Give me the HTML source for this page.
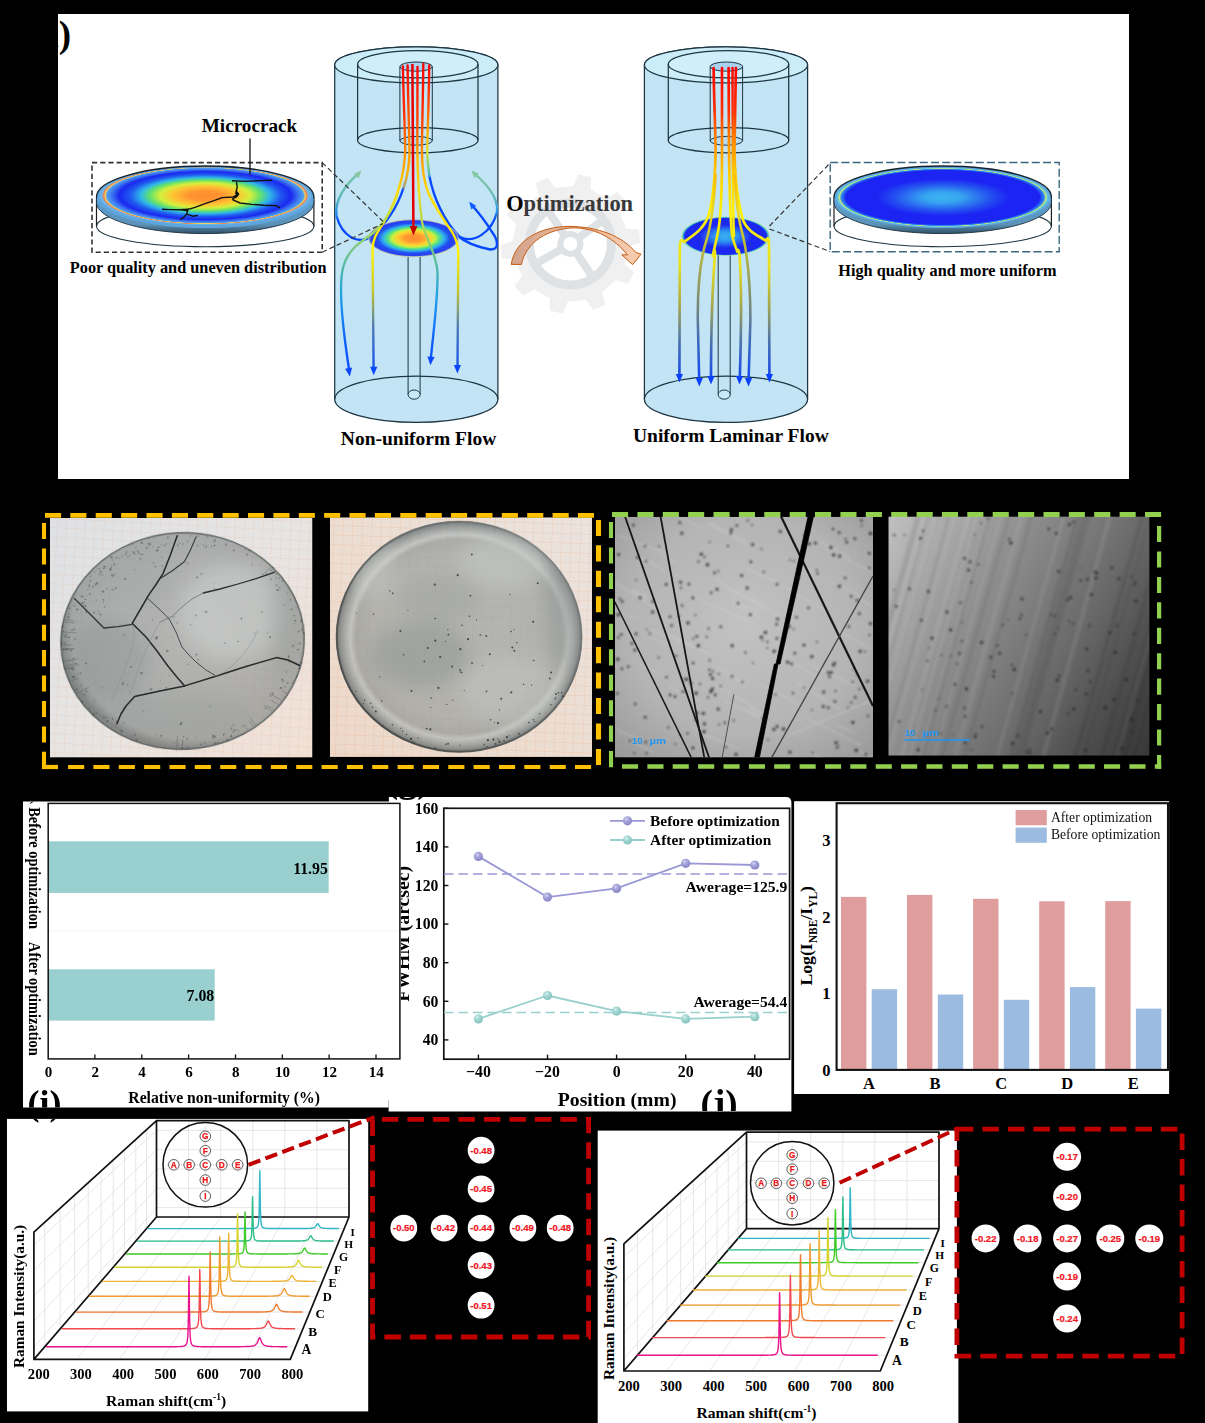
<!DOCTYPE html>
<html><head><meta charset="utf-8"><title>figure</title>
<style>html,body{margin:0;padding:0;background:#000;}svg{display:block;}</style></head>
<body><svg width="1205" height="1423" viewBox="0 0 1205 1423">
<defs>
<clipPath id="cpTop"><rect x="58" y="14" width="1071" height="465"/></clipPath>
<linearGradient id="gL" gradientUnits="userSpaceOnUse" x1="0" y1="66" x2="0" y2="378">
<stop offset="0" stop-color="#ff0000"/><stop offset="0.16" stop-color="#ff3000"/><stop offset="0.28" stop-color="#ff9000"/>
<stop offset="0.40" stop-color="#ffd800"/><stop offset="0.60" stop-color="#fff000"/><stop offset="0.72" stop-color="#c8c828"/>
<stop offset="0.84" stop-color="#4a78b8"/><stop offset="1" stop-color="#0a48ff"/></linearGradient>
<linearGradient id="gL2" gradientUnits="userSpaceOnUse" x1="0" y1="66" x2="0" y2="378">
<stop offset="0" stop-color="#ff0000"/><stop offset="0.20" stop-color="#ff5000"/><stop offset="0.30" stop-color="#ffc000"/>
<stop offset="0.40" stop-color="#f0e020"/><stop offset="0.52" stop-color="#a8d858"/><stop offset="0.62" stop-color="#60c098"/>
<stop offset="0.74" stop-color="#20a0e8"/><stop offset="0.88" stop-color="#1060ff"/><stop offset="1" stop-color="#0a48ff"/></linearGradient>
<linearGradient id="gBlue" gradientUnits="userSpaceOnUse" x1="0" y1="170" x2="0" y2="245">
<stop offset="0" stop-color="#86c8a0"/><stop offset="0.22" stop-color="#48a8d0"/><stop offset="0.5" stop-color="#1878f8"/>
<stop offset="0.75" stop-color="#0848ff"/><stop offset="1" stop-color="#0838ff"/></linearGradient>
<linearGradient id="gR" gradientUnits="userSpaceOnUse" x1="0" y1="66" x2="0" y2="388">
<stop offset="0" stop-color="#ff0000"/><stop offset="0.14" stop-color="#ff3000"/><stop offset="0.24" stop-color="#ff9000"/>
<stop offset="0.34" stop-color="#ffd000"/><stop offset="0.45" stop-color="#fff000"/><stop offset="0.62" stop-color="#e8e020"/>
<stop offset="0.74" stop-color="#a8a848"/><stop offset="0.86" stop-color="#4a70b0"/><stop offset="1" stop-color="#0a40ff"/></linearGradient>
<linearGradient id="gR2" gradientUnits="userSpaceOnUse" x1="0" y1="66" x2="0" y2="388">
<stop offset="0" stop-color="#ff0000"/><stop offset="0.3" stop-color="#ffb000"/><stop offset="0.45" stop-color="#e8d820"/>
<stop offset="0.6" stop-color="#b0b040"/><stop offset="0.74" stop-color="#788878"/><stop offset="0.86" stop-color="#3c68c0"/><stop offset="1" stop-color="#0a40ff"/></linearGradient>
<linearGradient id="gL6" gradientUnits="userSpaceOnUse" x1="0" y1="66" x2="0" y2="200">
<stop offset="0" stop-color="#ff0000"/><stop offset="0.3" stop-color="#ff5000"/><stop offset="0.5" stop-color="#ffb000"/>
<stop offset="0.64" stop-color="#e0e030"/><stop offset="0.74" stop-color="#80d080"/><stop offset="0.86" stop-color="#30a0e8"/><stop offset="1" stop-color="#1060ff"/></linearGradient>
<linearGradient id="gL2b" gradientUnits="userSpaceOnUse" x1="0" y1="66" x2="0" y2="200">
<stop offset="0" stop-color="#ff0000"/><stop offset="0.35" stop-color="#ff5000"/><stop offset="0.62" stop-color="#ff9800"/>
<stop offset="0.8" stop-color="#ffb000"/><stop offset="0.9" stop-color="#a0a080"/><stop offset="1" stop-color="#2070f0"/></linearGradient>
<linearGradient id="gBlueL" gradientUnits="userSpaceOnUse" x1="352" y1="176" x2="368" y2="192"><stop offset="0" stop-color="#86c8a0"/><stop offset="0.35" stop-color="#50b0c8"/><stop offset="0.7" stop-color="#2088f0"/><stop offset="1" stop-color="#0848ff"/></linearGradient>
<linearGradient id="gBlueR" gradientUnits="userSpaceOnUse" x1="481" y1="177" x2="466" y2="192"><stop offset="0" stop-color="#86c8a0"/><stop offset="0.35" stop-color="#50b0c8"/><stop offset="0.7" stop-color="#2088f0"/><stop offset="1" stop-color="#0848ff"/></linearGradient>
<radialGradient id="gDiskL" cx="0.5" cy="0.5" r="0.5">
<stop offset="0" stop-color="#ff8a30"/><stop offset="0.2" stop-color="#ff9a30"/><stop offset="0.36" stop-color="#ffd030"/>
<stop offset="0.48" stop-color="#c8f040"/><stop offset="0.58" stop-color="#50e088"/><stop offset="0.68" stop-color="#30b0f0"/>
<stop offset="0.8" stop-color="#2050f0"/><stop offset="0.93" stop-color="#2a3cf0"/><stop offset="1" stop-color="#7090e8"/></radialGradient>
<radialGradient id="gDiskR" cx="0.5" cy="0.5" r="0.5">
<stop offset="0" stop-color="#38b0f0"/><stop offset="0.25" stop-color="#3098f0"/><stop offset="0.6" stop-color="#1c28f0"/>
<stop offset="0.93" stop-color="#1c28f0"/><stop offset="0.97" stop-color="#40c0e0"/><stop offset="1" stop-color="#c0e060"/></radialGradient>
<linearGradient id="gRim" x1="0" y1="0" x2="0" y2="1"><stop offset="0" stop-color="#5d9fd2"/><stop offset="0.75" stop-color="#5b92b8"/><stop offset="1" stop-color="#2f5066"/></linearGradient>
<radialGradient id="gInL" cx="0.5" cy="0.47" r="0.5">
<stop offset="0" stop-color="#ff8c30"/><stop offset="0.16" stop-color="#ff9632"/><stop offset="0.30" stop-color="#ffc232"/>
<stop offset="0.42" stop-color="#d4f03c"/><stop offset="0.52" stop-color="#60e070"/><stop offset="0.60" stop-color="#30b8e8"/>
<stop offset="0.70" stop-color="#2058f0"/><stop offset="0.80" stop-color="#1a28f0"/><stop offset="0.87" stop-color="#3c78f0"/>
<stop offset="0.915" stop-color="#50a0f0"/><stop offset="0.93" stop-color="#f0d060"/><stop offset="0.945" stop-color="#f08050"/>
<stop offset="0.96" stop-color="#70b8e8"/><stop offset="1" stop-color="#5ca4e0"/></radialGradient>
<radialGradient id="gInR" cx="0.5" cy="0.5" r="0.5">
<stop offset="0" stop-color="#3ab4f0"/><stop offset="0.18" stop-color="#36a4f0"/><stop offset="0.45" stop-color="#2450f0"/>
<stop offset="0.62" stop-color="#1c24f4"/><stop offset="0.90" stop-color="#1c24f4"/><stop offset="0.945" stop-color="#3090f0"/>
<stop offset="0.96" stop-color="#d0e870"/><stop offset="0.975" stop-color="#60c8e0"/><stop offset="1" stop-color="#5ca4e0"/></radialGradient>
<linearGradient id="gArr" x1="0" y1="0" x2="1" y2="0"><stop offset="0" stop-color="#d2a48c"/><stop offset="0.45" stop-color="#e8b89c"/><stop offset="1" stop-color="#f9cdb0"/></linearGradient>
<clipPath id="cp1"><rect x="49.9" y="518" width="262.6" height="239.6"/></clipPath>
<clipPath id="cp2"><rect x="329.9" y="517.3" width="262.1" height="239.6"/></clipPath>
<clipPath id="cp3"><rect x="614.9" y="516.8" width="258.1" height="240.8"/></clipPath>
<clipPath id="cp4"><rect x="888.3" y="516.4" width="261.3" height="239.3"/></clipPath>
<pattern id="grid1" width="1.87" height="1.87" patternUnits="userSpaceOnUse" patternTransform="rotate(3)"><path d="M0,0 H1.87 M0,0 V1.87" stroke="#f0a070" stroke-width="0.5" opacity="0.18" fill="none"/></pattern>
<pattern id="grid1b" width="9.35" height="9.35" patternUnits="userSpaceOnUse" patternTransform="rotate(3)"><path d="M0,0 H9.35 M0,0 V9.35" stroke="#ee9458" stroke-width="0.6" opacity="0.36" fill="none"/></pattern>
<linearGradient id="bg1" x1="0" y1="0" x2="1" y2="1"><stop offset="0" stop-color="#dce3e9"/><stop offset="0.5" stop-color="#e6e7e8"/><stop offset="1" stop-color="#f1e3d9"/></linearGradient>
<radialGradient id="disc1" cx="0.55" cy="0.45" r="0.55"><stop offset="0" stop-color="#959997"/><stop offset="0.6" stop-color="#888d8b"/><stop offset="0.92" stop-color="#797f7e"/><stop offset="1" stop-color="#3e4444"/></radialGradient>
<filter id="blurB" x="-30%" y="-30%" width="160%" height="160%"><feGaussianBlur stdDeviation="9"/></filter>
<filter id="blurS" x="-30%" y="-30%" width="160%" height="160%"><feGaussianBlur stdDeviation="0.5"/></filter>
<clipPath id="cpD1"><ellipse cx="182.6" cy="641" rx="122" ry="108.6" transform="rotate(-3 182.6 641)"/></clipPath>
<pattern id="grid2" width="1.9" height="1.9" patternUnits="userSpaceOnUse" patternTransform="rotate(2)"><path d="M0,0 H1.9 M0,0 V1.9" stroke="#f09860" stroke-width="0.5" opacity="0.22" fill="none"/></pattern>
<pattern id="grid2b" width="9.5" height="9.5" patternUnits="userSpaceOnUse" patternTransform="rotate(2)"><path d="M0,0 H9.5 M0,0 V9.5" stroke="#ee8848" stroke-width="0.6" opacity="0.4" fill="none"/></pattern>
<linearGradient id="bg2" x1="1" y1="0" x2="0" y2="1"><stop offset="0" stop-color="#eae8e6"/><stop offset="0.5" stop-color="#ece2d9"/><stop offset="1" stop-color="#eddccf"/></linearGradient>
<radialGradient id="disc2" cx="0.5" cy="0.5" r="0.5"><stop offset="0" stop-color="#909a9b"/><stop offset="0.7" stop-color="#8c9697"/><stop offset="0.84" stop-color="#808a8b"/><stop offset="0.885" stop-color="#a6b2b3"/><stop offset="0.93" stop-color="#7b888b"/><stop offset="0.975" stop-color="#49595e"/><stop offset="1" stop-color="#0a1216"/></radialGradient>
<clipPath id="cpD2"><ellipse cx="459.1" cy="636.7" rx="123" ry="115.6"/></clipPath>
<linearGradient id="edge2" x1="1" y1="0" x2="0" y2="1"><stop offset="0" stop-color="#8a9090" stop-opacity="0.5"/><stop offset="0.5" stop-color="#5a6060" stop-opacity="0.8"/><stop offset="1" stop-color="#3c4242" stop-opacity="0.95"/></linearGradient>
<radialGradient id="bg3" cx="0.5" cy="0.45" r="0.75"><stop offset="0" stop-color="#c2c2c2"/><stop offset="0.6" stop-color="#b4b4b4"/><stop offset="1" stop-color="#989898"/></radialGradient>
<filter id="blur1" x="-10%" y="-10%" width="120%" height="120%"><feGaussianBlur stdDeviation="0.85"/></filter>
<linearGradient id="bg4" x1="0" y1="0" x2="1.2" y2="0.66"><stop offset="0" stop-color="#c0c0c0"/><stop offset="0.2" stop-color="#a4a4a4"/><stop offset="0.35" stop-color="#8e8e8e"/><stop offset="0.5" stop-color="#7b7b7b"/><stop offset="0.64" stop-color="#696969"/><stop offset="0.8" stop-color="#505050"/><stop offset="1" stop-color="#363636"/></linearGradient>
<filter id="blur2" x="-10%" y="-10%" width="120%" height="120%"><feGaussianBlur stdDeviation="1.6"/></filter>
<clipPath id="cpC2b"><rect x="388.9" y="796.9" width="402" height="314"/></clipPath>
<clipPath id="cpC2"><rect x="400.6" y="797" width="391" height="314"/></clipPath>
<radialGradient id="mP" cx="0.38" cy="0.32" r="0.7"><stop offset="0" stop-color="#d8d6f4"/><stop offset="0.35" stop-color="#a9a6dc"/><stop offset="1" stop-color="#8783c6"/></radialGradient>
<radialGradient id="mT" cx="0.38" cy="0.32" r="0.7"><stop offset="0" stop-color="#dcf2f0"/><stop offset="0.35" stop-color="#a6d8d4"/><stop offset="1" stop-color="#84c2be"/></radialGradient>
<clipPath id="cpC1"><path d="M23,801.6 H400.6 V1100 H388.6 V1107.6 H23Z"/></clipPath>
<clipPath id="cpRL"><rect x="7" y="1118.9" width="361.2" height="292.5"/></clipPath>
</defs>
<rect x="0" y="0" width="1205" height="1423" fill="#000"/>
<g id="top">
<rect x="58" y="14" width="1071" height="465" fill="#fff"/>
<text x="71" y="47" font-size="37" text-anchor="end" font-family="Liberation Serif" font-weight="bold" clip-path="url(#cpTop)">(a)</text>
<path d="M624.7,264.3 L634.2,272.6 L627.7,284.1 L615.7,280.1 L602.3,292.3 L605.2,304.7 L593.2,310.1 L585.8,299.8 L567.7,301.8 L562.8,313.5 L549.9,310.8 L550,298.2 L534.2,289.2 L523.4,295.7 L514.5,286 L522,275.8 L514.5,259.3 L501.9,258.2 L500.4,245.1 L512.5,241.2 L516.1,223.5 L506.6,215.2 L513.1,203.7 L525.1,207.7 L538.5,195.5 L535.6,183.1 L547.6,177.7 L555,188 L573.1,186 L578,174.3 L590.9,177 L590.8,189.6 L606.6,198.6 L617.4,192.1 L626.3,201.8 L618.8,212 L626.3,228.5 L638.9,229.6 L640.4,242.7 L628.3,246.6Z" fill="#f0f0f1"/>
<circle cx="570.4" cy="243.9" r="41" fill="#fff" stroke="#dfe2e5" stroke-width="9"/>
<line x1="577.7" y1="238.6" x2="601.1" y2="221.6" stroke="#dfe2e5" stroke-width="8"/>
<line x1="575.4" y1="251.4" x2="591.6" y2="275.4" stroke="#dfe2e5" stroke-width="8"/>
<line x1="562.6" y1="248.4" x2="537.5" y2="262.9" stroke="#dfe2e5" stroke-width="8"/>
<line x1="565.4" y1="236.4" x2="549.2" y2="212.4" stroke="#dfe2e5" stroke-width="8"/>
<circle cx="570.4" cy="243.9" r="10" fill="#fff" stroke="#dfe2e5" stroke-width="6"/>
<path d="M334.7,64.9 L334.7,399.3 A81.6,23.2 0 0 0 497.9,399.3 L497.9,64.9 A81.6,18 0 0 0 334.7,64.9Z" fill="#c2e4f4" stroke="#1d3642" stroke-width="1.25"/>
<path d="M334.7,399.3 A81.6,23.2 0 0 1 497.9,399.3" fill="none" stroke="#1d3642" stroke-width="1.25"/>
<ellipse cx="416.3" cy="64.9" rx="81.6" ry="18" fill="#cbecf9" stroke="#1d3642" stroke-width="1.25"/>
<ellipse cx="417.8" cy="64.3" rx="60.2" ry="13.6" fill="#cdeefa" stroke="#1d3642" stroke-width="1.25"/>
<line x1="357.6" y1="64.3" x2="357.6" y2="140.2" stroke="#1d3642" stroke-width="1.25"/>
<line x1="478" y1="64.3" x2="478" y2="140.2" stroke="#1d3642" stroke-width="1.25"/>
<ellipse cx="417.8" cy="140.2" rx="60.2" ry="12.7" fill="none" stroke="#1d3642" stroke-width="1.25"/>
<ellipse cx="416.1" cy="66.6" rx="16.2" ry="4.6" fill="#a9d2f0" stroke="#1d3642" stroke-width="1"/>
<ellipse cx="416.1" cy="140.8" rx="16.2" ry="4.4" fill="#b5dcf3" stroke="#1d3642" stroke-width="1"/>
<line x1="399.9" y1="66.6" x2="399.9" y2="140.8" stroke="#1d3642" stroke-width="1"/>
<line x1="432.3" y1="66.6" x2="432.3" y2="140.8" stroke="#1d3642" stroke-width="1"/>
<line x1="408.1" y1="257" x2="408.1" y2="394.6" stroke="#1d3642" stroke-width="1"/>
<line x1="420.1" y1="257" x2="420.1" y2="394.6" stroke="#1d3642" stroke-width="1"/>
<ellipse cx="414.1" cy="394.6" rx="6" ry="4.6" fill="#c9eaf8" stroke="#1d3642" stroke-width="1"/>
<path d="M403.5,188 C398,205 388,222 372,236 C358,246 342,236 336.5,216 C334,200 346,184 359,173" fill="none" stroke="url(#gBlueL)" stroke-width="2.35" stroke-linecap="round" stroke-linejoin="round" />
<path d="M361.5,170.6 L358.7,178.2 L354.1,173.9Z" fill="#86c8a0"/>
<path d="M429.4,176 C433,196 444,222 460,237 C474,244 492,232 497,212 C499,196 484,182 473.5,172.5" fill="none" stroke="url(#gBlueR)" stroke-width="2.35" stroke-linecap="round" stroke-linejoin="round" />
<path d="M471.3,170.4 L478.8,173.5 L474.4,177.9Z" fill="#86c8a0"/>
<path d="M458,236 C466,243 478,247 490,249.5 C500,250 498,240 492,232 C486,222 478,212 471,204" fill="none" stroke="#0848ff" stroke-width="2.35" stroke-linecap="round" stroke-linejoin="round" />
<path d="M469.2,201.8 L476.3,205.8 L471.3,209.6Z" fill="#1060ff"/>
<ellipse cx="413.5" cy="238.2" rx="45" ry="18.6" fill="url(#gDiskL)" stroke="#e8d870" stroke-width="0.5"/>
<path d="M402.9,66.5 C403.5,100 405,130 405.2,150 C404.6,172 398,198 384,222 C376,234 372,240 372.6,252 L373.6,368" fill="none" stroke="url(#gL)" stroke-width="2.35" stroke-linecap="round" stroke-linejoin="round" />
<path d="M407.6,65.5 C408,100 409.2,130 409.5,152 C409.4,166 407,178 403.5,188" fill="none" stroke="url(#gL2b)" stroke-width="2.35" stroke-linecap="round" stroke-linejoin="round" />
<path d="M417.5,67 C417.5,100 417.2,130 417.3,150 C417.6,176 419,200 422,222 C426,240 436,252 437.5,272 C438,300 433,335 431,357" fill="none" stroke="url(#gL2)" stroke-width="2.35" stroke-linecap="round" stroke-linejoin="round" />
<path d="M423.3,64 C423,100 422,130 421.9,150 C422,170 424,182 428,192 C434,206 444,220 452,232 C457,240 458.4,246 458.3,254 L457.5,366" fill="none" stroke="url(#gL)" stroke-width="2.35" stroke-linecap="round" stroke-linejoin="round" />
<path d="M429.2,65.5 C429,100 427.5,130 427.2,150 C427.4,160 428.2,168 429.4,176" fill="none" stroke="url(#gL6)" stroke-width="2.35" stroke-linecap="round" stroke-linejoin="round" />
<path d="M397,196 C392,210 384,224 372,234 C360,242 348,250 343.5,266 C338,284 343,330 349,369" fill="none" stroke="url(#gL2)" stroke-width="2.35" stroke-linecap="round" stroke-linejoin="round" />
<path d="M349.9,376.6 L345,368.8 L352.1,367.6Z" fill="#0a48ff"/>
<path d="M373.7,375.2 L370.1,366.7 L377.3,366.7Z" fill="#0a48ff"/>
<path d="M430.4,365.2 L427.4,356.5 L434.6,357Z" fill="#0a48ff"/>
<path d="M457.4,373.6 L453.8,365.1 L461,365.1Z" fill="#0a48ff"/>
<line x1="412.4" y1="64" x2="413.4" y2="228" stroke="#e80000" stroke-width="2.5"/>
<path d="M413.5,235.6 L409.6,226 L417.4,226Z" fill="#c00000"/>
<text x="340.8" y="445" font-size="19.5" text-anchor="start" font-family="Liberation Serif" font-weight="bold" fill="#000" >Non-uniform Flow</text>
<path d="M644.4,64.9 L644.4,399.3 A81.6,23.2 0 0 0 807.6,399.3 L807.6,64.9 A81.6,18 0 0 0 644.4,64.9Z" fill="#c2e4f4" stroke="#1d3642" stroke-width="1.25"/>
<path d="M644.4,399.3 A81.6,23.2 0 0 1 807.6,399.3" fill="none" stroke="#1d3642" stroke-width="1.25"/>
<ellipse cx="726" cy="64.9" rx="81.6" ry="18" fill="#cbecf9" stroke="#1d3642" stroke-width="1.25"/>
<ellipse cx="728.5" cy="64.3" rx="60.2" ry="13.6" fill="#cdeefa" stroke="#1d3642" stroke-width="1.25"/>
<line x1="668.3" y1="64.3" x2="668.3" y2="140.2" stroke="#1d3642" stroke-width="1.25"/>
<line x1="788.7" y1="64.3" x2="788.7" y2="140.2" stroke="#1d3642" stroke-width="1.25"/>
<ellipse cx="728.5" cy="140.2" rx="60.2" ry="12.7" fill="none" stroke="#1d3642" stroke-width="1.25"/>
<ellipse cx="726.4" cy="66.6" rx="16.2" ry="4.6" fill="#a9d2f0" stroke="#1d3642" stroke-width="1"/>
<ellipse cx="726.4" cy="140.8" rx="16.2" ry="4.4" fill="#b5dcf3" stroke="#1d3642" stroke-width="1"/>
<line x1="710.2" y1="66.6" x2="710.2" y2="140.8" stroke="#1d3642" stroke-width="1"/>
<line x1="742.6" y1="66.6" x2="742.6" y2="140.8" stroke="#1d3642" stroke-width="1"/>
<line x1="718.2" y1="255" x2="718.2" y2="394.6" stroke="#1d3642" stroke-width="1"/>
<line x1="730.2" y1="255" x2="730.2" y2="394.6" stroke="#1d3642" stroke-width="1"/>
<ellipse cx="724.2" cy="394.6" rx="6" ry="4.6" fill="#c9eaf8" stroke="#1d3642" stroke-width="1"/>
<ellipse cx="725.6" cy="236.3" rx="44" ry="19.5" fill="url(#gDiskR)"/>
<path d="M713.6,68 C714,100 715.4,130 715.6,150 C715.2,175 714,195 709,214 C704,230 692,236 684,242 C681,238 680,240 679.8,250 L679.4,376" fill="none" stroke="url(#gR)" stroke-width="2.65" stroke-linecap="round" stroke-linejoin="round" />
<path d="M722,68 L722,150 C722,180 722,205 719,226 C717,240 714,248 712.8,256 C714,250 715,248 715,254 C713,280 711,330 711,378" fill="none" stroke="url(#gR)" stroke-width="2.65" stroke-linecap="round" stroke-linejoin="round" />
<path d="M728.6,68 L729,150 C729.4,185 730,215 732,235 C734,244 736,248 737.5,252 C738,248 739,250 739.6,256 C742,290 741,340 739.8,378" fill="none" stroke="url(#gR)" stroke-width="2.65" stroke-linecap="round" stroke-linejoin="round" />
<path d="M732.5,68 L732.8,150 C733,190 733,215 734,236" fill="none" stroke="url(#gR)" stroke-width="2.45" stroke-linecap="round" stroke-linejoin="round" />
<path d="M735.9,68 C735.4,100 734.6,130 734.5,150 C734.8,175 736.5,198 743,220 C748,233 760,236 766,241 C768,236 769,238 769,248 L769.4,376" fill="none" stroke="url(#gR)" stroke-width="2.65" stroke-linecap="round" stroke-linejoin="round" />
<path d="M715.6,175 C714,205 711,225 706.5,240 C700,260 697.5,290 697.8,320 L699.2,380" fill="none" stroke="url(#gR2)" stroke-width="2.55" stroke-linecap="round" stroke-linejoin="round" />
<path d="M734.8,175 C736,205 739,222 743,236 C748,258 750.4,290 750.4,320 L748.6,380" fill="none" stroke="url(#gR2)" stroke-width="2.55" stroke-linecap="round" stroke-linejoin="round" />
<path d="M679.4,382.6 L675.8,374.1 L683,374.1Z" fill="#0a40ff"/>
<path d="M699.3,386.4 L695.7,377.9 L702.9,377.9Z" fill="#0a40ff"/>
<path d="M711,384.4 L707.4,375.9 L714.6,375.9Z" fill="#0a40ff"/>
<path d="M739.5,384.4 L735.9,375.9 L743.1,375.9Z" fill="#0a40ff"/>
<path d="M748.5,386.4 L744.9,377.9 L752.1,377.9Z" fill="#0a40ff"/>
<path d="M769.4,382.6 L765.8,374.1 L773,374.1Z" fill="#0a40ff"/>
<text x="633" y="442.3" font-size="19.5" text-anchor="start" font-family="Liberation Serif" font-weight="bold" fill="#000" >Uniform Laminar Flow</text>
<rect x="92" y="162.6" width="230.2" height="89.6" fill="none" stroke="#333" stroke-width="1.6" stroke-dasharray="5.2 3"/>
<path d="M322.2,162.6 L383,221.4 M322.2,252.2 L383,223.6" fill="none" stroke="#333" stroke-width="1.2" stroke-dasharray="5 3"/>
<ellipse cx="205.2" cy="226.3" rx="108.7" ry="20.4" fill="#fff" stroke="#1d3642" stroke-width="1.1"/>
<line x1="96.5" y1="199" x2="96.5" y2="226.3" stroke="#1d1d1d" stroke-width="1.2"/>
<line x1="313.9" y1="199" x2="313.9" y2="226.3" stroke="#1d1d1d" stroke-width="1.2"/>
<path d="M96.5,197 L96.5,202.6 A108.7,31 0 0 0 313.9,202.6 L313.9,197Z" fill="url(#gRim)" stroke="#1c3040" stroke-width="0.9"/>
<ellipse cx="205.2" cy="197" rx="108.7" ry="31" fill="#62a8de"/>
<path d="M96.5,198.5 L96.5,197 A108.7,31 0 0 1 313.9,197 L313.9,198.5" fill="none" stroke="#16222c" stroke-width="1.3"/>
<ellipse cx="205.2" cy="197.4" rx="107.5" ry="30" fill="url(#gInL)"/>
<path d="M232,180.8 L246,181.4 L260,180.6 L272,180.2 M236.5,182 L237.2,187 L236.2,191.5 L238.6,194 L236.4,197 L232,199.4 M238.6,194.5 L233,197 L222,197.6 L214,200.6 L205,203.6 L195,207.4 L188,209.4 L180,209.8 L170,209.6 L162,209.2 M188,209.6 L186.6,214 L184,217 L180.4,219.8 M186.6,214.2 L193,216.2 L198,215.4 M232.4,199.6 L240,203 L252,204.4 L264,205.2 L276,205.6 L280,208" fill="none" stroke="#111" stroke-width="1.4" stroke-linejoin="round"/>
<path d="M236.2,190 L238.8,193.6 L237,196.4 L235,193.4Z M180,209 L188.6,208.4 L187.6,211.6 L182,210.6Z" fill="#111"/>
<text x="201.7" y="131.8" font-size="19.2" text-anchor="start" font-family="Liberation Serif" font-weight="bold" fill="#000" >Microcrack</text>
<line x1="250" y1="138.5" x2="250" y2="174.6" stroke="#111" stroke-width="1.3"/>
<text x="69.8" y="273.2" font-size="16.3" text-anchor="start" font-family="Liberation Serif" font-weight="bold" fill="#000" >Poor quality and uneven distribution</text>
<rect x="830.2" y="162.5" width="229" height="89.2" fill="none" stroke="#3a6680" stroke-width="1.4" stroke-dasharray="8 3.2"/>
<path d="M769.5,226 L830.2,163 M769.5,229 L830.2,251.6" fill="none" stroke="#333" stroke-width="1.2" stroke-dasharray="5 3"/>
<ellipse cx="942.7" cy="226.3" rx="108.7" ry="20.4" fill="#fff" stroke="#1d3642" stroke-width="1.1"/>
<line x1="834" y1="199" x2="834" y2="226.3" stroke="#1d1d1d" stroke-width="1.2"/>
<line x1="1051.4" y1="199" x2="1051.4" y2="226.3" stroke="#1d1d1d" stroke-width="1.2"/>
<path d="M834,197 L834,202.6 A108.7,31 0 0 0 1051.4,202.6 L1051.4,197Z" fill="url(#gRim)" stroke="#1c3040" stroke-width="0.9"/>
<ellipse cx="942.7" cy="197" rx="108.7" ry="31" fill="#62a8de"/>
<path d="M834,198.5 L834,197 A108.7,31 0 0 1 1051.4,197 L1051.4,198.5" fill="none" stroke="#16222c" stroke-width="1.3"/>
<ellipse cx="942.7" cy="197.4" rx="107.5" ry="30" fill="url(#gInR)"/>
<text x="838.3" y="275.6" font-size="16.25" text-anchor="start" font-family="Liberation Serif" font-weight="bold" fill="#000" >High quality and more uniform</text>
<text x="506.2" y="210.8" font-size="22.4" font-family="Liberation Serif" font-weight="bold"><tspan fill="#000">O</tspan><tspan fill="#38383b">ptimization</tspan></text>
<path d="M511.2,264.4 C515,240 540,226.6 569,226.4 C598,226.6 622,236 636,252.6 L641,254.2 L632.6,264.6 L621.8,254.8 L627.6,255 C614,238 596,228.4 574,227.8 C548,228.6 526,242 521.4,264.4Z" fill="url(#gArr)" stroke="#c55a11" stroke-width="1" stroke-linejoin="miter"/>
</g>
<g id="photos">
<g clip-path="url(#cp1)">
<rect x="49.9" y="518" width="262.6" height="239.6" fill="url(#bg1)" />
<rect x="49.9" y="518" width="262.6" height="239.6" fill="url(#grid1)" />
<rect x="49.9" y="518" width="262.6" height="239.6" fill="url(#grid1b)" />
<ellipse cx="182.6" cy="641" rx="122" ry="108.6" fill="url(#disc1)" opacity="0.6" transform="rotate(-3 182.6 641)"/>
<g clip-path="url(#cpD1)">
<g filter="url(#blurB)">
<ellipse cx="232" cy="612" rx="52" ry="48" fill="#cdd1cf" opacity="0.55"/>
<ellipse cx="110" cy="660" rx="40" ry="40" fill="#8f9594" opacity="0.45"/>
<ellipse cx="180" cy="715" rx="70" ry="25" fill="#9a9f9e" opacity="0.4"/>
<ellipse cx="130" cy="575" rx="45" ry="30" fill="#a2a7a6" opacity="0.4"/>
<ellipse cx="285" cy="620" rx="14" ry="60" fill="#9a9f9e" opacity="0.5"/>
</g>
</g>
<ellipse cx="182.6" cy="641" rx="121.6" ry="108.2" fill="none" stroke="#5c6262" stroke-width="1.5" opacity="0.9" transform="rotate(-3 182.6 641)" filter="url(#blurS)"/>
<g fill="none" stroke-linejoin="round" stroke-linecap="round" filter="url(#blurS)">
<path d="M177.2,535.7 L170,556 L163,573.6 L155,586 L148.8,594.9 L140,610 L132.2,623.3 L146.4,637.5 L157,651 L167.7,665.8 L176,676 L184.7,685.9" stroke="#262a2a" stroke-width="1.5"/>
<path d="M196.1,536.9 L190,551 L184.3,561.8 L172,571 L160.6,578.3" stroke="#363a3a" stroke-width="1.1"/>
<path d="M74.3,598.4 L90,614 L103.9,628 L118,626.6 L132.2,624.4" stroke="#303434" stroke-width="1.3"/>
<path d="M274.2,572.4 L256,578.6 L238,584 L220,589 L203.2,593" stroke="#2c3030" stroke-width="1.3"/>
<path d="M203.2,593 L192,599 L182,607 L172.4,616.2 L160,622" stroke="#6c7272" stroke-width="0.8"/>
<path d="M146.4,597.2 L158,608 L168.9,618.5 L176,632 L181.9,646.9 L188,654 L196,662 L206,670 L215,675.3" stroke="#444a4a" stroke-width="1"/>
<path d="M116.9,723.8 L121,714 L126,706 L134.6,696.6 L160,691 L184.7,685.9 L215,676.5 L246,666.5 L276.5,657.6 L288,660 L300.2,665.8" stroke="#262a2a" stroke-width="1.5"/>
<path d="M132,624 C140,640 120,680 112,700 M160,622 C150,640 140,660 132,690 M215,676 C230,672 250,650 258,630" stroke="#8a9090" stroke-width="0.7" opacity="0.7"/>
</g>
<g transform="rotate(-3 182.6 641)"><g fill="#3a4040" opacity="0.72" filter="url(#blurS)"><circle cx="72.5" cy="671.2" r="0.9"/><circle cx="70.8" cy="662.8" r="0.7"/><circle cx="228.3" cy="734.5" r="0.7"/><circle cx="211.6" cy="547.8" r="0.6"/><circle cx="282.6" cy="698" r="0.7"/><circle cx="299.6" cy="669" r="0.9"/><circle cx="116.8" cy="556" r="0.5"/><circle cx="296.9" cy="650.6" r="0.4"/><circle cx="223.2" cy="732.7" r="0.4"/><circle cx="72" cy="663.7" r="0.8"/><circle cx="67.1" cy="628.6" r="0.6"/><circle cx="123.1" cy="554.7" r="0.5"/><circle cx="303.9" cy="639.4" r="0.8"/><circle cx="153.3" cy="545" r="0.5"/><circle cx="156.3" cy="734.6" r="0.8"/><circle cx="86" cy="703.2" r="0.6"/><circle cx="297.7" cy="613.3" r="0.4"/><circle cx="212.7" cy="744.5" r="0.6"/><circle cx="294.7" cy="628.6" r="0.4"/><circle cx="101.3" cy="564.5" r="0.5"/><circle cx="278.2" cy="692.9" r="0.9"/><circle cx="188.1" cy="544.1" r="0.5"/><circle cx="269.7" cy="698.1" r="0.8"/><circle cx="233.2" cy="733.1" r="0.6"/><circle cx="225.4" cy="738.5" r="0.5"/><circle cx="115.1" cy="564.8" r="0.6"/><circle cx="208.3" cy="737.3" r="0.9"/><circle cx="219.4" cy="547.2" r="0.8"/><circle cx="210.2" cy="738.4" r="0.8"/><circle cx="114.2" cy="565.7" r="0.9"/><circle cx="208" cy="737.2" r="0.8"/><circle cx="129.5" cy="728.3" r="0.4"/><circle cx="280.1" cy="696.2" r="0.5"/><circle cx="92.1" cy="581.4" r="0.6"/><circle cx="293" cy="615.2" r="0.7"/><circle cx="256.1" cy="568.2" r="0.5"/><circle cx="282.3" cy="583.4" r="0.5"/><circle cx="226.1" cy="738.4" r="0.9"/><circle cx="222.3" cy="742.4" r="0.8"/><circle cx="92.5" cy="579.9" r="0.5"/><circle cx="299.9" cy="666.9" r="0.5"/><circle cx="151.4" cy="546.2" r="0.8"/><circle cx="91" cy="584.5" r="0.5"/><circle cx="162.5" cy="546.2" r="0.5"/><circle cx="71.5" cy="602.3" r="0.7"/><circle cx="159.9" cy="746.1" r="0.5"/><circle cx="293.1" cy="651.3" r="0.6"/><circle cx="284.6" cy="677.3" r="0.6"/><circle cx="84.4" cy="598.4" r="0.6"/><circle cx="276.4" cy="572.8" r="0.7"/><circle cx="140.9" cy="545.1" r="0.5"/><circle cx="287.6" cy="661.9" r="0.9"/><circle cx="146" cy="538.5" r="0.4"/><circle cx="107.8" cy="564.3" r="0.8"/><circle cx="131.7" cy="739.1" r="0.4"/><circle cx="69.8" cy="611.1" r="0.9"/><circle cx="173.1" cy="537" r="0.8"/><circle cx="279.3" cy="590.1" r="0.7"/><circle cx="279.7" cy="578.9" r="0.6"/><circle cx="212.7" cy="538.1" r="0.7"/><circle cx="102.9" cy="570.1" r="0.7"/><circle cx="98.5" cy="580" r="0.7"/><circle cx="302.2" cy="636.5" r="0.8"/><circle cx="92.7" cy="708.6" r="0.7"/><circle cx="71.7" cy="679.7" r="0.4"/><circle cx="182.7" cy="545.1" r="0.7"/><circle cx="72.8" cy="652.8" r="0.7"/><circle cx="66.6" cy="642.8" r="0.9"/><circle cx="178.7" cy="736.6" r="0.6"/><circle cx="134.5" cy="552.7" r="0.5"/><circle cx="279.4" cy="583" r="0.6"/><circle cx="269.6" cy="578.3" r="0.7"/><circle cx="218.7" cy="736.7" r="0.8"/><circle cx="285.3" cy="586.3" r="0.6"/><circle cx="85.7" cy="591.4" r="0.5"/><circle cx="63.5" cy="643.4" r="0.8"/><circle cx="153.5" cy="536.7" r="0.5"/><circle cx="237.9" cy="729.4" r="0.5"/><circle cx="207.9" cy="739.2" r="0.7"/><circle cx="70.9" cy="644.8" r="0.8"/><circle cx="295.6" cy="629.6" r="0.4"/><circle cx="299.9" cy="661.9" r="0.4"/><circle cx="152.9" cy="541.8" r="0.6"/><circle cx="210.4" cy="548.4" r="0.5"/><circle cx="79.2" cy="667.8" r="0.8"/><circle cx="191.2" cy="738" r="0.4"/><circle cx="104.4" cy="567.6" r="0.7"/><circle cx="115.9" cy="553.6" r="0.9"/><circle cx="138.5" cy="551.1" r="0.6"/><circle cx="229.2" cy="727.3" r="0.6"/><circle cx="158.1" cy="545.7" r="0.5"/><circle cx="116.3" cy="727" r="0.7"/><circle cx="93.8" cy="571.8" r="0.6"/><circle cx="213.9" cy="537.8" r="0.4"/><circle cx="289.7" cy="598" r="0.5"/><circle cx="71.4" cy="670.8" r="0.9"/><circle cx="100.1" cy="712.8" r="0.8"/><circle cx="217.5" cy="538.2" r="0.6"/><circle cx="118.5" cy="561.1" r="0.8"/><circle cx="231" cy="546.8" r="0.8"/><circle cx="210" cy="745" r="0.9"/><circle cx="296.3" cy="626.5" r="0.8"/><circle cx="131.2" cy="737.6" r="0.8"/><circle cx="119.6" cy="719.7" r="0.6"/><circle cx="70.3" cy="608.3" r="0.6"/><circle cx="299.4" cy="659.8" r="0.4"/><circle cx="216.4" cy="548" r="0.6"/><circle cx="208.4" cy="546.4" r="0.5"/><circle cx="65.7" cy="630.2" r="0.8"/><circle cx="137.8" cy="541.3" r="0.6"/><circle cx="285.7" cy="610.6" r="0.5"/><circle cx="72.7" cy="624.5" r="0.8"/><circle cx="108.9" cy="562.8" r="0.8"/><circle cx="78.7" cy="604.4" r="0.6"/><circle cx="250.2" cy="552.8" r="0.5"/><circle cx="254.2" cy="554.2" r="0.7"/><circle cx="83.8" cy="597.6" r="0.7"/><circle cx="66.8" cy="638.9" r="0.4"/><circle cx="295.1" cy="621.5" r="0.6"/><circle cx="219" cy="543.6" r="0.6"/><circle cx="143.4" cy="551.2" r="0.7"/><circle cx="79.1" cy="696.4" r="0.9"/><circle cx="168.9" cy="741.7" r="0.5"/><circle cx="74" cy="683.8" r="0.9"/><circle cx="72" cy="655.6" r="0.5"/><circle cx="93.8" cy="568.7" r="0.5"/><circle cx="202.3" cy="546.8" r="0.5"/><circle cx="199.3" cy="744.1" r="0.6"/><circle cx="111.3" cy="722.5" r="0.5"/><circle cx="169.5" cy="544.6" r="0.7"/><circle cx="182.2" cy="739" r="0.7"/><circle cx="78.7" cy="679.8" r="0.6"/><circle cx="74.9" cy="623.1" r="0.5"/><circle cx="103.7" cy="564.9" r="0.7"/><circle cx="251.5" cy="558" r="0.8"/><circle cx="195.4" cy="745.2" r="0.8"/><circle cx="274.1" cy="583.9" r="0.6"/><circle cx="280.3" cy="595.2" r="0.9"/><circle cx="265.7" cy="577.9" r="0.5"/><circle cx="166.3" cy="543.3" r="0.4"/><circle cx="238.5" cy="553.3" r="0.8"/><circle cx="262" cy="712.6" r="0.7"/><circle cx="292.1" cy="651.9" r="0.7"/><circle cx="285.3" cy="584.1" r="0.5"/><circle cx="64.7" cy="637.3" r="0.7"/><circle cx="139.3" cy="551" r="0.4"/><circle cx="267.4" cy="700.4" r="0.7"/><circle cx="67.8" cy="631.5" r="0.5"/><circle cx="226.7" cy="730.9" r="0.8"/><circle cx="302.7" cy="634.5" r="0.4"/><circle cx="294.3" cy="681.8" r="0.6"/><circle cx="192.9" cy="541.8" r="0.6"/><circle cx="69.7" cy="631.3" r="0.7"/><circle cx="299.4" cy="649.7" r="0.8"/><circle cx="230.2" cy="732.9" r="0.8"/><circle cx="91.4" cy="695.9" r="0.5"/><circle cx="75.4" cy="633.5" r="0.8"/><circle cx="220" cy="542.1" r="0.8"/><circle cx="104.9" cy="567.9" r="0.7"/><circle cx="61.5" cy="638.1" r="0.8"/><circle cx="176.4" cy="747.8" r="0.8"/><circle cx="203.4" cy="536.9" r="0.6"/><circle cx="277.9" cy="576.5" r="0.7"/><circle cx="195.4" cy="536.5" r="0.6"/><circle cx="164.1" cy="546" r="0.6"/><circle cx="77.1" cy="659.6" r="0.6"/><circle cx="107.9" cy="561.9" r="0.5"/><circle cx="292.3" cy="605.6" r="0.6"/><circle cx="120.6" cy="554.4" r="0.7"/><circle cx="89.3" cy="710.1" r="0.7"/><circle cx="147" cy="540.8" r="0.9"/><circle cx="297.4" cy="655.8" r="0.8"/><circle cx="177.9" cy="741.5" r="0.4"/><circle cx="220.5" cy="735.4" r="0.4"/><circle cx="181.9" cy="747.9" r="0.7"/><circle cx="61.8" cy="635.7" r="0.7"/><circle cx="298.9" cy="637.8" r="0.8"/><circle cx="285.3" cy="688.5" r="0.8"/><circle cx="298.2" cy="671" r="0.5"/><circle cx="74.6" cy="658.2" r="0.6"/><circle cx="99.8" cy="579.1" r="0.9"/><circle cx="81.8" cy="689.8" r="0.7"/><circle cx="108.6" cy="715.1" r="0.7"/><circle cx="79.2" cy="604.1" r="0.8"/><circle cx="151.9" cy="732.8" r="0.5"/><circle cx="288.2" cy="666.9" r="0.8"/><circle cx="90.2" cy="709.1" r="0.8"/><circle cx="297.9" cy="674.5" r="0.9"/><circle cx="290.1" cy="688.6" r="0.6"/><circle cx="62.8" cy="656.1" r="0.5"/><circle cx="63.4" cy="625.3" r="0.8"/><circle cx="63.9" cy="662.3" r="0.8"/><circle cx="95.9" cy="582.2" r="0.7"/><circle cx="76.6" cy="668" r="0.4"/><circle cx="75.2" cy="623.9" r="0.6"/><circle cx="126.5" cy="552.9" r="0.5"/><circle cx="84.1" cy="591.2" r="0.8"/><circle cx="63.5" cy="620.2" r="0.9"/><circle cx="171.7" cy="542.9" r="0.5"/><circle cx="275.1" cy="575.2" r="0.7"/><circle cx="112.2" cy="717.6" r="0.7"/><circle cx="76.4" cy="600.2" r="0.7"/><circle cx="184.9" cy="543.1" r="0.5"/><circle cx="301.8" cy="627.4" r="0.8"/><circle cx="287.5" cy="664.7" r="0.5"/><circle cx="79.1" cy="687.8" r="0.5"/><circle cx="77.9" cy="616" r="0.4"/><circle cx="131.2" cy="549.3" r="0.7"/><circle cx="102.9" cy="713.6" r="0.5"/><circle cx="117.2" cy="728.2" r="0.8"/><circle cx="280" cy="684.7" r="0.8"/><circle cx="98.4" cy="567.2" r="0.5"/><circle cx="83.9" cy="686.2" r="0.8"/><circle cx="103.4" cy="717.1" r="0.9"/><circle cx="130.1" cy="732.1" r="0.8"/><circle cx="282.2" cy="592.8" r="0.6"/><circle cx="280.7" cy="702" r="0.4"/><circle cx="282.5" cy="692.1" r="0.6"/><circle cx="138.5" cy="549.8" r="0.8"/><circle cx="280.6" cy="686.2" r="0.7"/><circle cx="95.6" cy="607.9" r="0.8"/><circle cx="138.1" cy="567.3" r="0.5"/><circle cx="100.9" cy="578.8" r="0.6"/><circle cx="85.9" cy="600.1" r="0.7"/><circle cx="154.8" cy="542.5" r="0.9"/><circle cx="105.7" cy="571.1" r="0.6"/><circle cx="105.7" cy="587.5" r="0.9"/><circle cx="157.5" cy="561.3" r="0.6"/><circle cx="109.8" cy="584.6" r="0.6"/><circle cx="115.2" cy="586.2" r="0.7"/><circle cx="144.8" cy="556.8" r="0.8"/><circle cx="128.5" cy="576.1" r="0.8"/><circle cx="155.9" cy="560.8" r="0.4"/><circle cx="117.7" cy="571" r="0.7"/><circle cx="162.3" cy="549.1" r="0.8"/><circle cx="88" cy="606.9" r="0.8"/><circle cx="101.9" cy="610.1" r="0.8"/><circle cx="159.3" cy="565.5" r="0.7"/><circle cx="86.3" cy="597.2" r="0.7"/><circle cx="105.7" cy="595.8" r="0.8"/><circle cx="114" cy="565.9" r="0.6"/><circle cx="93.6" cy="576.2" r="0.7"/><circle cx="116" cy="572.5" r="0.8"/><circle cx="130.5" cy="551.4" r="0.6"/><circle cx="146.5" cy="552.5" r="0.8"/><circle cx="142.5" cy="549" r="0.8"/><circle cx="161.4" cy="549.5" r="0.7"/><circle cx="132.3" cy="554.1" r="0.6"/><circle cx="118.5" cy="584.9" r="0.8"/><circle cx="166.5" cy="556" r="0.5"/><circle cx="98.2" cy="596.1" r="0.5"/><circle cx="166.1" cy="564.8" r="0.6"/><circle cx="87.5" cy="601.1" r="0.8"/><circle cx="106.5" cy="603" r="0.6"/><circle cx="117.4" cy="558.7" r="0.4"/><circle cx="100" cy="607" r="0.5"/><circle cx="92.5" cy="589.2" r="0.7"/><circle cx="105.5" cy="597.9" r="0.5"/><circle cx="87.6" cy="594.4" r="0.6"/><circle cx="115.5" cy="563" r="0.6"/><circle cx="176.5" cy="724" r="0.9"/><circle cx="148.5" cy="687.4" r="1"/><circle cx="150.4" cy="644.1" r="0.4"/><circle cx="263.5" cy="616.3" r="0.6"/><circle cx="124.1" cy="631.9" r="0.6"/><circle cx="254.8" cy="637.1" r="0.5"/><circle cx="237.9" cy="644.4" r="0.6"/><circle cx="205" cy="575" r="0.8"/><circle cx="197.2" cy="660.7" r="0.6"/><circle cx="177.2" cy="722.5" r="0.7"/><circle cx="115.4" cy="571.4" r="0.6"/><circle cx="157.2" cy="636" r="0.9"/><circle cx="270" cy="641.7" r="0.9"/><circle cx="191.2" cy="625.2" r="0.6"/><circle cx="178.2" cy="622.6" r="0.7"/><circle cx="84.9" cy="658.3" r="0.8"/><circle cx="207.6" cy="613.2" r="0.9"/><circle cx="99.3" cy="683.6" r="0.5"/><circle cx="197" cy="616.3" r="0.7"/><circle cx="156.3" cy="637.2" r="0.9"/><circle cx="167.3" cy="674.5" r="0.4"/><circle cx="163.8" cy="687" r="0.8"/><circle cx="134.9" cy="692.6" r="0.5"/><circle cx="139.7" cy="670.9" r="1"/><circle cx="217.2" cy="584.8" r="0.4"/><circle cx="127.3" cy="688.9" r="0.5"/><circle cx="132.8" cy="622.1" r="0.4"/><circle cx="267.8" cy="637" r="0.5"/><circle cx="153.7" cy="618" r="0.6"/><circle cx="144.3" cy="632.3" r="0.6"/><circle cx="125.6" cy="681.8" r="0.6"/><circle cx="207.1" cy="708" r="0.6"/><circle cx="242.5" cy="621.8" r="0.8"/><circle cx="139.5" cy="709.1" r="0.5"/><circle cx="195.8" cy="655.4" r="0.8"/><circle cx="175.2" cy="616.4" r="0.6"/><circle cx="217.1" cy="590.5" r="0.5"/><circle cx="186.5" cy="664.4" r="0.5"/><circle cx="166.9" cy="650.3" r="1"/><circle cx="129.7" cy="664.3" r="0.8"/><circle cx="191.8" cy="563.7" r="0.6"/><circle cx="158.2" cy="679.7" r="0.4"/><circle cx="120.7" cy="680.6" r="1"/><circle cx="200.5" cy="578.4" r="0.8"/><circle cx="224.8" cy="645.4" r="0.6"/></g>
<path d="M76.5,657.7 L64.3,659.6 M263.6,709.2 L269.9,714.5 M75.4,659.8 L64.7,661.7 M75.4,615.4 L66.5,613.3 M86.6,682.3 L74.4,687.6 M74.8,642.8 L62.5,643 M265.9,578.7 L274.6,572.2 M72.9,643.4 L62.5,643.6 M245.7,721.3 L251.5,728.7 M172.6,735.8 L171.3,747.5 M76.6,672.8 L68.7,675.2 M77.6,627.5 L63.7,625.7 M75.8,617.7 L65.9,615.5 M266.4,697.6 L278.3,705.6 M260.6,709.3 L268.3,716 M73.4,661.8 L65.1,663.3 M177.4,738.8 L176.9,747.9 M72.9,639.2 L62.5,639 M244.8,724 L249.3,730 M77.6,653.3 L63.5,654.9 M239.3,727.6 L243.1,733.4 M267.8,704.5 L274.7,709.7" stroke="#4a5050" stroke-width="0.7" opacity="0.5" fill="none"/></g>
</g>
<g clip-path="url(#cp2)">
<rect x="329.9" y="517.3" width="262.1" height="239.6" fill="url(#bg2)" />
<rect x="329.9" y="517.3" width="262.1" height="239.6" fill="url(#grid2)" />
<rect x="329.9" y="517.3" width="262.1" height="239.6" fill="url(#grid2b)" />
<ellipse cx="459.1" cy="636.7" rx="123" ry="115.6" fill="url(#disc2)" opacity="0.6"/>
<g clip-path="url(#cpD2)"><g filter="url(#blurB)">
<ellipse cx="420" cy="655" rx="50" ry="32" fill="#8e9391" opacity="0.5"/>
<ellipse cx="440" cy="600" rx="40" ry="25" fill="#9a9f9d" opacity="0.4"/>
<ellipse cx="505" cy="560" rx="45" ry="28" fill="#c8cbc8" opacity="0.5"/>
<ellipse cx="510" cy="690" rx="50" ry="35" fill="#c4c7c4" opacity="0.45"/>
<ellipse cx="560" cy="610" rx="16" ry="60" fill="#949997" opacity="0.5"/>
<ellipse cx="370" cy="560" rx="25" ry="40" fill="#cfd2cf" opacity="0.4"/>
</g>
</g>
<ellipse cx="459.1" cy="636.7" rx="122.4" ry="115" fill="none" stroke="url(#edge2)" stroke-width="2" filter="url(#blurS)"/>
<g fill="#2a3030" opacity="0.8" filter="url(#blurS)"><circle cx="389.8" cy="590.9" r="0.7"/><circle cx="447.9" cy="629.7" r="0.6"/><circle cx="403.6" cy="654.7" r="0.8"/><circle cx="533.7" cy="660.5" r="0.8"/><circle cx="461.7" cy="672.5" r="0.8"/><circle cx="460.3" cy="649.2" r="1.1"/><circle cx="533.2" cy="621.8" r="1.1"/><circle cx="379.6" cy="676.9" r="0.6"/><circle cx="457.7" cy="575.2" r="1.1"/><circle cx="531.6" cy="685.2" r="0.6"/><circle cx="356.5" cy="613.5" r="0.5"/><circle cx="460.5" cy="671.9" r="0.7"/><circle cx="551.2" cy="672.6" r="1"/><circle cx="424.4" cy="661.3" r="0.9"/><circle cx="468.1" cy="639.2" r="1.1"/><circle cx="438.4" cy="687.9" r="1.1"/><circle cx="514.1" cy="629.3" r="0.6"/><circle cx="430.3" cy="729.3" r="1.1"/><circle cx="490.6" cy="719.7" r="0.7"/><circle cx="435.3" cy="640.6" r="1.1"/><circle cx="486.4" cy="636" r="0.9"/><circle cx="494.4" cy="722.8" r="0.5"/><circle cx="523.6" cy="684.4" r="0.7"/><circle cx="537.7" cy="583.2" r="1"/><circle cx="511.3" cy="692.3" r="1.1"/><circle cx="445.5" cy="641.3" r="0.6"/><circle cx="430.8" cy="707.5" r="0.6"/><circle cx="472" cy="662.9" r="0.9"/><circle cx="470.4" cy="595.7" r="0.9"/><circle cx="509.8" cy="594.4" r="0.6"/><circle cx="426.7" cy="728.6" r="0.9"/><circle cx="446.8" cy="704.4" r="0.6"/><circle cx="511" cy="631.5" r="0.8"/><circle cx="448.4" cy="634.7" r="0.9"/><circle cx="452.1" cy="666.4" r="1"/><circle cx="489.8" cy="654.3" r="1"/><circle cx="460" cy="669.9" r="0.9"/><circle cx="498" cy="723.2" r="1.1"/><circle cx="512.3" cy="647.4" r="1"/><circle cx="381.7" cy="701" r="0.8"/><circle cx="486.5" cy="691.3" r="0.9"/><circle cx="411.4" cy="691.1" r="1"/><circle cx="400.4" cy="630.9" r="1"/><circle cx="434.8" cy="584.6" r="1.1"/><circle cx="499.4" cy="709.9" r="0.6"/><circle cx="435.2" cy="618.5" r="0.8"/><circle cx="471.8" cy="554.5" r="1"/><circle cx="464.2" cy="690.3" r="0.6"/><circle cx="408" cy="610.3" r="0.5"/><circle cx="392.7" cy="593.3" r="0.9"/><circle cx="476.5" cy="619.9" r="0.6"/><circle cx="516.8" cy="642.8" r="0.8"/><circle cx="427.7" cy="648" r="1"/><circle cx="549.8" cy="678.5" r="0.9"/><circle cx="373.4" cy="614.3" r="0.7"/><circle cx="482.6" cy="665.6" r="0.5"/><circle cx="431.1" cy="698.1" r="0.8"/><circle cx="452.8" cy="700.1" r="0.6"/><circle cx="469.4" cy="616.2" r="0.7"/><circle cx="501.2" cy="698.8" r="1"/><circle cx="462" cy="625.2" r="0.8"/><circle cx="440.2" cy="657" r="1.1"/><circle cx="514.4" cy="650.8" r="1"/><circle cx="480.3" cy="635" r="0.8"/><circle cx="400.9" cy="728.3" r="0.6"/><circle cx="372.6" cy="707" r="0.7"/><circle cx="509.3" cy="735.8" r="0.5"/><circle cx="563.1" cy="696.2" r="1"/><circle cx="402.4" cy="730.9" r="0.7"/><circle cx="446" cy="744.3" r="0.8"/><circle cx="364.4" cy="700.2" r="0.7"/><circle cx="355.9" cy="691.3" r="0.5"/><circle cx="484.2" cy="745.8" r="0.5"/><circle cx="499.4" cy="742.1" r="1"/><circle cx="435.2" cy="748" r="0.8"/><circle cx="487.2" cy="746.8" r="0.7"/><circle cx="392.4" cy="724.8" r="0.7"/><circle cx="534.7" cy="721.7" r="0.6"/><circle cx="528.9" cy="722.6" r="0.8"/><circle cx="506.9" cy="737.1" r="1.1"/><circle cx="412.8" cy="741.3" r="0.6"/><circle cx="488.1" cy="740.1" r="0.9"/><circle cx="493.4" cy="740.4" r="0.5"/><circle cx="533.4" cy="719.7" r="0.7"/><circle cx="363.3" cy="703.6" r="0.7"/><circle cx="493.5" cy="739.3" r="1.1"/><circle cx="495.5" cy="743.9" r="0.9"/><circle cx="370.7" cy="703.3" r="0.7"/><circle cx="487.7" cy="740.3" r="1"/><circle cx="504" cy="741.1" r="0.8"/><circle cx="555.8" cy="697.8" r="0.6"/><circle cx="556" cy="693.9" r="0.9"/><circle cx="558.4" cy="692.8" r="0.8"/><circle cx="448.1" cy="743.7" r="0.9"/><circle cx="519.1" cy="733.7" r="0.9"/><circle cx="539.6" cy="713.8" r="0.7"/><circle cx="406.5" cy="734.5" r="0.7"/><circle cx="376.1" cy="711.7" r="0.7"/><circle cx="497.6" cy="738.6" r="0.5"/><circle cx="561.7" cy="692.6" r="0.8"/><circle cx="382.8" cy="725.6" r="0.7"/><circle cx="414.8" cy="742.6" r="0.6"/><circle cx="411" cy="738.9" r="1.1"/><circle cx="375.7" cy="711.3" r="0.9"/><circle cx="550.8" cy="704.8" r="0.7"/><circle cx="555" cy="698.8" r="0.7"/><circle cx="459.8" cy="745.3" r="0.6"/><circle cx="484.1" cy="744.4" r="0.6"/><circle cx="418.2" cy="737.9" r="0.6"/><circle cx="498.9" cy="739.9" r="0.6"/></g>
</g>
<path d="M45,515.4 h16.1 M70.3,515.4 h16.1 M95.7,515.4 h16.1 M121.1,515.4 h16.1 M146.5,515.4 h16.1 M171.9,515.4 h16.1 M197.2,515.4 h16.1 M222.6,515.4 h16.1 M248,515.4 h16.1 M273.4,515.4 h16.1 M298.8,515.4 h16.1 M324.1,515.4 h16.1 M349.5,515.4 h16.1 M374.9,515.4 h16.1 M400.3,515.4 h16.1 M425.7,515.4 h16.1 M451,515.4 h16.1 M476.4,515.4 h16.1 M501.8,515.4 h16.1 M527.2,515.4 h16.1 M552.6,515.4 h16.1 M577.9,515.4 h16.1" stroke="#ffc000" stroke-width="4.8" fill="none"/>
<path d="M44,523 v16.1 M44,548.4 v16.1 M44,573.8 v16.1 M44,599.3 v16.1 M44,624.7 v16.1 M44,650.1 v16.1 M44,675.5 v16.1 M44,700.9 v16.1 M44,726.4 v16.1 M44,751.8 v16.1" stroke="#ffc000" stroke-width="4.1" fill="none"/>
<path d="M598.5,519.9 v16.1 M598.5,545.3 v16.1 M598.5,570.8 v16.1 M598.5,596.2 v16.1 M598.5,621.7 v16.1 M598.5,647.1 v16.1 M598.5,672.5 v16.1 M598.5,698 v16.1 M598.5,723.4 v16.1 M598.5,748.9 v16.1" stroke="#ffc000" stroke-width="5.1" fill="none"/>
<path d="M68.1,767 h16.1 M93.4,767 h16.1 M118.8,767 h16.1 M144.1,767 h16.1 M169.5,767 h16.1 M194.8,767 h16.1 M220.2,767 h16.1 M245.5,767 h16.1 M270.9,767 h16.1 M296.2,767 h16.1 M321.6,767 h16.1 M346.9,767 h16.1 M372.2,767 h16.1 M397.6,767 h16.1 M422.9,767 h16.1 M448.3,767 h16.1 M473.6,767 h16.1 M499,767 h16.1 M524.3,767 h16.1 M549.7,767 h16.1 M575,767 h16.1" stroke="#ffc000" stroke-width="4.2" fill="none"/>
<path d="M42,767 h16" stroke="#ffc000" stroke-width="4.2"/>
<g clip-path="url(#cp3)">
<rect x="614.9" y="516.8" width="258.1" height="240.8" fill="url(#bg3)"/>
<g stroke="#d8d8d8" stroke-width="1.5" opacity="0.32" filter="url(#blur1)"><line x1="759.1" y1="683.2" x2="799" y2="704.8"/><line x1="606.3" y1="606.7" x2="639.1" y2="619.1"/><line x1="710.4" y1="523.5" x2="748" y2="542.7"/><line x1="728" y1="590.4" x2="755.2" y2="600.4"/><line x1="694.8" y1="730.3" x2="737.2" y2="748.4"/><line x1="782.4" y1="555.9" x2="818.6" y2="574.7"/><line x1="860.6" y1="599.6" x2="900.5" y2="623.8"/><line x1="810.6" y1="665" x2="855.2" y2="685.7"/><line x1="713.5" y1="578.2" x2="765.7" y2="609"/><line x1="704.3" y1="734.7" x2="720.1" y2="741"/><line x1="738.4" y1="586.2" x2="768.1" y2="604.5"/><line x1="640.9" y1="557.5" x2="665.2" y2="570.5"/><line x1="664" y1="510.2" x2="704.8" y2="529"/><line x1="665.3" y1="631.9" x2="710.7" y2="654.6"/><line x1="770.5" y1="648.5" x2="822.2" y2="680.3"/><line x1="691.1" y1="595.6" x2="749.4" y2="621.3"/><line x1="795.5" y1="681.8" x2="840.4" y2="709.4"/><line x1="825.1" y1="549.4" x2="869.3" y2="570.9"/><line x1="753.9" y1="601.3" x2="780.8" y2="616.2"/><line x1="745.8" y1="568.5" x2="772" y2="580.2"/><line x1="648.5" y1="636.9" x2="669" y2="644.7"/><line x1="618.7" y1="535.3" x2="668.8" y2="554.8"/><line x1="723.3" y1="700.7" x2="761.7" y2="716.2"/><line x1="836.5" y1="724.8" x2="853" y2="731.9"/><line x1="738.5" y1="706.7" x2="770.6" y2="724.2"/><line x1="668.7" y1="686.8" x2="698.9" y2="700.2"/><line x1="807.3" y1="718.1" x2="861.3" y2="745.5"/><line x1="714.8" y1="684.6" x2="757.5" y2="709.2"/><line x1="818.7" y1="540.9" x2="850.3" y2="557.7"/><line x1="663.1" y1="555.6" x2="677.1" y2="562.8"/><line x1="856.9" y1="749.7" x2="876.6" y2="760.3"/><line x1="714.5" y1="666" x2="746" y2="685"/><line x1="869.9" y1="522" x2="920.4" y2="541.8"/><line x1="611.6" y1="580.7" x2="658.4" y2="609.9"/><line x1="632.8" y1="591.5" x2="647.5" y2="598.9"/><line x1="731.9" y1="602.2" x2="759.7" y2="618"/><line x1="829" y1="580.1" x2="861.4" y2="596.9"/><line x1="808.9" y1="752.3" x2="841" y2="769.6"/><line x1="749" y1="707.6" x2="770.4" y2="716.3"/><line x1="629.2" y1="740.6" x2="655.2" y2="753.2"/><line x1="632.9" y1="589.9" x2="647.2" y2="597.2"/><line x1="639.2" y1="664.4" x2="666.9" y2="676.1"/><line x1="731.6" y1="600.4" x2="759" y2="610.7"/><line x1="617.6" y1="730.5" x2="647.5" y2="741.9"/><line x1="649.8" y1="629.4" x2="714.4" y2="656.1"/><line x1="836.8" y1="629.6" x2="869.6" y2="648.3"/><line x1="708.1" y1="524.2" x2="748.1" y2="545.4"/><line x1="770.1" y1="578.4" x2="827.6" y2="612.1"/><line x1="790" y1="735" x2="872" y2="700"/></g>
<g stroke="#161616" fill="none" filter="url(#blurS)">
<line x1="625.1" y1="516.8" x2="709.1" y2="757.6" stroke-width="1.8"/>
<line x1="660.6" y1="516.8" x2="704.3" y2="757.6" stroke-width="1.8"/>
<line x1="614.9" y1="602" x2="691.3" y2="757.6" stroke-width="1.5"/>
<line x1="781.2" y1="516.8" x2="873" y2="706" stroke-width="2.2"/>
<line x1="873" y1="576" x2="771.7" y2="757.6" stroke-width="1.4" stroke="#444"/>
<line x1="733.9" y1="694.2" x2="722.1" y2="757.6" stroke-width="0.9" stroke="#444"/>
</g>
<path d="M808,516.8 L813.4,516.8 L780,664 L778,664 L759.4,757.6 L754.6,757.6 L774.4,664 L776,664Z" fill="#050505" stroke="#050505" stroke-width="0.8" filter="url(#blurS)"/>
<g fill="#282828" opacity="0.85" filter="url(#blur1)"><circle cx="870.5" cy="623.5" r="1.6"/><circle cx="801.6" cy="559.9" r="0.8"/><circle cx="659.2" cy="546.3" r="0.9"/><circle cx="707.9" cy="697.3" r="1.1"/><circle cx="747.6" cy="520.5" r="1"/><circle cx="861.6" cy="520.6" r="1.3"/><circle cx="823.4" cy="706.6" r="1.5"/><circle cx="718.2" cy="709.1" r="1.5"/><circle cx="812.5" cy="752.7" r="0.9"/><circle cx="859.3" cy="613.7" r="1.4"/><circle cx="680.1" cy="734.5" r="0.8"/><circle cx="763.7" cy="572.1" r="1.1"/><circle cx="710.5" cy="674.4" r="1.5"/><circle cx="709.4" cy="669.9" r="1.1"/><circle cx="687.5" cy="733.4" r="1.1"/><circle cx="640.1" cy="597.7" r="1.5"/><circle cx="670.1" cy="694.9" r="1.3"/><circle cx="790.1" cy="560.2" r="0.9"/><circle cx="652.6" cy="601.4" r="1.2"/><circle cx="618.4" cy="637.6" r="1.2"/><circle cx="698.3" cy="645.8" r="1.7"/><circle cx="668.4" cy="727.6" r="1.1"/><circle cx="809.1" cy="543.8" r="1.7"/><circle cx="726.1" cy="747.1" r="1"/><circle cx="720.5" cy="686" r="1"/><circle cx="686" cy="679.2" r="1.7"/><circle cx="698.5" cy="561.7" r="1.1"/><circle cx="869.3" cy="553.3" r="1.4"/><circle cx="712.8" cy="671.2" r="1"/><circle cx="773.8" cy="729.3" r="1.6"/><circle cx="776.9" cy="638.2" r="1.3"/><circle cx="645.2" cy="717.3" r="1.4"/><circle cx="732" cy="676.4" r="1.2"/><circle cx="714.5" cy="572.7" r="1.3"/><circle cx="762.6" cy="640.6" r="0.8"/><circle cx="776.6" cy="624.3" r="1.3"/><circle cx="768.2" cy="739.7" r="0.9"/><circle cx="736" cy="754.3" r="1.5"/><circle cx="696.1" cy="693.3" r="1.7"/><circle cx="718.9" cy="724.5" r="0.9"/><circle cx="869.5" cy="634.9" r="1"/><circle cx="831.1" cy="672.5" r="1.6"/><circle cx="828.3" cy="707.8" r="1.3"/><circle cx="870.4" cy="533.4" r="1.6"/><circle cx="798.2" cy="577.7" r="1.5"/><circle cx="732.2" cy="645.6" r="1.6"/><circle cx="666.2" cy="584.5" r="1.4"/><circle cx="634.8" cy="650.1" r="1.5"/><circle cx="741.6" cy="575.5" r="1.5"/><circle cx="834.9" cy="701.5" r="1.3"/><circle cx="847.9" cy="707.6" r="0.9"/><circle cx="709.7" cy="541.9" r="0.8"/><circle cx="704.5" cy="723.8" r="1.6"/><circle cx="646.1" cy="561.2" r="1.1"/><circle cx="833.4" cy="664.9" r="1.6"/><circle cx="634.4" cy="753.1" r="1"/><circle cx="777.1" cy="726.6" r="1.5"/><circle cx="666.4" cy="677.1" r="1.2"/><circle cx="619.9" cy="598.8" r="1.1"/><circle cx="777.2" cy="584.3" r="1.3"/><circle cx="793.9" cy="561" r="0.9"/><circle cx="793.6" cy="629" r="0.9"/><circle cx="645.7" cy="742" r="1.3"/><circle cx="707.5" cy="564.7" r="1.7"/><circle cx="793.1" cy="693.2" r="1.1"/><circle cx="695.4" cy="615.2" r="0.9"/><circle cx="777.6" cy="619.1" r="1.5"/><circle cx="720.7" cy="626.7" r="1.3"/><circle cx="857.1" cy="600.4" r="1.4"/><circle cx="676.2" cy="655.9" r="1.1"/><circle cx="839.4" cy="586.2" r="1.6"/><circle cx="789.2" cy="626.3" r="1.6"/><circle cx="715.2" cy="694.9" r="1.3"/><circle cx="730.8" cy="533.3" r="1.2"/><circle cx="688" cy="622.9" r="1.7"/><circle cx="691" cy="683.4" r="1.4"/><circle cx="678.6" cy="615.9" r="0.9"/><circle cx="845.2" cy="577.9" r="1.2"/><circle cx="703.4" cy="713.3" r="1.6"/><circle cx="767.2" cy="647.9" r="0.9"/><circle cx="845.5" cy="539" r="1.1"/><circle cx="711.9" cy="690.1" r="1.4"/><circle cx="704" cy="731.7" r="1.7"/><circle cx="621.9" cy="668.7" r="1.2"/><circle cx="708.6" cy="628.6" r="1.1"/><circle cx="787.7" cy="662.1" r="1.7"/><circle cx="866" cy="754.2" r="1.2"/><circle cx="828.1" cy="672.7" r="1.4"/><circle cx="871.4" cy="533.8" r="1.2"/><circle cx="718.7" cy="674.1" r="1"/><circle cx="869.4" cy="567.8" r="1.1"/><circle cx="652.6" cy="611.9" r="1.5"/><circle cx="637.4" cy="557.7" r="1.4"/><circle cx="775.5" cy="694.6" r="1"/><circle cx="823.7" cy="691.9" r="1.5"/><circle cx="646.6" cy="629.5" r="0.8"/><circle cx="836.1" cy="742.8" r="1.6"/><circle cx="622.2" cy="601.6" r="1.3"/><circle cx="752.6" cy="544.5" r="1.5"/><circle cx="693.2" cy="638.7" r="0.9"/><circle cx="761.4" cy="548.9" r="0.9"/><circle cx="747.1" cy="588" r="1.5"/><circle cx="679.2" cy="616.5" r="0.8"/><circle cx="671.7" cy="625.5" r="1.3"/><circle cx="733.6" cy="720.5" r="0.9"/><circle cx="833.6" cy="554.9" r="1.7"/><circle cx="750.4" cy="614.7" r="1.4"/><circle cx="837.1" cy="747.4" r="1.2"/><circle cx="618.7" cy="554.6" r="1.5"/><circle cx="804" cy="687.6" r="0.9"/><circle cx="752" cy="524.8" r="0.9"/><circle cx="693" cy="748" r="1.4"/><circle cx="833" cy="529" r="1.2"/><circle cx="636.1" cy="580.1" r="0.9"/><circle cx="851.2" cy="596.3" r="1.2"/><circle cx="783.4" cy="729" r="1.7"/><circle cx="761.4" cy="637.2" r="1.6"/><circle cx="717" cy="589.2" r="1.5"/><circle cx="682.1" cy="605.6" r="1.2"/><circle cx="738.1" cy="603.3" r="1.2"/><circle cx="731.4" cy="529.8" r="1.6"/><circle cx="631.8" cy="643.6" r="1.3"/><circle cx="718.3" cy="571" r="0.9"/><circle cx="711.2" cy="592.8" r="1.2"/><circle cx="675" cy="696.4" r="1.2"/><circle cx="618.3" cy="614.8" r="1.7"/><circle cx="617.8" cy="659.2" r="1.7"/><circle cx="709.6" cy="660.3" r="1.1"/><circle cx="693.1" cy="663" r="1.3"/><circle cx="696.7" cy="636.4" r="1.3"/><circle cx="809" cy="530.6" r="0.9"/><circle cx="680.5" cy="582.3" r="1.5"/><circle cx="724.9" cy="722.7" r="1.2"/><circle cx="689.2" cy="679.8" r="0.9"/><circle cx="867.9" cy="715.9" r="1.1"/><circle cx="697.2" cy="713" r="1.5"/><circle cx="780.4" cy="531.5" r="1.5"/><circle cx="628.3" cy="666.7" r="1.3"/><circle cx="853.4" cy="670" r="0.8"/><circle cx="855.2" cy="697.2" r="1.3"/><circle cx="617.4" cy="693.4" r="1.2"/><circle cx="790" cy="752.1" r="1.6"/><circle cx="635.2" cy="704" r="1.2"/><circle cx="808.4" cy="607.9" r="1.2"/><circle cx="727.8" cy="546.1" r="1.1"/><circle cx="804.1" cy="535" r="0.9"/><circle cx="829.5" cy="676.6" r="1.3"/><circle cx="645" cy="546.2" r="1.1"/><circle cx="860.2" cy="651.3" r="1.6"/><circle cx="670.1" cy="616.7" r="1.3"/><circle cx="830.9" cy="547.4" r="1.6"/><circle cx="736.9" cy="525.5" r="1.2"/><circle cx="712.6" cy="678.5" r="1.6"/><circle cx="742.4" cy="682.1" r="1.1"/><circle cx="815.3" cy="543" r="1.5"/><circle cx="658.6" cy="657.4" r="1"/><circle cx="704.6" cy="557" r="1.1"/><circle cx="767.4" cy="641.8" r="1.1"/><circle cx="763" cy="718.5" r="1.1"/><circle cx="765.5" cy="632.4" r="1.7"/><circle cx="700" cy="684" r="1"/><circle cx="682.9" cy="691.8" r="1.3"/><circle cx="681.8" cy="533.3" r="1.5"/><circle cx="712.7" cy="688.5" r="1.2"/><circle cx="774.1" cy="651.2" r="1.7"/><circle cx="848.9" cy="626.5" r="1.2"/><circle cx="675.2" cy="697.2" r="0.9"/><circle cx="694.5" cy="719.7" r="0.8"/><circle cx="794.8" cy="653.2" r="1.3"/><circle cx="701.3" cy="554.1" r="1.7"/><circle cx="811.8" cy="709.8" r="0.9"/><circle cx="816.7" cy="570" r="1"/><circle cx="753" cy="663.1" r="0.9"/><circle cx="811.8" cy="656.6" r="1.6"/><circle cx="852.5" cy="682" r="1.1"/><circle cx="859.5" cy="689" r="1.1"/><circle cx="835.5" cy="691" r="1"/><circle cx="679.8" cy="522.8" r="1.3"/><circle cx="680.9" cy="587.7" r="1"/><circle cx="649.7" cy="633.4" r="1"/><circle cx="689" cy="584.1" r="1.3"/><circle cx="839.7" cy="556.1" r="1.6"/><circle cx="834.8" cy="663" r="1.3"/><circle cx="803.9" cy="645.2" r="1.4"/><circle cx="851.3" cy="702.5" r="1"/><circle cx="629.9" cy="740.9" r="1.1"/><circle cx="817.5" cy="573.6" r="1.2"/><circle cx="710.8" cy="691.6" r="1.6"/><circle cx="745.4" cy="652.7" r="1.1"/><circle cx="675.4" cy="744.1" r="0.9"/><circle cx="856.8" cy="674.4" r="0.9"/><circle cx="846.8" cy="542.3" r="1.3"/><circle cx="646.6" cy="753.3" r="1.1"/><circle cx="839.3" cy="532.6" r="1.4"/><circle cx="633.4" cy="525.1" r="1.3"/><circle cx="867.6" cy="681.1" r="1.6"/><circle cx="816.9" cy="642" r="0.9"/><circle cx="750.9" cy="561.9" r="1.3"/><circle cx="706.7" cy="636.8" r="1"/><circle cx="796.5" cy="617.3" r="1.2"/><circle cx="636.1" cy="633.9" r="1.3"/><circle cx="865" cy="651.6" r="0.9"/><circle cx="692.9" cy="597.9" r="1.4"/><circle cx="856.4" cy="750.3" r="1.7"/><circle cx="852.9" cy="722.4" r="1.6"/><circle cx="621.2" cy="634.5" r="1.3"/><circle cx="791.5" cy="663.8" r="1.4"/><circle cx="854.9" cy="538.6" r="1.3"/><circle cx="861.6" cy="525.6" r="0.9"/><circle cx="838.5" cy="745.8" r="0.8"/></g>
<text y="744.4" font-size="9.8" font-family="Liberation Sans" font-weight="bold" fill="#2196f0"><tspan x="631.7">10</tspan><tspan x="649.4" textLength="16.6" lengthAdjust="spacingAndGlyphs">µm</tspan></text>
</g>
<g clip-path="url(#cp4)">
<rect x="888.3" y="516.4" width="261.3" height="239.3" fill="url(#bg4)"/>
<g opacity="0.085" filter="url(#blur2)"><line x1="924.3" y1="510" x2="854.3" y2="762" stroke="#fff" stroke-width="4.4"/><line x1="1065.7" y1="510" x2="995.7" y2="762" stroke="#fff" stroke-width="3.5"/><line x1="1149.3" y1="510" x2="1079.3" y2="762" stroke="#000" stroke-width="1.5"/><line x1="1145.3" y1="510" x2="1075.3" y2="762" stroke="#fff" stroke-width="4.9"/><line x1="1033.2" y1="510" x2="963.2" y2="762" stroke="#000" stroke-width="2.7"/><line x1="919.3" y1="510" x2="849.3" y2="762" stroke="#000" stroke-width="4.2"/><line x1="1084.8" y1="510" x2="1014.8" y2="762" stroke="#000" stroke-width="3.3"/><line x1="1110.7" y1="510" x2="1040.7" y2="762" stroke="#000" stroke-width="3.1"/><line x1="1170.7" y1="510" x2="1100.7" y2="762" stroke="#000" stroke-width="2.1"/><line x1="988.5" y1="510" x2="918.5" y2="762" stroke="#fff" stroke-width="3.2"/><line x1="1011.5" y1="510" x2="941.5" y2="762" stroke="#fff" stroke-width="2.3"/><line x1="990.5" y1="510" x2="920.5" y2="762" stroke="#000" stroke-width="3.3"/><line x1="1169.3" y1="510" x2="1099.3" y2="762" stroke="#000" stroke-width="2.1"/><line x1="1002.4" y1="510" x2="932.4" y2="762" stroke="#fff" stroke-width="2.7"/><line x1="1110.5" y1="510" x2="1040.5" y2="762" stroke="#000" stroke-width="4.3"/><line x1="937.8" y1="510" x2="867.8" y2="762" stroke="#000" stroke-width="4.2"/><line x1="978.2" y1="510" x2="908.2" y2="762" stroke="#fff" stroke-width="3"/><line x1="1022.5" y1="510" x2="952.5" y2="762" stroke="#fff" stroke-width="2.7"/><line x1="1202.2" y1="510" x2="1132.2" y2="762" stroke="#000" stroke-width="2.9"/><line x1="1144" y1="510" x2="1074" y2="762" stroke="#000" stroke-width="4.2"/><line x1="1144.2" y1="510" x2="1074.2" y2="762" stroke="#000" stroke-width="2.8"/><line x1="1087.1" y1="510" x2="1017.1" y2="762" stroke="#000" stroke-width="4.1"/><line x1="1152.3" y1="510" x2="1082.3" y2="762" stroke="#000" stroke-width="1.5"/><line x1="1025.3" y1="510" x2="955.3" y2="762" stroke="#fff" stroke-width="1.7"/><line x1="956.6" y1="510" x2="886.6" y2="762" stroke="#fff" stroke-width="2.2"/><line x1="1193.5" y1="510" x2="1123.5" y2="762" stroke="#000" stroke-width="4.8"/><line x1="1184.9" y1="510" x2="1114.9" y2="762" stroke="#fff" stroke-width="2"/><line x1="1189.2" y1="510" x2="1119.2" y2="762" stroke="#000" stroke-width="2.2"/><line x1="1111.7" y1="510" x2="1041.7" y2="762" stroke="#fff" stroke-width="4.6"/><line x1="1190.3" y1="510" x2="1120.3" y2="762" stroke="#000" stroke-width="3.1"/><line x1="949.8" y1="510" x2="879.8" y2="762" stroke="#fff" stroke-width="2.5"/><line x1="935.8" y1="510" x2="865.8" y2="762" stroke="#000" stroke-width="2.1"/><line x1="929.3" y1="510" x2="859.3" y2="762" stroke="#000" stroke-width="2.6"/><line x1="950.6" y1="510" x2="880.6" y2="762" stroke="#000" stroke-width="3.3"/><line x1="1079.6" y1="510" x2="1009.6" y2="762" stroke="#000" stroke-width="4.2"/><line x1="1189.7" y1="510" x2="1119.7" y2="762" stroke="#000" stroke-width="1.8"/><line x1="937.2" y1="510" x2="867.2" y2="762" stroke="#fff" stroke-width="2.6"/><line x1="1183" y1="510" x2="1113" y2="762" stroke="#000" stroke-width="3.3"/><line x1="1010.8" y1="510" x2="940.8" y2="762" stroke="#000" stroke-width="3.5"/><line x1="1144.9" y1="510" x2="1074.9" y2="762" stroke="#000" stroke-width="4.9"/><line x1="1089.9" y1="510" x2="1019.9" y2="762" stroke="#000" stroke-width="4.5"/><line x1="970.3" y1="510" x2="900.3" y2="762" stroke="#fff" stroke-width="4.8"/><line x1="922.1" y1="510" x2="852.1" y2="762" stroke="#000" stroke-width="4.2"/><line x1="930" y1="510" x2="860" y2="762" stroke="#000" stroke-width="2.1"/></g>
<g fill="#1c1c1c" opacity="0.75" filter="url(#blur1)"><circle cx="1080" cy="567.9" r="0.7"/><circle cx="946.7" cy="706.6" r="1.1"/><circle cx="1058.4" cy="627.8" r="0.9"/><circle cx="893.9" cy="589.8" r="0.7"/><circle cx="957.2" cy="664" r="1"/><circle cx="1012" cy="665.2" r="1"/><circle cx="982" cy="726.6" r="1.2"/><circle cx="997.6" cy="645.5" r="1.1"/><circle cx="975.8" cy="733.6" r="0.9"/><circle cx="1131.5" cy="719.3" r="1.5"/><circle cx="932" cy="638.1" r="1.6"/><circle cx="964.5" cy="558.3" r="1.4"/><circle cx="950.7" cy="655.7" r="0.8"/><circle cx="1134.4" cy="585" r="0.8"/><circle cx="1067.3" cy="599.9" r="1.2"/><circle cx="1018.3" cy="735.7" r="1.2"/><circle cx="987.8" cy="518.4" r="1.1"/><circle cx="959.4" cy="653.5" r="1.3"/><circle cx="1009.3" cy="539.2" r="1.1"/><circle cx="1014.3" cy="669.3" r="1.6"/><circle cx="962.3" cy="622.5" r="0.8"/><circle cx="1096.4" cy="573.3" r="1.4"/><circle cx="1095.9" cy="578.1" r="1.5"/><circle cx="1020" cy="618.6" r="1.2"/><circle cx="1134" cy="633.6" r="1.1"/><circle cx="965" cy="716.5" r="1.2"/><circle cx="978.4" cy="564.4" r="0.9"/><circle cx="1105.2" cy="707.6" r="1.6"/><circle cx="1126.6" cy="679.7" r="1.4"/><circle cx="1073.6" cy="709.1" r="1.4"/><circle cx="935.5" cy="710.3" r="1"/><circle cx="953" cy="735" r="0.7"/><circle cx="1022" cy="599" r="1.4"/><circle cx="1047.5" cy="733" r="1.5"/><circle cx="1056.2" cy="533.2" r="1.3"/><circle cx="918.2" cy="749.8" r="1.5"/><circle cx="970.1" cy="561.9" r="1.3"/><circle cx="1085.6" cy="750.5" r="1.3"/><circle cx="922.3" cy="689.5" r="0.8"/><circle cx="1113.9" cy="699.4" r="1.4"/><circle cx="1115.4" cy="652.3" r="1.5"/><circle cx="1054.9" cy="634.1" r="1"/><circle cx="981.2" cy="523.4" r="0.8"/><circle cx="1095.3" cy="572" r="1.3"/><circle cx="1090" cy="681.9" r="1.2"/><circle cx="971.5" cy="582.4" r="0.9"/><circle cx="1057.1" cy="680" r="1.5"/><circle cx="975.3" cy="736.8" r="1.5"/><circle cx="965" cy="742.7" r="1.3"/><circle cx="1138.3" cy="700.7" r="1"/><circle cx="962.1" cy="641.3" r="1.1"/><circle cx="899.1" cy="721.6" r="1.2"/><circle cx="1012" cy="693.7" r="0.9"/><circle cx="941.4" cy="655.1" r="0.9"/><circle cx="974.5" cy="534.5" r="0.7"/><circle cx="981.7" cy="642.4" r="1.6"/><circle cx="1055" cy="615.8" r="1.1"/><circle cx="950.7" cy="629.8" r="1.6"/><circle cx="921.5" cy="620.2" r="1.3"/><circle cx="1086.7" cy="649" r="1.3"/><circle cx="1132.1" cy="731" r="0.9"/><circle cx="1029.6" cy="753.4" r="1.2"/><circle cx="938.9" cy="698.8" r="0.8"/><circle cx="928.8" cy="648.1" r="0.9"/><circle cx="1075.7" cy="689.5" r="1"/><circle cx="1087.9" cy="670.9" r="1.3"/><circle cx="1007.8" cy="620.1" r="0.8"/><circle cx="1012.5" cy="743.3" r="1.5"/><circle cx="904.5" cy="534.8" r="0.9"/><circle cx="1069.2" cy="621.3" r="0.8"/><circle cx="999.8" cy="653.3" r="1.4"/><circle cx="994" cy="671.3" r="1.3"/><circle cx="1048.8" cy="529" r="1.3"/><circle cx="923.2" cy="530.9" r="1.1"/><circle cx="894.3" cy="535.2" r="1.1"/><circle cx="1010.9" cy="542.9" r="1.6"/><circle cx="1109.8" cy="632.8" r="1.2"/><circle cx="971.4" cy="750.1" r="0.8"/><circle cx="968.5" cy="570.1" r="1.5"/><circle cx="1021.3" cy="614.9" r="1.1"/><circle cx="1118.9" cy="578.8" r="1.4"/><circle cx="1072.7" cy="623.8" r="1"/><circle cx="1002.7" cy="624.9" r="1"/><circle cx="1051" cy="615" r="1"/><circle cx="1089.4" cy="625.4" r="1.1"/><circle cx="1116.9" cy="625.3" r="1"/><circle cx="1121.7" cy="748.4" r="1.4"/><circle cx="993.6" cy="676.4" r="1.4"/><circle cx="966.4" cy="688.9" r="1.6"/><circle cx="1059.2" cy="675.8" r="1.1"/><circle cx="1058.6" cy="571.3" r="1.4"/><circle cx="1029.1" cy="749.3" r="1"/><circle cx="1073.6" cy="521.9" r="1.1"/><circle cx="1087.7" cy="579.2" r="1.3"/><circle cx="947" cy="612" r="1.6"/><circle cx="940.7" cy="733.4" r="0.8"/><circle cx="1040.4" cy="711.8" r="1.5"/><circle cx="990.9" cy="657.3" r="1.3"/><circle cx="1086.5" cy="694.2" r="1.2"/><circle cx="954.9" cy="684.4" r="1.2"/><circle cx="1030.4" cy="750.9" r="0.8"/><circle cx="1091.4" cy="594.6" r="1.4"/><circle cx="1135.2" cy="582.8" r="1.2"/><circle cx="1026.3" cy="634.9" r="0.9"/><circle cx="1051.4" cy="728.9" r="1.3"/><circle cx="964.6" cy="708.2" r="1.1"/><circle cx="927.5" cy="661" r="1.1"/><circle cx="1026.7" cy="751.9" r="1.2"/><circle cx="1136" cy="601.2" r="1.4"/><circle cx="909.4" cy="588.9" r="1.3"/><circle cx="1068.1" cy="713.5" r="1"/><circle cx="960.6" cy="602.6" r="1.2"/><circle cx="896.2" cy="606.4" r="1.3"/><circle cx="928.3" cy="591.4" r="1.5"/><circle cx="1130.9" cy="576.9" r="0.9"/><circle cx="920.4" cy="538.2" r="1.4"/><circle cx="1080.7" cy="580.4" r="1.1"/><circle cx="1069.4" cy="524.6" r="1.4"/><circle cx="1111.8" cy="567.9" r="1.3"/><circle cx="1070.4" cy="597.5" r="1.5"/></g>
<text y="736.3" font-size="9.8" font-family="Liberation Sans" font-weight="bold" fill="#2196f0"><tspan x="904.4">10</tspan><tspan x="922.2" textLength="16.6" lengthAdjust="spacingAndGlyphs">µm</tspan></text>
<line x1="904.4" y1="739.9" x2="969.9" y2="739.9" stroke="#2196f0" stroke-width="1.5"/>
</g>
<path d="M612,514.5 h16.1 M637.4,514.5 h16.1 M662.8,514.5 h16.1 M688.1,514.5 h16.1 M713.5,514.5 h16.1 M738.9,514.5 h16.1 M764.3,514.5 h16.1 M789.7,514.5 h16.1 M815,514.5 h16.1 M840.4,514.5 h16.1 M865.8,514.5 h16.1 M891.2,514.5 h16.1 M916.6,514.5 h16.1 M941.9,514.5 h16.1 M967.3,514.5 h16.1 M992.7,514.5 h16.1 M1018.1,514.5 h16.1 M1043.5,514.5 h16.1 M1068.8,514.5 h16.1 M1094.2,514.5 h16.1 M1119.6,514.5 h16.1 M1145,514.5 h16.1" stroke="#92d050" stroke-width="5" fill="none"/>
<path d="M611,522 v16.1 M611,547.5 v16.1 M611,572.9 v16.1 M611,598.4 v16.1 M611,623.8 v16.1 M611,649.3 v16.1 M611,674.7 v16.1 M611,700.2 v16.1 M611,725.6 v16.1 M611,751.1 v16.1" stroke="#92d050" stroke-width="4.1" fill="none"/>
<path d="M1159.1,526 v16.1 M1159.1,551.4 v16.1 M1159.1,576.9 v16.1 M1159.1,602.3 v16.1 M1159.1,627.8 v16.1 M1159.1,653.2 v16.1 M1159.1,678.6 v16.1 M1159.1,704.1 v16.1 M1159.1,729.5 v16.1 M1159.1,755 v13.8" stroke="#92d050" stroke-width="4.2" fill="none"/>
<path d="M622,766.5 h16.1 M647.4,766.5 h16.1 M672.7,766.5 h16.1 M698.1,766.5 h16.1 M723.5,766.5 h16.1 M748.9,766.5 h16.1 M774.2,766.5 h16.1 M799.6,766.5 h16.1 M825,766.5 h16.1 M850.3,766.5 h16.1 M875.7,766.5 h16.1 M901.1,766.5 h16.1 M926.4,766.5 h16.1 M951.8,766.5 h16.1 M977.2,766.5 h16.1 M1002.6,766.5 h16.1 M1027.9,766.5 h16.1 M1053.3,766.5 h16.1 M1078.7,766.5 h16.1 M1104,766.5 h16.1 M1129.4,766.5 h16.1 M1154.8,766.5 h6.4" stroke="#92d050" stroke-width="4.7" fill="none"/>
</g>
<g id="charts">
<path d="M388.9,796.9 H786 Q791.4,796.9 791.4,802.5 V1111.6 H388.6Z" fill="#fff"/>
<text x="385.5" y="791.6" font-size="38" font-family="Liberation Serif" font-weight="bold" clip-path="url(#cpC2b)">(g)</text>
<g clip-path="url(#cpC2)"><text transform="translate(409.2,1001.8) rotate(-90)" font-size="19.7" font-family="Liberation Serif" font-weight="bold">FWHM (arcsec)</text>
<text x="700.6" y="1116.4" font-size="37" font-family="Liberation Serif" font-weight="bold">(j)</text></g>
<rect x="443.8" y="808.3" width="345.8" height="250.9" fill="none" stroke="#111" stroke-width="1.7"/>
<line x1="443.8" y1="808.3" x2="448.4" y2="808.3" stroke="#111" stroke-width="1.4"/>
<text x="438.4" y="813.6" font-size="15.7" text-anchor="end" font-family="Liberation Serif" font-weight="bold" fill="#000" >160</text>
<line x1="443.8" y1="846.9" x2="448.4" y2="846.9" stroke="#111" stroke-width="1.4"/>
<text x="438.4" y="852.2" font-size="15.7" text-anchor="end" font-family="Liberation Serif" font-weight="bold" fill="#000" >140</text>
<line x1="443.8" y1="885.5" x2="448.4" y2="885.5" stroke="#111" stroke-width="1.4"/>
<text x="438.4" y="890.8" font-size="15.7" text-anchor="end" font-family="Liberation Serif" font-weight="bold" fill="#000" >120</text>
<line x1="443.8" y1="924.1" x2="448.4" y2="924.1" stroke="#111" stroke-width="1.4"/>
<text x="438.4" y="929.4" font-size="15.7" text-anchor="end" font-family="Liberation Serif" font-weight="bold" fill="#000" >100</text>
<line x1="443.8" y1="962.7" x2="448.4" y2="962.7" stroke="#111" stroke-width="1.4"/>
<text x="438.4" y="968" font-size="15.7" text-anchor="end" font-family="Liberation Serif" font-weight="bold" fill="#000" >80</text>
<line x1="443.8" y1="1001.3" x2="448.4" y2="1001.3" stroke="#111" stroke-width="1.4"/>
<text x="438.4" y="1006.6" font-size="15.7" text-anchor="end" font-family="Liberation Serif" font-weight="bold" fill="#000" >60</text>
<line x1="443.8" y1="1039.9" x2="448.4" y2="1039.9" stroke="#111" stroke-width="1.4"/>
<text x="438.4" y="1045.2" font-size="15.7" text-anchor="end" font-family="Liberation Serif" font-weight="bold" fill="#000" >40</text>
<line x1="478.4" y1="1059.2" x2="478.4" y2="1054.6" stroke="#111" stroke-width="1.4"/>
<text x="478.4" y="1077.3" font-size="15.8" text-anchor="middle" font-family="Liberation Serif" font-weight="bold" fill="#000" >−40</text>
<line x1="547.5" y1="1059.2" x2="547.5" y2="1054.6" stroke="#111" stroke-width="1.4"/>
<text x="547.5" y="1077.3" font-size="15.8" text-anchor="middle" font-family="Liberation Serif" font-weight="bold" fill="#000" >−20</text>
<line x1="616.6" y1="1059.2" x2="616.6" y2="1054.6" stroke="#111" stroke-width="1.4"/>
<text x="616.6" y="1077.3" font-size="15.8" text-anchor="middle" font-family="Liberation Serif" font-weight="bold" fill="#000" >0</text>
<line x1="685.7" y1="1059.2" x2="685.7" y2="1054.6" stroke="#111" stroke-width="1.4"/>
<text x="685.7" y="1077.3" font-size="15.8" text-anchor="middle" font-family="Liberation Serif" font-weight="bold" fill="#000" >20</text>
<line x1="754.8" y1="1059.2" x2="754.8" y2="1054.6" stroke="#111" stroke-width="1.4"/>
<text x="754.8" y="1077.3" font-size="15.8" text-anchor="middle" font-family="Liberation Serif" font-weight="bold" fill="#000" >40</text>
<text x="557.8" y="1105.9" font-size="19.7" text-anchor="start" font-family="Liberation Serif" font-weight="bold" fill="#000" >Position (mm)</text>
<line x1="444" y1="874.1" x2="789" y2="874.1" stroke="#9b98d6" stroke-width="1.5" stroke-dasharray="9.5 5"/>
<line x1="444" y1="1012.5" x2="789" y2="1012.5" stroke="#98d0cd" stroke-width="1.5" stroke-dasharray="9.5 5"/>
<polyline points="478.4,856.4 547.5,897.1 616.6,888.4 685.7,863.3 754.8,865" fill="none" stroke="#9b98d6" stroke-width="1.8"/>
<circle cx="478.4" cy="856.4" r="4.6" fill="url(#mP)"/>
<circle cx="547.5" cy="897.1" r="4.6" fill="url(#mP)"/>
<circle cx="616.6" cy="888.4" r="4.6" fill="url(#mP)"/>
<circle cx="685.7" cy="863.3" r="4.6" fill="url(#mP)"/>
<circle cx="754.8" cy="865" r="4.6" fill="url(#mP)"/>
<polyline points="478.4,1018.9 547.5,995.5 616.6,1011.1 685.7,1018.9 754.8,1016.7" fill="none" stroke="#98d0cd" stroke-width="1.8"/>
<circle cx="478.4" cy="1018.9" r="4.6" fill="url(#mT)"/>
<circle cx="547.5" cy="995.5" r="4.6" fill="url(#mT)"/>
<circle cx="616.6" cy="1011.1" r="4.6" fill="url(#mT)"/>
<circle cx="685.7" cy="1018.9" r="4.6" fill="url(#mT)"/>
<circle cx="754.8" cy="1016.7" r="4.6" fill="url(#mT)"/>
<line x1="610" y1="820.8" x2="645" y2="820.8" stroke="#9b98d6" stroke-width="1.8"/>
<circle cx="627.5" cy="820.8" r="4.6" fill="url(#mP)"/>
<text x="650.1" y="826" font-size="15.35" text-anchor="start" font-family="Liberation Serif" font-weight="bold" fill="#000" >Before optimization</text>
<line x1="610" y1="840" x2="645" y2="840" stroke="#98d0cd" stroke-width="1.8"/>
<circle cx="627.5" cy="840" r="4.6" fill="url(#mT)"/>
<text x="650.1" y="845.2" font-size="15.35" text-anchor="start" font-family="Liberation Serif" font-weight="bold" fill="#000" >After optimization</text>
<text x="787.3" y="891.5" font-size="15.6" text-anchor="end" font-family="Liberation Serif" font-weight="bold" fill="#000" >Awerage=125.9</text>
<text x="787.3" y="1006.6" font-size="15.6" text-anchor="end" font-family="Liberation Serif" font-weight="bold" fill="#000" >Awerage=54.4</text>
<path d="M23,801.6 H400.6 V1100 H388.6 V1107.6 H23Z" fill="#fff"/>
<line x1="48.6" y1="931" x2="399" y2="931" stroke="#d8d8d8" stroke-width="0.6" stroke-dasharray="1 1"/>
<rect x="48.1" y="841.3" width="280.6" height="51.6" fill="#9acfcf"/>
<rect x="48.1" y="969.3" width="166.6" height="51.3" fill="#9acfcf"/>
<rect x="48.2" y="803.4" width="351.7" height="255.5" fill="none" stroke="#111" stroke-width="1.5"/>
<text x="48.4" y="1076.5" font-size="15" text-anchor="middle" font-family="Liberation Serif" font-weight="bold" fill="#000" >0</text>
<line x1="94.9" y1="1058.9" x2="94.9" y2="1054.4" stroke="#111" stroke-width="1.3"/>
<text x="95.2" y="1076.5" font-size="15" text-anchor="middle" font-family="Liberation Serif" font-weight="bold" fill="#000" >2</text>
<line x1="141.8" y1="1058.9" x2="141.8" y2="1054.4" stroke="#111" stroke-width="1.3"/>
<text x="142.1" y="1076.5" font-size="15" text-anchor="middle" font-family="Liberation Serif" font-weight="bold" fill="#000" >4</text>
<line x1="188.6" y1="1058.9" x2="188.6" y2="1054.4" stroke="#111" stroke-width="1.3"/>
<text x="188.9" y="1076.5" font-size="15" text-anchor="middle" font-family="Liberation Serif" font-weight="bold" fill="#000" >6</text>
<line x1="235.5" y1="1058.9" x2="235.5" y2="1054.4" stroke="#111" stroke-width="1.3"/>
<text x="235.8" y="1076.5" font-size="15" text-anchor="middle" font-family="Liberation Serif" font-weight="bold" fill="#000" >8</text>
<line x1="282.3" y1="1058.9" x2="282.3" y2="1054.4" stroke="#111" stroke-width="1.3"/>
<text x="282.6" y="1076.5" font-size="15" text-anchor="middle" font-family="Liberation Serif" font-weight="bold" fill="#000" >10</text>
<line x1="329.1" y1="1058.9" x2="329.1" y2="1054.4" stroke="#111" stroke-width="1.3"/>
<text x="329.4" y="1076.5" font-size="15" text-anchor="middle" font-family="Liberation Serif" font-weight="bold" fill="#000" >12</text>
<line x1="376" y1="1058.9" x2="376" y2="1054.4" stroke="#111" stroke-width="1.3"/>
<text x="376.3" y="1076.5" font-size="15" text-anchor="middle" font-family="Liberation Serif" font-weight="bold" fill="#000" >14</text>
<text x="327.8" y="873.6" font-size="15.8" text-anchor="end" font-family="Liberation Serif" font-weight="bold" fill="#000" >11.95</text>
<text x="214.2" y="1001.4" font-size="15.8" text-anchor="end" font-family="Liberation Serif" font-weight="bold" fill="#000" >7.08</text>
<text x="128.3" y="1102.5" font-size="15.7" text-anchor="start" font-family="Liberation Serif" font-weight="bold" fill="#000" >Relative non-uniformity (%)</text>
<text transform="translate(29.3,807.2) rotate(90) scale(0.9,1)" font-size="16" font-family="Liberation Serif" font-weight="bold">Before optimization</text>
<text transform="translate(29.3,942) rotate(90) scale(0.9,1)" font-size="16" font-family="Liberation Serif" font-weight="bold">After optimization</text>
<g clip-path="url(#cpC1)"><text x="27.6" y="1114.8" font-size="36" font-family="Liberation Serif" font-weight="bold">(i)</text></g>
<path d="M29.2,804.4 L33.8,801.8 L31.4,801.8Z" fill="#111"/>
<rect x="794.1" y="801.2" width="375" height="292.8" fill="#fff"/>
<rect x="841" y="896.9" width="25.4" height="173" fill="#df9d9d"/>
<rect x="871.7" y="989.2" width="25.4" height="80.7" fill="#9bbce0"/>
<text x="869" y="1088.8" font-size="16.5" text-anchor="middle" font-family="Liberation Serif" font-weight="bold" fill="#000" >A</text>
<rect x="907" y="894.9" width="25.4" height="175" fill="#df9d9d"/>
<rect x="937.8" y="994.5" width="25.4" height="75.4" fill="#9bbce0"/>
<text x="935" y="1088.8" font-size="16.5" text-anchor="middle" font-family="Liberation Serif" font-weight="bold" fill="#000" >B</text>
<rect x="973.1" y="898.8" width="25.4" height="171.1" fill="#df9d9d"/>
<rect x="1003.8" y="999.8" width="25.4" height="70.1" fill="#9bbce0"/>
<text x="1001.1" y="1088.8" font-size="16.5" text-anchor="middle" font-family="Liberation Serif" font-weight="bold" fill="#000" >C</text>
<rect x="1039.2" y="901.3" width="25.4" height="168.6" fill="#df9d9d"/>
<rect x="1069.9" y="987.1" width="25.4" height="82.8" fill="#9bbce0"/>
<text x="1067.2" y="1088.8" font-size="16.5" text-anchor="middle" font-family="Liberation Serif" font-weight="bold" fill="#000" >D</text>
<rect x="1105.2" y="901.1" width="25.4" height="168.8" fill="#df9d9d"/>
<rect x="1135.9" y="1008.6" width="25.4" height="61.3" fill="#9bbce0"/>
<text x="1133.2" y="1088.8" font-size="16.5" text-anchor="middle" font-family="Liberation Serif" font-weight="bold" fill="#000" >E</text>
<rect x="836.6" y="803.2" width="331.4" height="266.7" fill="none" stroke="#111" stroke-width="2.1"/>
<text x="830.4" y="1075.5" font-size="16.5" text-anchor="end" font-family="Liberation Serif" font-weight="bold" fill="#000" >0</text>
<text x="830.4" y="999.1" font-size="16.5" text-anchor="end" font-family="Liberation Serif" font-weight="bold" fill="#000" >1</text>
<text x="830.4" y="922.7" font-size="16.5" text-anchor="end" font-family="Liberation Serif" font-weight="bold" fill="#000" >2</text>
<text x="830.4" y="846.3" font-size="16.5" text-anchor="end" font-family="Liberation Serif" font-weight="bold" fill="#000" >3</text>
<text transform="translate(811.9,985.6) rotate(-90)" font-size="17.7" font-family="Liberation Serif" font-weight="bold">Log(I<tspan font-size="11.5" dy="5.4">NBE</tspan><tspan dy="-5.4">/I</tspan><tspan font-size="11.5" dy="5.4">YL</tspan><tspan dy="-5.4">)</tspan></text>
<rect x="1015.6" y="810" width="31.2" height="15.2" fill="#df9d9d"/>
<rect x="1015.6" y="827.6" width="31.2" height="15.2" fill="#9bbce0"/>
<text x="1050.9" y="821.7" font-size="13.65" font-family="Liberation Serif" fill="#111">After optimization</text>
<text x="1050.9" y="839" font-size="13.65" font-family="Liberation Serif" fill="#111">Before optimization</text>
</g>
<g id="raman">
<rect x="7" y="1118.9" width="361.2" height="292.5" fill="#fff"/>
<path d="M188.6,1120.6 V1217 M220.7,1120.6 V1217 M252.8,1120.6 V1217 M284.8,1120.6 V1217 M316.9,1120.6 V1217 M156.5,1130.4 H349 M33.9,1245.1 L156.5,1130.4 M156.5,1149.7 H349 M33.9,1270.6 L156.5,1149.7 M156.5,1169 H349 M33.9,1296.1 L156.5,1169 M156.5,1188.3 H349 M33.9,1321.5 L156.5,1188.3 M156.5,1207.6 H349 M33.9,1347 L156.5,1207.6 M76.6,1359.4 L188.6,1217 M119.4,1359.4 L220.7,1217 M162.1,1359.4 L252.8,1217 M204.8,1359.4 L284.8,1217 M247.6,1359.4 L316.9,1217 M44.7,1346.8 H295.5 M44.7,1346.8 V1222.3 M60.2,1328.8 H302.9 M60.2,1328.8 V1208.2 M74.6,1312.1 H309.8 M74.6,1312.1 V1195.1 M88.2,1296.3 H316.3 M88.2,1296.3 V1182.7 M101.1,1281.4 H322.5 M101.1,1281.4 V1171.1 M113.2,1267.3 H328.3 M113.2,1267.3 V1160 M124.6,1254 H333.7 M124.6,1254 V1149.6 M135.8,1241.1 H339.1 M135.8,1241.1 V1139.5 M146.5,1228.6 H344.2 M146.5,1228.6 V1129.7" fill="none" stroke="#dcdcdc" stroke-width="0.7"/>
<path d="M33.9,1359.4 H290.3 L349,1217 V1120.6 H156.5 L33.9,1232.2 Z M156.5,1120.6 V1217 H349 M156.5,1217 L33.9,1359.4" fill="none" stroke="#111" stroke-width="1.7" stroke-linejoin="round"/>
<circle cx="205.3" cy="1164.8" r="42.3" fill="none" stroke="#111" stroke-width="1.5"/>
<path d="M167,1164.8 H243.6 M205.3,1126.5 V1203.1" stroke="#999" stroke-width="0.6" stroke-dasharray="1 1" fill="none"/>
<circle cx="205.3" cy="1164.8" r="5.3" fill="#fff" stroke="#333" stroke-width="0.8"/>
<text x="205.3" y="1167.7" font-size="8.2" text-anchor="middle" font-family="Liberation Sans" font-weight="bold" fill="#f01818" stroke="#f01818" stroke-width="0.25">C</text>
<circle cx="173.8" cy="1164.8" r="5.3" fill="#fff" stroke="#333" stroke-width="0.8"/>
<text x="173.8" y="1167.7" font-size="8.2" text-anchor="middle" font-family="Liberation Sans" font-weight="bold" fill="#f01818" stroke="#f01818" stroke-width="0.25">A</text>
<circle cx="189.2" cy="1164.8" r="5.3" fill="#fff" stroke="#333" stroke-width="0.8"/>
<text x="189.2" y="1167.7" font-size="8.2" text-anchor="middle" font-family="Liberation Sans" font-weight="bold" fill="#f01818" stroke="#f01818" stroke-width="0.25">B</text>
<circle cx="221.8" cy="1164.8" r="5.3" fill="#fff" stroke="#333" stroke-width="0.8"/>
<text x="221.8" y="1167.7" font-size="8.2" text-anchor="middle" font-family="Liberation Sans" font-weight="bold" fill="#f01818" stroke="#f01818" stroke-width="0.25">D</text>
<circle cx="237.7" cy="1164.8" r="5.3" fill="#fff" stroke="#333" stroke-width="0.8"/>
<text x="237.7" y="1167.7" font-size="8.2" text-anchor="middle" font-family="Liberation Sans" font-weight="bold" fill="#f01818" stroke="#f01818" stroke-width="0.25">E</text>
<circle cx="205.3" cy="1136.3" r="5.3" fill="#fff" stroke="#333" stroke-width="0.8"/>
<text x="205.3" y="1139.2" font-size="8.2" text-anchor="middle" font-family="Liberation Sans" font-weight="bold" fill="#f01818" stroke="#f01818" stroke-width="0.25">G</text>
<circle cx="205.3" cy="1150.8" r="5.3" fill="#fff" stroke="#333" stroke-width="0.8"/>
<text x="205.3" y="1153.7" font-size="8.2" text-anchor="middle" font-family="Liberation Sans" font-weight="bold" fill="#f01818" stroke="#f01818" stroke-width="0.25">F</text>
<circle cx="205.3" cy="1180.1" r="5.3" fill="#fff" stroke="#333" stroke-width="0.8"/>
<text x="205.3" y="1183" font-size="8.2" text-anchor="middle" font-family="Liberation Sans" font-weight="bold" fill="#f01818" stroke="#f01818" stroke-width="0.25">H</text>
<circle cx="205.3" cy="1196.1" r="5.3" fill="#fff" stroke="#333" stroke-width="0.8"/>
<text x="205.3" y="1199" font-size="8.2" text-anchor="middle" font-family="Liberation Sans" font-weight="bold" fill="#f01818" stroke="#f01818" stroke-width="0.25">I</text>
<polyline points="147.1,1228.60 149.1,1228.60 151.1,1228.60 153.1,1228.60 155.1,1228.60 157.1,1228.60 159.1,1228.60 161.1,1228.60 163.1,1228.60 165.1,1228.60 167.1,1228.60 169.1,1228.60 171.1,1228.60 173.1,1228.60 175.1,1228.60 177.1,1228.60 179.1,1228.60 181.1,1228.60 183.1,1228.60 185.1,1228.60 187.1,1228.60 189.1,1228.60 191.1,1228.60 193.1,1228.60 195.1,1228.60 197.1,1228.60 199.1,1228.60 201.1,1228.60 203.1,1228.60 205.1,1228.60 207.1,1228.59 209.1,1228.59 211.1,1228.59 213.1,1228.59 215.1,1228.59 217.1,1228.59 219.1,1228.59 221.1,1228.59 223.1,1228.59 225.1,1228.59 227.1,1228.59 229.1,1228.59 231.1,1228.58 233.1,1228.58 235.1,1228.58 237.1,1228.58 239.1,1228.57 241.1,1228.57 243.1,1228.56 245.1,1228.55 247.1,1228.53 249.1,1228.50 249.8,1228.49 249.9,1228.49 250.1,1228.48 250.2,1228.48 250.3,1228.48 250.4,1228.48 250.6,1228.47 250.7,1228.47 250.8,1228.46 250.9,1228.46 251.1,1228.46 251.1,1228.46 251.2,1228.45 251.3,1228.45 251.4,1228.44 251.6,1228.44 251.7,1228.43 251.8,1228.43 251.9,1228.42 252.1,1228.42 252.2,1228.41 252.3,1228.41 252.4,1228.40 252.6,1228.39 252.7,1228.39 252.8,1228.38 252.9,1228.37 253.1,1228.36 253.1,1228.36 253.2,1228.35 253.3,1228.34 253.4,1228.33 253.6,1228.32 253.7,1228.31 253.8,1228.30 253.9,1228.29 254.1,1228.27 254.2,1228.26 254.3,1228.24 254.4,1228.23 254.6,1228.21 254.7,1228.19 254.8,1228.17 254.9,1228.15 255.1,1228.13 255.1,1228.12 255.2,1228.10 255.3,1228.07 255.4,1228.04 255.6,1228.01 255.7,1227.97 255.8,1227.94 255.9,1227.89 256.1,1227.85 256.2,1227.79 256.3,1227.74 256.4,1227.67 256.6,1227.60 256.7,1227.52 256.8,1227.43 256.9,1227.33 257.1,1227.22 257.1,1227.16 257.2,1227.08 257.3,1226.93 257.4,1226.75 257.6,1226.56 257.7,1226.31 257.8,1226.04 257.9,1225.69 258.1,1225.30 258.2,1224.79 258.3,1224.20 258.4,1223.41 258.6,1222.48 258.7,1221.17 258.8,1219.57 258.9,1217.24 259.1,1214.29 259.1,1212.75 259.2,1209.81 259.3,1204.01 259.4,1195.37 259.6,1185.39 259.7,1174.97 259.8,1170.80 259.9,1175.63 260.1,1185.39 260.2,1196.13 260.3,1204.01 260.4,1210.22 260.6,1214.29 260.7,1217.45 260.8,1219.57 260.9,1221.28 261.1,1222.47 261.1,1222.89 261.2,1223.48 261.3,1224.20 261.4,1224.83 261.6,1225.30 261.7,1225.72 261.8,1226.04 261.9,1226.33 262.1,1226.56 262.2,1226.77 262.3,1226.93 262.4,1227.09 262.6,1227.21 262.7,1227.33 262.8,1227.43 262.9,1227.52 263.1,1227.60 263.1,1227.63 263.2,1227.67 263.3,1227.73 263.4,1227.79 263.6,1227.84 263.7,1227.89 263.8,1227.93 263.9,1227.97 264.1,1228.01 264.2,1228.04 264.3,1228.07 264.4,1228.10 264.6,1228.12 264.7,1228.15 264.8,1228.17 264.9,1228.19 265.1,1228.21 265.1,1228.22 265.2,1228.23 265.3,1228.24 265.4,1228.26 265.6,1228.27 265.7,1228.29 265.8,1228.30 265.9,1228.31 266.1,1228.32 266.2,1228.33 266.3,1228.34 266.4,1228.35 266.6,1228.36 266.7,1228.37 266.8,1228.38 266.9,1228.38 267.1,1228.39 267.1,1228.39 267.2,1228.40 267.3,1228.40 267.4,1228.41 267.6,1228.42 267.7,1228.42 267.8,1228.43 267.9,1228.43 268.1,1228.44 268.2,1228.44 268.3,1228.45 268.4,1228.45 268.6,1228.45 268.7,1228.46 268.8,1228.46 268.9,1228.47 269.1,1228.47 269.1,1228.47 269.2,1228.47 269.3,1228.48 269.4,1228.48 269.6,1228.48 269.7,1228.48 269.8,1228.49 271.1,1228.51 273.1,1228.53 275.1,1228.55 277.1,1228.56 279.1,1228.56 281.1,1228.57 283.1,1228.57 285.1,1228.57 287.1,1228.57 289.1,1228.57 291.1,1228.57 293.1,1228.57 295.1,1228.56 297.1,1228.56 299.1,1228.55 301.1,1228.54 303.1,1228.52 305.1,1228.50 305.7,1228.49 306.2,1228.48 306.7,1228.47 307.1,1228.46 307.2,1228.46 307.7,1228.45 308.2,1228.43 308.7,1228.41 309.1,1228.40 309.2,1228.39 309.7,1228.37 310.2,1228.34 310.7,1228.30 311.1,1228.27 311.2,1228.26 311.7,1228.20 312.2,1228.14 312.7,1228.05 313.1,1227.96 313.2,1227.94 313.7,1227.79 314.2,1227.60 314.7,1227.33 315.1,1227.04 315.2,1226.95 315.7,1226.43 316.2,1225.71 316.7,1224.83 317.1,1224.12 317.2,1223.97 317.7,1223.60 318.2,1223.97 318.7,1224.83 319.1,1225.55 319.2,1225.71 319.7,1226.43 320.2,1226.95 320.7,1227.33 321.1,1227.55 321.2,1227.60 321.7,1227.79 322.2,1227.94 322.7,1228.05 323.1,1228.12 323.2,1228.14 323.7,1228.21 324.2,1228.26 324.7,1228.30 325.1,1228.33 325.2,1228.34 325.7,1228.37 326.2,1228.39 326.7,1228.42 327.1,1228.43 327.2,1228.43 327.7,1228.45 328.2,1228.46 328.7,1228.47 329.1,1228.48 329.2,1228.48 329.7,1228.49 331.1,1228.51 333.1,1228.53 335.1,1228.55 337.1,1228.56 338.9,1228.56" fill="none" stroke="#30b6c6" stroke-width="1.4" stroke-linejoin="round"/>
<polyline points="137.1,1241.10 139.1,1241.10 141.1,1241.10 143.1,1241.10 145.1,1241.10 147.1,1241.10 149.1,1241.10 151.1,1241.10 153.1,1241.10 155.1,1241.10 157.1,1241.10 159.1,1241.10 161.1,1241.10 163.1,1241.10 165.1,1241.10 167.1,1241.10 169.1,1241.10 171.1,1241.10 173.1,1241.10 175.1,1241.10 177.1,1241.10 179.1,1241.10 181.1,1241.10 183.1,1241.10 185.1,1241.10 187.1,1241.10 189.1,1241.10 191.1,1241.10 193.1,1241.10 195.1,1241.10 197.1,1241.10 199.1,1241.10 201.1,1241.10 203.1,1241.09 205.1,1241.09 207.1,1241.09 209.1,1241.09 211.1,1241.09 213.1,1241.09 215.1,1241.09 217.1,1241.09 219.1,1241.09 221.1,1241.09 223.1,1241.09 225.1,1241.09 227.1,1241.08 229.1,1241.08 231.1,1241.08 233.1,1241.07 235.1,1241.07 237.1,1241.06 239.1,1241.05 241.1,1241.03 242.6,1241.01 242.7,1241.01 242.8,1241.01 243,1241.00 243.1,1241.00 243.2,1241.00 243.3,1241.00 243.5,1240.99 243.6,1240.99 243.7,1240.99 243.8,1240.98 244,1240.98 244.1,1240.98 244.2,1240.97 244.3,1240.97 244.5,1240.97 244.6,1240.96 244.7,1240.96 244.8,1240.95 245,1240.95 245.1,1240.94 245.2,1240.94 245.3,1240.93 245.5,1240.93 245.6,1240.92 245.7,1240.92 245.8,1240.91 246,1240.90 246.1,1240.89 246.2,1240.89 246.3,1240.88 246.5,1240.87 246.6,1240.86 246.7,1240.85 246.8,1240.84 247,1240.83 247.1,1240.81 247.2,1240.80 247.3,1240.79 247.5,1240.77 247.6,1240.76 247.7,1240.74 247.8,1240.72 248,1240.70 248.1,1240.68 248.2,1240.65 248.3,1240.63 248.5,1240.60 248.6,1240.57 248.7,1240.53 248.8,1240.50 249,1240.46 249.1,1240.41 249.2,1240.36 249.3,1240.30 249.5,1240.24 249.6,1240.16 249.7,1240.09 249.8,1239.99 250,1239.89 250.1,1239.77 250.2,1239.63 250.3,1239.47 250.5,1239.29 250.6,1239.05 250.7,1238.80 250.8,1238.47 251,1238.09 251.1,1237.59 251.2,1237.02 251.3,1236.22 251.5,1235.27 251.6,1233.92 251.7,1232.25 251.8,1229.77 252,1226.59 252.1,1221.77 252.2,1215.72 252.3,1207.57 252.5,1200.28 252.6,1196.69 252.7,1199.78 252.8,1207.57 253,1215.14 253.1,1221.77 253.2,1226.27 253.3,1229.77 253.5,1232.09 253.6,1233.92 253.7,1235.18 253.8,1236.22 254,1236.96 254.1,1237.59 254.2,1238.06 254.3,1238.47 254.5,1238.78 254.6,1239.05 254.7,1239.27 254.8,1239.47 255,1239.62 255.1,1239.77 255.2,1239.88 255.3,1239.99 255.5,1240.08 255.6,1240.16 255.7,1240.23 255.8,1240.30 256,1240.35 256.1,1240.41 256.2,1240.45 256.4,1240.49 256.5,1240.53 256.6,1240.57 256.7,1240.60 256.9,1240.63 257,1240.65 257.1,1240.68 257.2,1240.70 257.4,1240.72 257.5,1240.74 257.6,1240.75 257.7,1240.77 257.9,1240.79 258,1240.80 258.1,1240.81 258.2,1240.83 258.4,1240.84 258.5,1240.85 258.6,1240.86 258.7,1240.87 258.9,1240.88 259,1240.88 259.1,1240.89 259.2,1240.90 259.4,1240.91 259.5,1240.91 259.6,1240.92 259.7,1240.93 259.9,1240.93 260,1240.94 260.1,1240.94 260.2,1240.95 260.4,1240.95 260.5,1240.96 260.6,1240.96 260.7,1240.96 260.9,1240.97 261,1240.97 261.1,1240.97 261.2,1240.98 261.4,1240.98 261.5,1240.98 261.6,1240.99 261.7,1240.99 261.9,1240.99 262,1241.00 262.1,1241.00 262.2,1241.00 262.4,1241.00 262.5,1241.00 262.6,1241.01 263.1,1241.01 265.1,1241.04 267.1,1241.05 269.1,1241.06 271.1,1241.06 273.1,1241.07 275.1,1241.07 277.1,1241.07 279.1,1241.07 281.1,1241.07 283.1,1241.07 285.1,1241.07 287.1,1241.06 289.1,1241.06 291.1,1241.05 293.1,1241.04 295.1,1241.02 297.1,1241.00 298.7,1240.98 299.1,1240.97 299.2,1240.97 299.7,1240.95 300.2,1240.94 300.7,1240.92 301.1,1240.91 301.2,1240.91 301.7,1240.89 302.2,1240.86 302.7,1240.83 303.1,1240.81 303.2,1240.80 303.7,1240.76 304.2,1240.71 304.7,1240.65 305.1,1240.58 305.2,1240.57 305.7,1240.47 306.2,1240.34 306.7,1240.18 307.1,1240.00 307.2,1239.95 307.7,1239.65 308.2,1239.23 308.7,1238.64 309.1,1238.03 309.2,1237.86 309.7,1236.90 310.2,1235.99 310.7,1235.60 311.1,1235.86 311.2,1235.99 311.7,1236.90 312.2,1237.86 312.7,1238.64 313.1,1239.13 313.2,1239.23 313.7,1239.65 314.2,1239.95 314.7,1240.18 315.1,1240.31 315.2,1240.34 315.7,1240.47 316.2,1240.57 316.7,1240.65 317.1,1240.70 317.2,1240.71 317.7,1240.76 318.2,1240.80 318.7,1240.83 319.1,1240.86 319.2,1240.86 319.7,1240.89 320.2,1240.91 320.7,1240.93 321.1,1240.94 321.2,1240.94 321.7,1240.96 322.2,1240.97 322.7,1240.98 323.1,1240.99 325.1,1241.01 327.1,1241.03 329.1,1241.05 331.1,1241.06 333.1,1241.06 333.7,1241.07" fill="none" stroke="#2cc088" stroke-width="1.4" stroke-linejoin="round"/>
<polyline points="126.2,1254.00 128.2,1254.00 130.2,1254.00 132.2,1254.00 134.2,1254.00 136.2,1254.00 138.2,1254.00 140.2,1254.00 142.2,1254.00 144.2,1254.00 146.2,1254.00 148.2,1254.00 150.2,1254.00 152.2,1254.00 154.2,1254.00 156.2,1254.00 158.2,1254.00 160.2,1254.00 162.2,1254.00 164.2,1254.00 166.2,1254.00 168.2,1254.00 170.2,1254.00 172.2,1254.00 174.2,1254.00 176.2,1254.00 178.2,1254.00 180.2,1254.00 182.2,1254.00 184.2,1254.00 186.2,1254.00 188.2,1254.00 190.2,1254.00 192.2,1254.00 194.2,1254.00 196.2,1253.99 198.2,1253.99 200.2,1253.99 202.2,1253.99 204.2,1253.99 206.2,1253.99 208.2,1253.99 210.2,1253.99 212.2,1253.99 214.2,1253.99 216.2,1253.99 218.2,1253.99 220.2,1253.98 222.2,1253.98 224.2,1253.98 226.2,1253.97 228.2,1253.97 230.2,1253.96 232.2,1253.94 234.2,1253.92 235,1253.91 235.1,1253.91 235.2,1253.91 235.4,1253.90 235.5,1253.90 235.6,1253.90 235.8,1253.90 235.9,1253.89 236,1253.89 236.1,1253.89 236.2,1253.89 236.2,1253.89 236.4,1253.88 236.5,1253.88 236.6,1253.88 236.8,1253.87 236.9,1253.87 237,1253.86 237.1,1253.86 237.2,1253.86 237.4,1253.85 237.5,1253.85 237.6,1253.84 237.8,1253.84 237.9,1253.83 238,1253.82 238.1,1253.82 238.2,1253.81 238.2,1253.81 238.4,1253.80 238.5,1253.80 238.6,1253.79 238.8,1253.78 238.9,1253.77 239,1253.76 239.1,1253.75 239.2,1253.74 239.4,1253.73 239.5,1253.72 239.6,1253.71 239.8,1253.69 239.9,1253.68 240,1253.66 240.1,1253.64 240.2,1253.63 240.2,1253.62 240.4,1253.60 240.5,1253.58 240.6,1253.56 240.8,1253.53 240.9,1253.50 241,1253.47 241.1,1253.44 241.2,1253.40 241.4,1253.36 241.5,1253.32 241.6,1253.27 241.8,1253.21 241.9,1253.15 242,1253.08 242.1,1253.00 242.2,1252.95 242.2,1252.91 242.4,1252.80 242.5,1252.69 242.6,1252.56 242.8,1252.39 242.9,1252.20 243,1251.99 243.1,1251.74 243.2,1251.41 243.4,1251.01 243.5,1250.55 243.6,1249.99 243.8,1249.21 243.9,1248.20 244,1246.97 244.1,1245.34 244.2,1243.96 244.2,1242.94 244.4,1239.58 244.5,1235.28 244.6,1229.56 244.8,1221.96 244.9,1214.80 245,1211.99 245.1,1214.80 245.2,1221.96 245.4,1229.56 245.5,1235.28 245.6,1239.58 245.8,1242.94 245.9,1245.34 246,1246.97 246.1,1248.20 246.2,1248.85 246.2,1249.21 246.4,1249.99 246.5,1250.55 246.6,1251.01 246.8,1251.41 246.9,1251.73 247,1251.99 247.1,1252.20 247.2,1252.39 247.4,1252.56 247.5,1252.69 247.6,1252.80 247.8,1252.91 247.9,1253.00 248,1253.08 248.1,1253.14 248.2,1253.19 248.2,1253.21 248.4,1253.27 248.5,1253.32 248.6,1253.36 248.8,1253.40 248.9,1253.44 249,1253.47 249.1,1253.50 249.2,1253.53 249.4,1253.56 249.5,1253.58 249.6,1253.60 249.8,1253.62 249.9,1253.64 250,1253.66 250.1,1253.67 250.2,1253.68 250.2,1253.69 250.4,1253.70 250.5,1253.72 250.6,1253.73 250.8,1253.74 250.9,1253.75 251,1253.76 251.1,1253.77 251.2,1253.78 251.4,1253.79 251.5,1253.79 251.6,1253.80 251.8,1253.81 251.9,1253.82 252,1253.82 252.1,1253.83 252.2,1253.83 252.2,1253.83 252.4,1253.84 252.5,1253.84 252.6,1253.85 252.8,1253.85 252.9,1253.86 253,1253.86 253.1,1253.86 253.2,1253.87 253.4,1253.87 253.5,1253.88 253.6,1253.88 253.8,1253.88 253.9,1253.89 254,1253.89 254.1,1253.89 254.2,1253.89 254.2,1253.89 254.4,1253.90 254.5,1253.90 254.6,1253.90 254.8,1253.90 254.9,1253.91 255,1253.91 256.2,1253.92 258.2,1253.94 260.2,1253.95 262.2,1253.96 264.2,1253.96 266.2,1253.97 268.2,1253.97 270.2,1253.97 272.2,1253.97 274.2,1253.97 276.2,1253.97 278.2,1253.96 280.2,1253.96 282.2,1253.95 284.2,1253.95 286.2,1253.94 288.2,1253.92 290.2,1253.90 292.2,1253.87 292.6,1253.86 293.1,1253.85 293.6,1253.83 294.1,1253.82 294.2,1253.81 294.6,1253.80 295.1,1253.78 295.6,1253.76 296.1,1253.73 296.2,1253.72 296.6,1253.69 297.1,1253.66 297.6,1253.61 298.1,1253.55 298.2,1253.54 298.6,1253.48 299.1,1253.39 299.6,1253.28 300.1,1253.14 300.2,1253.10 300.6,1252.95 301.1,1252.70 301.6,1252.36 302.1,1251.89 302.2,1251.77 302.6,1251.25 303.1,1250.39 303.6,1249.36 304.1,1248.41 304.2,1248.27 304.6,1248.00 305.1,1248.41 305.6,1249.36 306.1,1250.39 306.2,1250.58 306.6,1251.25 307.1,1251.89 307.6,1252.36 308.1,1252.70 308.2,1252.75 308.6,1252.95 309.1,1253.14 309.6,1253.28 310.1,1253.39 310.2,1253.41 310.6,1253.48 311.1,1253.55 311.6,1253.61 312.1,1253.66 312.2,1253.67 312.6,1253.70 313.1,1253.73 313.6,1253.76 314.1,1253.78 314.2,1253.79 314.6,1253.80 315.1,1253.82 315.6,1253.83 316.1,1253.85 316.2,1253.85 316.6,1253.86 318.2,1253.89 320.2,1253.92 322.2,1253.93 324.2,1253.95 326.2,1253.96 327.9,1253.96" fill="none" stroke="#40cc28" stroke-width="1.4" stroke-linejoin="round"/>
<polyline points="114.3,1267.30 116.3,1267.30 118.3,1267.30 120.3,1267.30 122.3,1267.30 124.3,1267.30 126.3,1267.30 128.3,1267.30 130.3,1267.30 132.3,1267.30 134.3,1267.30 136.3,1267.30 138.3,1267.30 140.3,1267.30 142.3,1267.30 144.3,1267.30 146.3,1267.30 148.3,1267.30 150.3,1267.30 152.3,1267.30 154.3,1267.30 156.3,1267.30 158.3,1267.30 160.3,1267.30 162.3,1267.30 164.3,1267.30 166.3,1267.30 168.3,1267.30 170.3,1267.30 172.3,1267.30 174.3,1267.30 176.3,1267.30 178.3,1267.30 180.3,1267.29 182.3,1267.29 184.3,1267.29 186.3,1267.29 188.3,1267.29 190.3,1267.29 192.3,1267.29 194.3,1267.29 196.3,1267.29 198.3,1267.29 200.3,1267.29 202.3,1267.29 204.3,1267.29 206.3,1267.29 208.3,1267.28 210.3,1267.28 212.3,1267.28 214.3,1267.28 216.3,1267.27 218.3,1267.27 220.3,1267.26 222.3,1267.25 224.3,1267.23 226.3,1267.21 227.6,1267.18 227.7,1267.18 227.8,1267.18 228,1267.17 228.1,1267.17 228.2,1267.17 228.3,1267.16 228.3,1267.16 228.5,1267.16 228.6,1267.16 228.7,1267.15 228.8,1267.15 229,1267.14 229.1,1267.14 229.2,1267.13 229.3,1267.13 229.5,1267.12 229.6,1267.12 229.7,1267.11 229.8,1267.11 230,1267.10 230.1,1267.09 230.2,1267.09 230.3,1267.08 230.3,1267.08 230.5,1267.07 230.6,1267.06 230.7,1267.06 230.8,1267.05 231,1267.04 231.1,1267.03 231.2,1267.02 231.3,1267.01 231.5,1266.99 231.6,1266.98 231.7,1266.97 231.8,1266.95 232,1266.94 232.1,1266.92 232.2,1266.91 232.3,1266.89 232.3,1266.89 232.5,1266.87 232.6,1266.84 232.7,1266.82 232.8,1266.80 233,1266.77 233.1,1266.74 233.2,1266.71 233.3,1266.67 233.5,1266.64 233.6,1266.59 233.7,1266.55 233.8,1266.50 234,1266.45 234.1,1266.38 234.2,1266.32 234.3,1266.27 234.3,1266.24 234.5,1266.16 234.6,1266.06 234.7,1265.96 234.8,1265.84 235,1265.70 235.1,1265.54 235.2,1265.36 235.3,1265.14 235.5,1264.91 235.6,1264.60 235.7,1264.27 235.8,1263.83 236,1263.34 236.1,1262.69 236.2,1261.94 236.3,1261.33 236.3,1260.90 236.5,1259.68 236.6,1257.94 236.7,1255.79 236.8,1252.64 237,1248.65 237.1,1242.71 237.2,1235.41 237.3,1225.86 237.5,1217.57 237.6,1213.59 237.7,1217.02 237.8,1225.86 238,1234.72 238.1,1242.71 238.2,1248.26 238.3,1251.13 238.3,1252.64 238.5,1255.59 238.6,1257.94 238.7,1259.56 238.8,1260.90 239,1261.87 239.1,1262.69 239.2,1263.30 239.3,1263.83 239.5,1264.24 239.6,1264.60 239.7,1264.88 239.8,1265.14 240,1265.35 240.1,1265.54 240.2,1265.69 240.3,1265.78 240.3,1265.83 240.5,1265.95 240.6,1266.06 240.7,1266.15 240.8,1266.24 241,1266.31 241.1,1266.38 241.2,1266.44 241.3,1266.50 241.5,1266.55 241.6,1266.59 241.7,1266.63 241.8,1266.67 242,1266.71 242.1,1266.74 242.2,1266.77 242.3,1266.78 242.3,1266.79 242.5,1266.82 242.6,1266.84 242.7,1266.86 242.8,1266.88 243,1266.90 243.1,1266.92 243.2,1266.94 243.3,1266.95 243.5,1266.96 243.6,1266.98 243.7,1266.99 243.8,1267.00 244,1267.01 244.1,1267.02 244.2,1267.03 244.3,1267.04 244.3,1267.04 244.5,1267.05 244.6,1267.06 244.7,1267.07 244.8,1267.08 245,1267.08 245.1,1267.09 245.2,1267.10 245.3,1267.10 245.5,1267.11 245.6,1267.11 245.7,1267.12 245.8,1267.12 246,1267.13 246.1,1267.13 246.2,1267.14 246.3,1267.14 246.3,1267.14 246.5,1267.15 246.6,1267.15 246.7,1267.15 246.8,1267.16 247,1267.16 247.1,1267.17 247.2,1267.17 247.3,1267.17 247.5,1267.17 247.6,1267.18 248.3,1267.19 250.3,1267.22 252.3,1267.24 254.3,1267.25 256.3,1267.25 258.3,1267.26 260.3,1267.26 262.3,1267.26 264.3,1267.26 266.3,1267.26 268.3,1267.26 270.3,1267.26 272.3,1267.25 274.3,1267.25 276.3,1267.24 278.3,1267.23 280.3,1267.22 282.3,1267.20 284.3,1267.17 286.3,1267.13 286.5,1267.12 287,1267.11 287.5,1267.09 288,1267.07 288.3,1267.06 288.5,1267.05 289,1267.03 289.5,1267.00 290,1266.96 290.3,1266.94 290.5,1266.92 291,1266.88 291.5,1266.82 292,1266.75 292.3,1266.70 292.5,1266.66 293,1266.55 293.5,1266.42 294,1266.24 294.3,1266.11 294.5,1266.01 295,1265.71 295.5,1265.30 296,1264.74 296.3,1264.31 296.5,1263.98 297,1262.99 297.5,1261.82 298,1260.75 298.3,1260.37 298.5,1260.30 299,1260.75 299.5,1261.82 300,1262.99 300.3,1263.61 300.5,1263.98 301,1264.74 301.5,1265.30 302,1265.71 302.3,1265.90 302.5,1266.01 303,1266.24 303.5,1266.42 304,1266.55 304.3,1266.62 304.5,1266.66 305,1266.75 305.5,1266.82 306,1266.88 306.3,1266.91 306.5,1266.92 307,1266.97 307.5,1267.00 308,1267.03 308.3,1267.04 308.5,1267.05 309,1267.08 309.5,1267.10 310,1267.11 310.3,1267.12 310.5,1267.13 312.3,1267.17 314.3,1267.20 316.3,1267.22 318.3,1267.23 320.3,1267.25 322.1,1267.25" fill="none" stroke="#d6d42c" stroke-width="1.4" stroke-linejoin="round"/>
<polyline points="102,1281.40 104,1281.40 106,1281.40 108,1281.40 110,1281.40 112,1281.40 114,1281.40 116,1281.40 118,1281.40 120,1281.40 122,1281.40 124,1281.40 126,1281.40 128,1281.40 130,1281.40 132,1281.40 134,1281.40 136,1281.40 138,1281.40 140,1281.40 142,1281.40 144,1281.40 146,1281.40 148,1281.40 150,1281.40 152,1281.40 154,1281.40 156,1281.40 158,1281.40 160,1281.40 162,1281.40 164,1281.40 166,1281.40 168,1281.40 170,1281.40 172,1281.40 174,1281.39 176,1281.39 178,1281.39 180,1281.39 182,1281.39 184,1281.39 186,1281.39 188,1281.39 190,1281.39 192,1281.39 194,1281.39 196,1281.39 198,1281.39 200,1281.38 202,1281.38 204,1281.38 206,1281.38 208,1281.37 210,1281.37 212,1281.36 214,1281.35 216,1281.33 218,1281.30 218.7,1281.29 218.8,1281.29 218.9,1281.28 219.1,1281.28 219.2,1281.28 219.3,1281.27 219.4,1281.27 219.6,1281.27 219.7,1281.26 219.8,1281.26 219.9,1281.26 220,1281.25 220.1,1281.25 220.2,1281.25 220.3,1281.24 220.4,1281.24 220.6,1281.23 220.7,1281.23 220.8,1281.22 220.9,1281.22 221.1,1281.21 221.2,1281.21 221.3,1281.20 221.4,1281.19 221.6,1281.19 221.7,1281.18 221.8,1281.17 221.9,1281.16 222,1281.16 222.1,1281.15 222.2,1281.14 222.3,1281.13 222.4,1281.12 222.6,1281.11 222.7,1281.10 222.8,1281.09 222.9,1281.07 223.1,1281.06 223.2,1281.04 223.3,1281.03 223.4,1281.01 223.6,1280.99 223.7,1280.97 223.8,1280.95 223.9,1280.93 224,1280.92 224.1,1280.90 224.2,1280.87 224.3,1280.84 224.4,1280.81 224.6,1280.78 224.7,1280.74 224.8,1280.70 224.9,1280.65 225.1,1280.60 225.2,1280.54 225.3,1280.48 225.4,1280.40 225.6,1280.33 225.7,1280.24 225.8,1280.14 225.9,1280.02 226,1279.97 226.1,1279.90 226.2,1279.74 226.3,1279.58 226.4,1279.37 226.6,1279.15 226.7,1278.86 226.8,1278.55 226.9,1278.14 227.1,1277.68 227.2,1277.07 227.3,1276.37 227.4,1275.41 227.6,1274.27 227.7,1272.65 227.8,1270.67 227.9,1267.78 228,1266.39 228.1,1264.14 228.2,1258.77 228.3,1252.25 228.4,1243.86 228.6,1236.70 228.7,1233.29 228.8,1236.22 228.9,1243.86 229.1,1251.64 229.2,1258.77 229.3,1263.78 229.4,1267.78 229.6,1270.48 229.7,1272.65 229.8,1274.16 229.9,1275.41 230,1275.81 230.1,1276.30 230.2,1277.07 230.3,1277.64 230.4,1278.14 230.6,1278.52 230.7,1278.86 230.8,1279.13 230.9,1279.37 231.1,1279.56 231.2,1279.74 231.3,1279.89 231.4,1280.02 231.6,1280.13 231.7,1280.24 231.8,1280.32 231.9,1280.40 232,1280.43 232.1,1280.47 232.2,1280.54 232.3,1280.59 232.4,1280.65 232.6,1280.69 232.7,1280.73 232.8,1280.77 232.9,1280.81 233.1,1280.84 233.2,1280.87 233.3,1280.90 233.4,1280.92 233.6,1280.95 233.7,1280.97 233.8,1280.99 233.9,1281.01 234,1281.02 234.1,1281.03 234.2,1281.04 234.3,1281.06 234.4,1281.07 234.6,1281.08 234.7,1281.10 234.8,1281.11 234.9,1281.12 235.1,1281.13 235.2,1281.14 235.3,1281.15 235.4,1281.16 235.6,1281.17 235.7,1281.18 235.8,1281.18 235.9,1281.19 236,1281.19 236.1,1281.20 236.2,1281.20 236.3,1281.21 236.4,1281.22 236.6,1281.22 236.7,1281.23 236.8,1281.23 236.9,1281.24 237.1,1281.24 237.2,1281.24 237.3,1281.25 237.4,1281.25 237.6,1281.26 237.7,1281.26 237.8,1281.26 237.9,1281.27 238,1281.27 238.1,1281.27 238.2,1281.27 238.3,1281.28 238.4,1281.28 238.6,1281.28 238.7,1281.29 240,1281.31 242,1281.33 244,1281.34 246,1281.35 248,1281.36 250,1281.36 252,1281.37 254,1281.37 256,1281.37 258,1281.37 260,1281.37 262,1281.36 264,1281.36 266,1281.36 268,1281.35 270,1281.35 272,1281.34 274,1281.32 276,1281.31 278,1281.28 279.9,1281.24 280,1281.24 280.4,1281.23 280.9,1281.21 281.4,1281.19 281.9,1281.18 282,1281.17 282.4,1281.15 282.9,1281.13 283.4,1281.09 283.9,1281.06 284,1281.05 284.4,1281.01 284.9,1280.96 285.4,1280.90 285.9,1280.82 286,1280.80 286.4,1280.72 286.9,1280.60 287.4,1280.44 287.9,1280.24 288,1280.19 288.4,1279.97 288.9,1279.61 289.4,1279.12 289.9,1278.46 290,1278.31 290.4,1277.62 290.9,1276.64 291.4,1275.77 291.9,1275.40 292,1275.41 292.4,1275.77 292.9,1276.64 293.4,1277.62 293.9,1278.46 294,1278.61 294.4,1279.12 294.9,1279.61 295.4,1279.97 295.9,1280.24 296,1280.28 296.4,1280.44 296.9,1280.60 297.4,1280.72 297.9,1280.82 298,1280.84 298.4,1280.90 298.9,1280.96 299.4,1281.02 299.9,1281.06 300,1281.07 300.4,1281.10 300.9,1281.13 301.4,1281.15 301.9,1281.18 302,1281.18 302.4,1281.20 302.9,1281.21 303.4,1281.23 303.9,1281.24 304,1281.25 306,1281.28 308,1281.31 310,1281.33 312,1281.34 314,1281.35 316,1281.36 316.3,1281.36" fill="none" stroke="#f0b438" stroke-width="1.4" stroke-linejoin="round"/>
<polyline points="89.1,1296.30 91.1,1296.30 93.1,1296.30 95.1,1296.30 97.1,1296.30 99.1,1296.30 101.1,1296.30 103.1,1296.30 105.1,1296.30 107.1,1296.30 109.1,1296.30 111.1,1296.30 113.1,1296.30 115.1,1296.30 117.1,1296.30 119.1,1296.30 121.1,1296.30 123.1,1296.30 125.1,1296.30 127.1,1296.30 129.1,1296.30 131.1,1296.30 133.1,1296.30 135.1,1296.30 137.1,1296.30 139.1,1296.30 141.1,1296.30 143.1,1296.30 145.1,1296.30 147.1,1296.30 149.1,1296.30 151.1,1296.30 153.1,1296.30 155.1,1296.29 157.1,1296.29 159.1,1296.29 161.1,1296.29 163.1,1296.29 165.1,1296.29 167.1,1296.29 169.1,1296.29 171.1,1296.29 173.1,1296.29 175.1,1296.29 177.1,1296.29 179.1,1296.29 181.1,1296.29 183.1,1296.29 185.1,1296.29 187.1,1296.28 189.1,1296.28 191.1,1296.28 193.1,1296.28 195.1,1296.27 197.1,1296.27 199.1,1296.26 201.1,1296.26 203.1,1296.25 205.1,1296.23 207.1,1296.21 209.1,1296.17 209.8,1296.16 209.9,1296.15 210.1,1296.15 210.2,1296.15 210.3,1296.14 210.4,1296.14 210.6,1296.13 210.7,1296.13 210.8,1296.12 210.9,1296.12 211.1,1296.11 211.1,1296.11 211.2,1296.11 211.3,1296.10 211.4,1296.10 211.6,1296.09 211.7,1296.08 211.8,1296.08 211.9,1296.07 212.1,1296.06 212.2,1296.06 212.3,1296.05 212.4,1296.04 212.6,1296.03 212.7,1296.02 212.8,1296.01 212.9,1296.00 213.1,1295.99 213.1,1295.99 213.2,1295.98 213.3,1295.97 213.4,1295.95 213.6,1295.94 213.7,1295.93 213.8,1295.91 213.9,1295.89 214.1,1295.88 214.2,1295.86 214.3,1295.84 214.4,1295.82 214.6,1295.80 214.7,1295.77 214.8,1295.75 214.9,1295.72 215.1,1295.69 215.1,1295.67 215.2,1295.65 215.3,1295.62 215.4,1295.58 215.6,1295.54 215.7,1295.49 215.8,1295.44 215.9,1295.38 216.1,1295.33 216.2,1295.26 216.3,1295.19 216.4,1295.10 216.6,1295.01 216.7,1294.91 216.8,1294.79 216.9,1294.66 217.1,1294.52 217.1,1294.45 217.2,1294.34 217.3,1294.16 217.4,1293.93 217.6,1293.68 217.7,1293.37 217.8,1293.02 217.9,1292.58 218.1,1292.10 218.2,1291.45 218.3,1290.72 218.4,1289.74 218.6,1288.59 218.7,1286.99 218.8,1285.07 218.9,1282.32 219.1,1278.90 219.1,1277.16 219.2,1273.88 219.3,1267.65 219.4,1258.88 219.6,1249.46 219.7,1240.35 219.8,1236.89 219.9,1240.91 220.1,1249.46 220.2,1259.63 220.3,1267.65 220.4,1274.33 220.6,1278.90 220.7,1282.56 220.8,1285.07 220.9,1287.13 221.1,1288.59 221.1,1289.10 221.2,1289.82 221.3,1290.72 221.4,1291.51 221.6,1292.09 221.7,1292.62 221.8,1293.02 221.9,1293.39 222.1,1293.68 222.2,1293.95 222.3,1294.16 222.4,1294.36 222.6,1294.52 222.7,1294.67 222.8,1294.79 222.9,1294.91 223.1,1295.01 223.1,1295.05 223.2,1295.10 223.3,1295.18 223.4,1295.26 223.6,1295.32 223.7,1295.39 223.8,1295.44 223.9,1295.49 224.1,1295.54 224.2,1295.58 224.3,1295.62 224.4,1295.65 224.6,1295.68 224.7,1295.72 224.8,1295.74 224.9,1295.77 225.1,1295.79 225.1,1295.80 225.2,1295.82 225.3,1295.84 225.4,1295.86 225.6,1295.88 225.7,1295.89 225.8,1295.91 225.9,1295.92 226.1,1295.94 226.2,1295.95 226.3,1295.97 226.4,1295.98 226.6,1295.99 226.7,1296.00 226.8,1296.01 226.9,1296.02 227.1,1296.03 227.1,1296.03 227.2,1296.04 227.3,1296.05 227.4,1296.05 227.6,1296.06 227.7,1296.07 227.8,1296.07 227.9,1296.08 228.1,1296.09 228.2,1296.09 228.3,1296.10 228.4,1296.10 228.6,1296.11 228.7,1296.11 228.8,1296.12 228.9,1296.12 229.1,1296.13 229.1,1296.13 229.2,1296.13 229.3,1296.14 229.4,1296.14 229.6,1296.14 229.7,1296.15 229.8,1296.15 231.1,1296.18 233.1,1296.21 235.1,1296.23 237.1,1296.24 239.1,1296.25 241.1,1296.25 243.1,1296.26 245.1,1296.26 247.1,1296.26 249.1,1296.26 251.1,1296.26 253.1,1296.26 255.1,1296.25 257.1,1296.25 259.1,1296.24 261.1,1296.23 263.1,1296.22 265.1,1296.21 267.1,1296.19 269.1,1296.16 271.1,1296.12 272.3,1296.08 272.8,1296.06 273.1,1296.05 273.3,1296.04 273.8,1296.02 274.3,1295.99 274.8,1295.96 275.1,1295.94 275.3,1295.92 275.8,1295.88 276.3,1295.83 276.8,1295.77 277.1,1295.73 277.3,1295.70 277.8,1295.61 278.3,1295.51 278.8,1295.37 279.1,1295.28 279.3,1295.21 279.8,1295.00 280.3,1294.72 280.8,1294.36 281.1,1294.09 281.3,1293.87 281.8,1293.23 282.3,1292.37 282.8,1291.28 283.1,1290.54 283.3,1290.04 283.8,1288.95 284.3,1288.50 284.8,1288.95 285.1,1289.56 285.3,1290.04 285.8,1291.28 286.3,1292.37 286.8,1293.23 287.1,1293.64 287.3,1293.88 287.8,1294.36 288.3,1294.72 288.8,1295.00 289.1,1295.13 289.3,1295.21 289.8,1295.38 290.3,1295.51 290.8,1295.61 291.1,1295.67 291.3,1295.70 291.8,1295.77 292.3,1295.83 292.8,1295.88 293.1,1295.91 293.3,1295.93 293.8,1295.96 294.3,1295.99 294.8,1296.02 295.1,1296.04 295.3,1296.04 295.8,1296.07 296.3,1296.08 297.1,1296.11 299.1,1296.16 301.1,1296.19 303.1,1296.21 305.1,1296.23 307.1,1296.24 309.1,1296.25 309.6,1296.25" fill="none" stroke="#f09a30" stroke-width="1.4" stroke-linejoin="round"/>
<polyline points="75.8,1312.10 77.8,1312.10 79.8,1312.10 81.8,1312.10 83.8,1312.10 85.8,1312.10 87.8,1312.10 89.8,1312.10 91.8,1312.10 93.8,1312.10 95.8,1312.10 97.8,1312.10 99.8,1312.10 101.8,1312.10 103.8,1312.10 105.8,1312.10 107.8,1312.10 109.8,1312.10 111.8,1312.10 113.8,1312.10 115.8,1312.10 117.8,1312.10 119.8,1312.10 121.8,1312.10 123.8,1312.10 125.8,1312.10 127.8,1312.10 129.8,1312.10 131.8,1312.10 133.8,1312.10 135.8,1312.10 137.8,1312.10 139.8,1312.10 141.8,1312.10 143.8,1312.09 145.8,1312.09 147.8,1312.09 149.8,1312.09 151.8,1312.09 153.8,1312.09 155.8,1312.09 157.8,1312.09 159.8,1312.09 161.8,1312.09 163.8,1312.09 165.8,1312.09 167.8,1312.09 169.8,1312.09 171.8,1312.09 173.8,1312.09 175.8,1312.08 177.8,1312.08 179.8,1312.08 181.8,1312.08 183.8,1312.08 185.8,1312.07 187.8,1312.07 189.8,1312.06 191.8,1312.05 193.8,1312.04 195.8,1312.02 197.8,1312.00 199.8,1311.96 200.2,1311.95 200.3,1311.94 200.4,1311.94 200.6,1311.94 200.7,1311.93 200.8,1311.93 200.9,1311.92 201.1,1311.92 201.2,1311.91 201.3,1311.91 201.4,1311.90 201.6,1311.90 201.7,1311.89 201.8,1311.89 201.8,1311.89 201.9,1311.88 202.1,1311.87 202.2,1311.87 202.3,1311.86 202.4,1311.85 202.6,1311.84 202.7,1311.83 202.8,1311.83 202.9,1311.82 203.1,1311.81 203.2,1311.80 203.3,1311.79 203.4,1311.77 203.6,1311.76 203.7,1311.75 203.8,1311.74 203.8,1311.74 203.9,1311.72 204.1,1311.71 204.2,1311.69 204.3,1311.67 204.4,1311.65 204.6,1311.63 204.7,1311.61 204.8,1311.59 204.9,1311.57 205.1,1311.54 205.2,1311.51 205.3,1311.48 205.4,1311.45 205.6,1311.42 205.7,1311.38 205.8,1311.34 205.8,1311.34 205.9,1311.29 206.1,1311.25 206.2,1311.19 206.3,1311.13 206.4,1311.07 206.6,1311.00 206.7,1310.92 206.8,1310.84 206.9,1310.74 207.1,1310.63 207.2,1310.51 207.3,1310.37 207.4,1310.21 207.6,1310.04 207.7,1309.83 207.8,1309.65 207.8,1309.61 207.9,1309.33 208.1,1309.02 208.2,1308.64 208.3,1308.21 208.4,1307.66 208.6,1307.04 208.7,1306.21 208.8,1305.26 208.9,1303.97 209.1,1302.45 209.2,1300.30 209.3,1297.69 209.4,1293.90 209.6,1289.21 209.7,1282.40 209.8,1275.79 209.8,1274.33 209.9,1264.24 210.1,1255.88 210.2,1251.99 210.3,1255.34 210.4,1264.24 210.6,1273.59 210.7,1282.40 210.8,1288.75 210.9,1293.90 211.1,1297.44 211.2,1300.30 211.3,1302.30 211.4,1303.97 211.6,1305.18 211.7,1306.21 211.8,1306.86 211.8,1306.98 211.9,1307.66 212.1,1308.17 212.2,1308.64 212.3,1309.00 212.4,1309.33 212.6,1309.59 212.7,1309.83 212.8,1310.03 212.9,1310.21 213.1,1310.36 213.2,1310.50 213.3,1310.62 213.4,1310.73 213.6,1310.83 213.7,1310.92 213.8,1310.98 213.8,1310.99 213.9,1311.07 214.1,1311.13 214.2,1311.19 214.3,1311.24 214.4,1311.29 214.6,1311.33 214.7,1311.38 214.8,1311.41 214.9,1311.45 215.1,1311.48 215.2,1311.51 215.3,1311.54 215.4,1311.56 215.6,1311.59 215.7,1311.61 215.8,1311.63 215.8,1311.63 215.9,1311.65 216.1,1311.67 216.2,1311.69 216.3,1311.70 216.4,1311.72 216.6,1311.73 216.7,1311.75 216.8,1311.76 216.9,1311.77 217.1,1311.78 217.2,1311.79 217.3,1311.80 217.4,1311.81 217.6,1311.82 217.7,1311.83 217.8,1311.84 217.8,1311.84 217.9,1311.85 218.1,1311.85 218.2,1311.86 218.3,1311.87 218.4,1311.88 218.6,1311.88 218.7,1311.89 218.8,1311.89 218.9,1311.90 219.1,1311.90 219.2,1311.91 219.3,1311.91 219.4,1311.92 219.6,1311.92 219.7,1311.93 219.8,1311.93 219.8,1311.93 219.9,1311.94 220.1,1311.94 220.2,1311.94 221.8,1311.98 223.8,1312.01 225.8,1312.03 227.8,1312.04 229.8,1312.05 231.8,1312.05 233.8,1312.06 235.8,1312.06 237.8,1312.06 239.8,1312.06 241.8,1312.06 243.8,1312.06 245.8,1312.05 247.8,1312.05 249.8,1312.04 251.8,1312.04 253.8,1312.03 255.8,1312.02 257.8,1312.00 259.8,1311.98 261.8,1311.94 263.8,1311.89 264.5,1311.87 265,1311.85 265.5,1311.83 265.8,1311.81 266,1311.80 266.5,1311.77 267,1311.74 267.5,1311.70 267.8,1311.68 268,1311.66 268.5,1311.61 269,1311.54 269.5,1311.47 269.8,1311.42 270,1311.38 270.5,1311.27 271,1311.13 271.5,1310.95 271.8,1310.83 272,1310.73 272.5,1310.45 273,1310.07 273.5,1309.58 273.8,1309.21 274,1308.92 274.5,1308.06 275,1306.98 275.5,1305.77 275.8,1305.10 276,1304.73 276.5,1304.30 277,1304.73 277.5,1305.77 277.8,1306.50 278,1306.98 278.5,1308.06 279,1308.92 279.5,1309.58 279.8,1309.89 280,1310.08 280.5,1310.45 281,1310.73 281.5,1310.96 281.8,1311.06 282,1311.13 282.5,1311.27 283,1311.38 283.5,1311.47 283.8,1311.52 284,1311.55 284.5,1311.61 285,1311.66 285.5,1311.71 285.8,1311.73 286,1311.74 286.5,1311.78 287,1311.81 287.5,1311.83 287.8,1311.84 288,1311.85 288.5,1311.87 289.8,1311.91 291.8,1311.96 293.8,1311.99 295.8,1312.01 297.8,1312.03 299.8,1312.04 301.8,1312.05 302.6,1312.05" fill="none" stroke="#f07a30" stroke-width="1.4" stroke-linejoin="round"/>
<polyline points="61.8,1328.80 63.8,1328.80 65.8,1328.80 67.8,1328.80 69.8,1328.80 71.8,1328.80 73.8,1328.80 75.8,1328.80 77.8,1328.80 79.8,1328.80 81.8,1328.80 83.8,1328.80 85.8,1328.80 87.8,1328.80 89.8,1328.80 91.8,1328.80 93.8,1328.80 95.8,1328.80 97.8,1328.80 99.8,1328.80 101.8,1328.80 103.8,1328.80 105.8,1328.80 107.8,1328.80 109.8,1328.80 111.8,1328.80 113.8,1328.80 115.8,1328.80 117.8,1328.80 119.8,1328.80 121.8,1328.80 123.8,1328.80 125.8,1328.80 127.8,1328.80 129.8,1328.80 131.8,1328.79 133.8,1328.79 135.8,1328.79 137.8,1328.79 139.8,1328.79 141.8,1328.79 143.8,1328.79 145.8,1328.79 147.8,1328.79 149.8,1328.79 151.8,1328.79 153.8,1328.79 155.8,1328.79 157.8,1328.79 159.8,1328.79 161.8,1328.79 163.8,1328.79 165.8,1328.78 167.8,1328.78 169.8,1328.78 171.8,1328.78 173.8,1328.77 175.8,1328.77 177.8,1328.76 179.8,1328.76 181.8,1328.75 183.8,1328.74 185.8,1328.72 187.8,1328.69 189.8,1328.64 189.9,1328.64 190.1,1328.64 190.2,1328.63 190.3,1328.63 190.4,1328.62 190.6,1328.62 190.7,1328.61 190.8,1328.61 190.9,1328.60 191.1,1328.60 191.2,1328.59 191.3,1328.58 191.4,1328.58 191.6,1328.57 191.7,1328.56 191.8,1328.56 191.9,1328.55 192.1,1328.54 192.2,1328.53 192.3,1328.53 192.4,1328.52 192.6,1328.51 192.7,1328.50 192.8,1328.49 192.9,1328.47 193.1,1328.46 193.2,1328.45 193.3,1328.44 193.4,1328.42 193.6,1328.41 193.7,1328.39 193.8,1328.38 193.9,1328.36 194.1,1328.34 194.2,1328.32 194.3,1328.30 194.4,1328.27 194.6,1328.25 194.7,1328.22 194.8,1328.19 194.9,1328.16 195.1,1328.13 195.2,1328.09 195.3,1328.05 195.4,1328.01 195.6,1327.97 195.7,1327.91 195.8,1327.86 195.9,1327.80 196.1,1327.73 196.2,1327.66 196.3,1327.58 196.4,1327.49 196.6,1327.39 196.7,1327.27 196.8,1327.15 196.9,1327.01 197.1,1326.85 197.2,1326.66 197.3,1326.46 197.4,1326.21 197.6,1325.94 197.7,1325.60 197.8,1325.23 197.9,1324.75 198.1,1324.22 198.2,1323.53 198.3,1322.74 198.4,1321.68 198.6,1320.45 198.7,1318.75 198.8,1316.71 198.9,1313.81 199.1,1310.26 199.2,1305.10 199.3,1298.80 199.4,1290.17 199.6,1281.14 199.7,1272.65 199.8,1269.49 199.9,1273.17 200.1,1281.14 200.2,1290.89 200.3,1298.80 200.4,1305.55 200.6,1310.26 200.7,1314.07 200.8,1316.71 200.9,1318.90 201.1,1320.45 201.2,1321.77 201.3,1322.74 201.4,1323.58 201.6,1324.22 201.7,1324.79 201.8,1325.23 201.9,1325.63 202.1,1325.94 202.2,1326.23 202.3,1326.46 202.4,1326.68 202.6,1326.85 202.7,1327.02 202.8,1327.15 202.9,1327.28 203.1,1327.39 203.2,1327.49 203.3,1327.58 203.4,1327.66 203.6,1327.73 203.7,1327.80 203.8,1327.86 203.9,1327.92 204.1,1327.96 204.2,1328.01 204.3,1328.05 204.4,1328.09 204.6,1328.13 204.7,1328.16 204.8,1328.19 204.9,1328.22 205.1,1328.25 205.2,1328.27 205.3,1328.29 205.4,1328.32 205.6,1328.34 205.7,1328.36 205.8,1328.37 205.9,1328.39 206.1,1328.41 206.2,1328.42 206.3,1328.43 206.4,1328.45 206.6,1328.46 206.7,1328.47 206.8,1328.48 206.9,1328.49 207.1,1328.50 207.2,1328.51 207.3,1328.52 207.4,1328.53 207.6,1328.54 207.7,1328.55 207.8,1328.55 207.9,1328.56 208.1,1328.57 208.2,1328.58 208.3,1328.58 208.4,1328.59 208.6,1328.59 208.7,1328.60 208.8,1328.60 208.9,1328.61 209.1,1328.61 209.2,1328.62 209.3,1328.62 209.4,1328.63 209.6,1328.63 209.7,1328.63 209.8,1328.64 211.8,1328.68 213.8,1328.71 215.8,1328.73 217.8,1328.74 219.8,1328.75 221.8,1328.75 223.8,1328.76 225.8,1328.76 227.8,1328.76 229.8,1328.76 231.8,1328.76 233.8,1328.76 235.8,1328.75 237.8,1328.75 239.8,1328.75 241.8,1328.74 243.8,1328.73 245.8,1328.72 247.8,1328.71 249.8,1328.69 251.8,1328.67 253.8,1328.63 255.8,1328.58 256.3,1328.56 256.8,1328.54 257.3,1328.51 257.8,1328.49 258.3,1328.46 258.8,1328.42 259.3,1328.38 259.8,1328.34 260.3,1328.28 260.8,1328.21 261.3,1328.14 261.8,1328.04 262.3,1327.92 262.8,1327.78 263.3,1327.60 263.8,1327.37 264.3,1327.07 264.8,1326.69 265.3,1326.18 265.8,1325.52 266.3,1324.65 266.8,1323.58 267.3,1322.41 267.8,1321.40 268.3,1321.00 268.8,1321.40 269.3,1322.41 269.8,1323.58 270.3,1324.65 270.8,1325.52 271.3,1326.18 271.8,1326.69 272.3,1327.08 272.8,1327.37 273.3,1327.60 273.8,1327.78 274.3,1327.93 274.8,1328.04 275.3,1328.14 275.8,1328.22 276.3,1328.28 276.8,1328.34 277.3,1328.38 277.8,1328.42 278.3,1328.46 278.8,1328.49 279.3,1328.52 279.8,1328.54 280.3,1328.56 281.8,1328.61 283.8,1328.65 285.8,1328.68 287.8,1328.71 289.8,1328.72 291.8,1328.73 293.8,1328.74 295,1328.75" fill="none" stroke="#f04a50" stroke-width="1.4" stroke-linejoin="round"/>
<polyline points="46.1,1346.80 48.1,1346.80 50.1,1346.80 52.1,1346.80 54.1,1346.80 56.1,1346.80 58.1,1346.80 60.1,1346.80 62.1,1346.80 64.1,1346.80 66.1,1346.80 68.1,1346.80 70.1,1346.80 72.1,1346.80 74.1,1346.80 76.1,1346.80 78.1,1346.80 80.1,1346.80 82.1,1346.80 84.1,1346.80 86.1,1346.80 88.1,1346.80 90.1,1346.80 92.1,1346.80 94.1,1346.80 96.1,1346.80 98.1,1346.80 100.1,1346.80 102.1,1346.80 104.1,1346.80 106.1,1346.80 108.1,1346.80 110.1,1346.79 112.1,1346.79 114.1,1346.79 116.1,1346.79 118.1,1346.79 120.1,1346.79 122.1,1346.79 124.1,1346.79 126.1,1346.79 128.1,1346.79 130.1,1346.79 132.1,1346.79 134.1,1346.79 136.1,1346.79 138.1,1346.79 140.1,1346.79 142.1,1346.79 144.1,1346.79 146.1,1346.79 148.1,1346.79 150.1,1346.78 152.1,1346.78 154.1,1346.78 156.1,1346.78 158.1,1346.78 160.1,1346.77 162.1,1346.77 164.1,1346.76 166.1,1346.76 168.1,1346.75 170.1,1346.74 172.1,1346.73 174.1,1346.71 176.1,1346.68 178.1,1346.63 179,1346.60 179.1,1346.60 179.2,1346.59 179.4,1346.59 179.5,1346.58 179.6,1346.58 179.8,1346.57 179.9,1346.56 180,1346.56 180.1,1346.55 180.1,1346.55 180.2,1346.54 180.4,1346.54 180.5,1346.53 180.6,1346.52 180.8,1346.51 180.9,1346.50 181,1346.50 181.1,1346.49 181.2,1346.48 181.4,1346.47 181.5,1346.45 181.6,1346.44 181.8,1346.43 181.9,1346.42 182,1346.41 182.1,1346.39 182.1,1346.39 182.2,1346.38 182.4,1346.36 182.5,1346.34 182.6,1346.33 182.8,1346.31 182.9,1346.29 183,1346.27 183.1,1346.24 183.2,1346.22 183.4,1346.19 183.5,1346.17 183.6,1346.14 183.8,1346.11 183.9,1346.07 184,1346.04 184.1,1346.01 184.1,1346.00 184.2,1345.96 184.4,1345.91 184.5,1345.86 184.6,1345.81 184.8,1345.75 184.9,1345.68 185,1345.62 185.1,1345.55 185.2,1345.46 185.4,1345.36 185.5,1345.27 185.6,1345.16 185.8,1345.03 185.9,1344.88 186,1344.73 186.1,1344.59 186.1,1344.56 186.2,1344.35 186.4,1344.11 186.5,1343.86 186.6,1343.57 186.8,1343.21 186.9,1342.78 187,1342.32 187.1,1341.77 187.2,1341.06 187.4,1340.19 187.5,1339.21 187.6,1338.01 187.8,1336.37 187.9,1334.26 188,1331.76 188.1,1329.11 188.1,1328.51 188.2,1323.86 188.4,1317.63 188.5,1310.10 188.6,1300.76 188.8,1289.44 188.9,1279.76 189,1276.19 189.1,1279.76 189.2,1289.44 189.4,1300.76 189.5,1310.09 189.6,1317.62 189.8,1323.86 189.9,1328.51 190,1331.76 190.1,1333.89 190.1,1334.26 190.2,1336.37 190.4,1338.01 190.5,1339.21 190.6,1340.19 190.8,1341.06 190.9,1341.77 191,1342.32 191.1,1342.78 191.2,1343.21 191.4,1343.57 191.5,1343.86 191.6,1344.11 191.8,1344.35 191.9,1344.56 192,1344.73 192.1,1344.86 192.1,1344.88 192.2,1345.03 192.4,1345.16 192.5,1345.26 192.6,1345.36 192.8,1345.46 192.9,1345.54 193,1345.62 193.1,1345.68 193.2,1345.75 193.4,1345.81 193.5,1345.86 193.6,1345.91 193.8,1345.95 193.9,1346.00 194,1346.03 194.1,1346.06 194.1,1346.07 194.2,1346.10 194.4,1346.14 194.5,1346.16 194.6,1346.19 194.8,1346.22 194.9,1346.24 195,1346.26 195.1,1346.28 195.2,1346.30 195.4,1346.32 195.5,1346.34 195.6,1346.36 195.8,1346.37 195.9,1346.39 196,1346.40 196.1,1346.41 196.1,1346.41 196.2,1346.43 196.4,1346.44 196.5,1346.45 196.6,1346.46 196.8,1346.47 196.9,1346.48 197,1346.49 197.1,1346.50 197.2,1346.51 197.4,1346.52 197.5,1346.53 197.6,1346.53 197.8,1346.54 197.9,1346.55 198,1346.55 198.1,1346.56 198.1,1346.56 198.2,1346.57 198.4,1346.57 198.5,1346.58 198.6,1346.58 198.8,1346.59 198.9,1346.59 199,1346.60 200.1,1346.63 202.1,1346.68 204.1,1346.70 206.1,1346.72 208.1,1346.73 210.1,1346.74 212.1,1346.74 214.1,1346.75 216.1,1346.75 218.1,1346.75 220.1,1346.75 222.1,1346.75 224.1,1346.75 226.1,1346.75 228.1,1346.74 230.1,1346.74 232.1,1346.73 234.1,1346.72 236.1,1346.71 238.1,1346.70 240.1,1346.68 242.1,1346.65 244.1,1346.62 246.1,1346.56 247.6,1346.50 248.1,1346.48 248.6,1346.45 249.1,1346.42 249.6,1346.38 250.1,1346.34 250.6,1346.29 251.1,1346.23 251.6,1346.16 252.1,1346.08 252.6,1345.99 253.1,1345.87 253.6,1345.73 254.1,1345.55 254.6,1345.33 255.1,1345.06 255.6,1344.70 256.1,1344.25 256.6,1343.65 257.1,1342.87 257.6,1341.87 258.1,1340.65 258.6,1339.34 259.1,1338.24 259.6,1337.80 260.1,1338.24 260.6,1339.34 261.1,1340.65 261.6,1341.87 262.1,1342.87 262.6,1343.65 263.1,1344.25 263.6,1344.71 264.1,1345.06 264.6,1345.34 265.1,1345.55 265.6,1345.73 266.1,1345.87 266.6,1345.99 267.1,1346.08 267.6,1346.16 268.1,1346.23 268.6,1346.29 269.1,1346.34 269.6,1346.38 270.1,1346.42 270.6,1346.45 271.1,1346.48 271.6,1346.50 272.1,1346.53 274.1,1346.59 276.1,1346.64 278.1,1346.67 280.1,1346.70 282.1,1346.71 284.1,1346.73 286.1,1346.74 287.2,1346.74" fill="none" stroke="#e8128c" stroke-width="1.4" stroke-linejoin="round"/>
<text x="306.3" y="1353.5" font-size="13.6" text-anchor="middle" font-family="Liberation Serif" font-weight="bold" fill="#000" >A</text>
<text x="312.7" y="1335.9" font-size="13.3" text-anchor="middle" font-family="Liberation Serif" font-weight="bold" fill="#000" >B</text>
<text x="320.2" y="1318.4" font-size="13.0" text-anchor="middle" font-family="Liberation Serif" font-weight="bold" fill="#000" >C</text>
<text x="327.2" y="1300.9" font-size="12.6" text-anchor="middle" font-family="Liberation Serif" font-weight="bold" fill="#000" >D</text>
<text x="332.7" y="1287.3" font-size="12.3" text-anchor="middle" font-family="Liberation Serif" font-weight="bold" fill="#000" >E</text>
<text x="337.6" y="1274.3" font-size="12.0" text-anchor="middle" font-family="Liberation Serif" font-weight="bold" fill="#000" >F</text>
<text x="343.6" y="1260.7" font-size="11.7" text-anchor="middle" font-family="Liberation Serif" font-weight="bold" fill="#000" >G</text>
<text x="348.6" y="1248.1" font-size="11.4" text-anchor="middle" font-family="Liberation Serif" font-weight="bold" fill="#000" >H</text>
<text x="352.6" y="1235.5" font-size="11.0" text-anchor="middle" font-family="Liberation Serif" font-weight="bold" fill="#000" >I</text>
<text x="38.8" y="1378.9" font-size="14.6" text-anchor="middle" font-family="Liberation Serif" font-weight="bold" fill="#000" >200</text>
<text x="80.9" y="1378.9" font-size="14.6" text-anchor="middle" font-family="Liberation Serif" font-weight="bold" fill="#000" >300</text>
<text x="123.2" y="1378.9" font-size="14.6" text-anchor="middle" font-family="Liberation Serif" font-weight="bold" fill="#000" >400</text>
<text x="165.5" y="1378.9" font-size="14.6" text-anchor="middle" font-family="Liberation Serif" font-weight="bold" fill="#000" >500</text>
<text x="207.8" y="1378.9" font-size="14.6" text-anchor="middle" font-family="Liberation Serif" font-weight="bold" fill="#000" >600</text>
<text x="250.1" y="1378.9" font-size="14.6" text-anchor="middle" font-family="Liberation Serif" font-weight="bold" fill="#000" >700</text>
<text x="292.4" y="1378.9" font-size="14.6" text-anchor="middle" font-family="Liberation Serif" font-weight="bold" fill="#000" >800</text>
<text x="106.1" y="1406.3" font-size="15.6" font-family="Liberation Serif" font-weight="bold">Raman shift(cm<tspan font-size="9.5" dy="-6">-1</tspan><tspan dy="6">)</tspan></text>
<text transform="translate(24.2,1368) rotate(-90)" font-size="15.3" font-family="Liberation Serif" font-weight="bold">Raman Intensity(a.u.)</text>
<line x1="248.6" y1="1164.8" x2="374.6" y2="1117.2" stroke="#c00000" stroke-width="4" stroke-dasharray="12.5 5.5"/>
<text x="27.6" y="1114.8" font-size="36" font-family="Liberation Serif" font-weight="bold" clip-path="url(#cpRL)">(i)</text>
<rect x="372.5" y="1119.4" width="216.1" height="217.6" fill="#000" stroke="#c00000" stroke-width="4.8" stroke-dasharray="16.5 9" stroke-dashoffset="16.1"/>
<circle cx="481.1" cy="1150.2" r="13.4" fill="#fff"/>
<text x="481.1" y="1153.5" font-size="9.5" text-anchor="middle" font-family="Liberation Sans" font-weight="bold" fill="#f0141e" stroke="#f0141e" stroke-width="0.2">-0.48</text>
<circle cx="481.1" cy="1189" r="13.4" fill="#fff"/>
<text x="481.1" y="1192.3" font-size="9.5" text-anchor="middle" font-family="Liberation Sans" font-weight="bold" fill="#f0141e" stroke="#f0141e" stroke-width="0.2">-0.45</text>
<circle cx="481.1" cy="1228.1" r="13.4" fill="#fff"/>
<text x="481.1" y="1231.4" font-size="9.5" text-anchor="middle" font-family="Liberation Sans" font-weight="bold" fill="#f0141e" stroke="#f0141e" stroke-width="0.2">-0.44</text>
<circle cx="481.1" cy="1265.3" r="13.4" fill="#fff"/>
<text x="481.1" y="1268.6" font-size="9.5" text-anchor="middle" font-family="Liberation Sans" font-weight="bold" fill="#f0141e" stroke="#f0141e" stroke-width="0.2">-0.43</text>
<circle cx="481.1" cy="1305.2" r="13.4" fill="#fff"/>
<text x="481.1" y="1308.5" font-size="9.5" text-anchor="middle" font-family="Liberation Sans" font-weight="bold" fill="#f0141e" stroke="#f0141e" stroke-width="0.2">-0.51</text>
<circle cx="403.8" cy="1228.1" r="13.4" fill="#fff"/>
<text x="403.8" y="1231.4" font-size="9.5" text-anchor="middle" font-family="Liberation Sans" font-weight="bold" fill="#f0141e" stroke="#f0141e" stroke-width="0.2">-0.50</text>
<circle cx="444.1" cy="1228.1" r="13.4" fill="#fff"/>
<text x="444.1" y="1231.4" font-size="9.5" text-anchor="middle" font-family="Liberation Sans" font-weight="bold" fill="#f0141e" stroke="#f0141e" stroke-width="0.2">-0.42</text>
<circle cx="522.9" cy="1228.1" r="13.4" fill="#fff"/>
<text x="522.9" y="1231.4" font-size="9.5" text-anchor="middle" font-family="Liberation Sans" font-weight="bold" fill="#f0141e" stroke="#f0141e" stroke-width="0.2">-0.49</text>
<circle cx="560.2" cy="1228.1" r="13.4" fill="#fff"/>
<text x="560.2" y="1231.4" font-size="9.5" text-anchor="middle" font-family="Liberation Sans" font-weight="bold" fill="#f0141e" stroke="#f0141e" stroke-width="0.2">-0.48</text>
<rect x="597.7" y="1130.6" width="360.7" height="292.4" fill="#fff"/>
<path d="M778.6,1132.2 V1228.6 M810.7,1132.2 V1228.6 M842.8,1132.2 V1228.6 M874.8,1132.2 V1228.6 M906.9,1132.2 V1228.6 M746.5,1142 H939 M623.9,1256.7 L746.5,1142 M746.5,1161.3 H939 M623.9,1282.2 L746.5,1161.3 M746.5,1180.6 H939 M623.9,1307.7 L746.5,1180.6 M746.5,1199.9 H939 M623.9,1333.1 L746.5,1199.9 M746.5,1219.2 H939 M623.9,1358.6 L746.5,1219.2 M666.6,1371 L778.6,1228.6 M709.4,1371 L810.7,1228.6 M752.1,1371 L842.8,1228.6 M794.8,1371 L874.8,1228.6 M837.6,1371 L906.9,1228.6 M637.4,1355.3 H886.8 M637.4,1355.3 V1231.5 M652.7,1337.6 H894.1 M652.7,1337.6 V1217.6 M667.1,1320.8 H901 M667.1,1320.8 V1204.5 M680.6,1305.1 H907.5 M680.6,1305.1 V1192.2 M693.6,1290 H913.7 M693.6,1290 V1180.3 M705.6,1276.1 H919.4 M705.6,1276.1 V1169.4 M717.1,1262.7 H924.9 M717.1,1262.7 V1158.9 M728.2,1249.9 H930.2 M728.2,1249.9 V1148.9 M738.1,1238.4 H935 M738.1,1238.4 V1139.9" fill="none" stroke="#dcdcdc" stroke-width="0.7"/>
<path d="M623.9,1371 H880.3 L939,1228.6 V1132.2 H746.5 L623.9,1243.8 Z M746.5,1132.2 V1228.6 H939 M746.5,1228.6 L623.9,1371" fill="none" stroke="#111" stroke-width="1.7" stroke-linejoin="round"/>
<circle cx="792.2" cy="1183.3" r="41.7" fill="none" stroke="#111" stroke-width="1.5"/>
<path d="M754.5,1183.3 H829.9 M792.2,1145.6 V1221" stroke="#999" stroke-width="0.6" stroke-dasharray="1 1" fill="none"/>
<circle cx="792.2" cy="1183.3" r="5.3" fill="#fff" stroke="#333" stroke-width="0.8"/>
<text x="792.2" y="1186.2" font-size="8.2" text-anchor="middle" font-family="Liberation Sans" font-weight="bold" fill="#f01818" stroke="#f01818" stroke-width="0.25">C</text>
<circle cx="761.1" cy="1183.3" r="5.3" fill="#fff" stroke="#333" stroke-width="0.8"/>
<text x="761.1" y="1186.2" font-size="8.2" text-anchor="middle" font-family="Liberation Sans" font-weight="bold" fill="#f01818" stroke="#f01818" stroke-width="0.25">A</text>
<circle cx="776.3" cy="1183.3" r="5.3" fill="#fff" stroke="#333" stroke-width="0.8"/>
<text x="776.3" y="1186.2" font-size="8.2" text-anchor="middle" font-family="Liberation Sans" font-weight="bold" fill="#f01818" stroke="#f01818" stroke-width="0.25">B</text>
<circle cx="808.5" cy="1183.3" r="5.3" fill="#fff" stroke="#333" stroke-width="0.8"/>
<text x="808.5" y="1186.2" font-size="8.2" text-anchor="middle" font-family="Liberation Sans" font-weight="bold" fill="#f01818" stroke="#f01818" stroke-width="0.25">D</text>
<circle cx="824.2" cy="1183.3" r="5.3" fill="#fff" stroke="#333" stroke-width="0.8"/>
<text x="824.2" y="1186.2" font-size="8.2" text-anchor="middle" font-family="Liberation Sans" font-weight="bold" fill="#f01818" stroke="#f01818" stroke-width="0.25">E</text>
<circle cx="792.2" cy="1154.8" r="5.3" fill="#fff" stroke="#333" stroke-width="0.8"/>
<text x="792.2" y="1157.7" font-size="8.2" text-anchor="middle" font-family="Liberation Sans" font-weight="bold" fill="#f01818" stroke="#f01818" stroke-width="0.25">G</text>
<circle cx="792.2" cy="1169.2" r="5.3" fill="#fff" stroke="#333" stroke-width="0.8"/>
<text x="792.2" y="1172.1" font-size="8.2" text-anchor="middle" font-family="Liberation Sans" font-weight="bold" fill="#f01818" stroke="#f01818" stroke-width="0.25">F</text>
<circle cx="792.2" cy="1198.2" r="5.3" fill="#fff" stroke="#333" stroke-width="0.8"/>
<text x="792.2" y="1201.1" font-size="8.2" text-anchor="middle" font-family="Liberation Sans" font-weight="bold" fill="#f01818" stroke="#f01818" stroke-width="0.25">H</text>
<circle cx="792.2" cy="1213.6" r="5.3" fill="#fff" stroke="#333" stroke-width="0.8"/>
<text x="792.2" y="1216.5" font-size="8.2" text-anchor="middle" font-family="Liberation Sans" font-weight="bold" fill="#f01818" stroke="#f01818" stroke-width="0.25">I</text>
<polyline points="737.8,1238.40 739.8,1238.40 741.8,1238.40 743.8,1238.40 745.8,1238.40 747.8,1238.40 749.8,1238.40 751.8,1238.40 753.8,1238.40 755.8,1238.40 757.8,1238.40 759.8,1238.40 761.8,1238.40 763.8,1238.40 765.8,1238.40 767.8,1238.40 769.8,1238.40 771.8,1238.40 773.8,1238.40 775.8,1238.40 777.8,1238.40 779.8,1238.40 781.8,1238.40 783.8,1238.40 785.8,1238.40 787.8,1238.40 789.8,1238.40 791.8,1238.40 793.8,1238.40 795.8,1238.40 797.8,1238.40 799.8,1238.40 801.8,1238.40 803.8,1238.40 805.8,1238.40 807.8,1238.39 809.8,1238.39 811.8,1238.39 813.8,1238.39 815.8,1238.39 817.8,1238.39 819.8,1238.39 821.8,1238.39 823.8,1238.39 825.8,1238.38 827.8,1238.38 829.8,1238.38 831.8,1238.37 833.8,1238.37 835.8,1238.35 837.8,1238.34 839.8,1238.31 840.2,1238.31 840.3,1238.30 840.5,1238.30 840.6,1238.30 840.7,1238.30 840.8,1238.29 841,1238.29 841.1,1238.29 841.2,1238.28 841.3,1238.28 841.5,1238.28 841.6,1238.27 841.7,1238.27 841.8,1238.27 841.8,1238.27 842,1238.26 842.1,1238.26 842.2,1238.25 842.3,1238.25 842.5,1238.24 842.6,1238.24 842.7,1238.23 842.8,1238.23 843,1238.22 843.1,1238.22 843.2,1238.21 843.3,1238.20 843.5,1238.20 843.6,1238.19 843.7,1238.18 843.8,1238.17 843.8,1238.17 844,1238.16 844.1,1238.15 844.2,1238.14 844.3,1238.13 844.5,1238.12 844.6,1238.10 844.7,1238.09 844.8,1238.08 845,1238.06 845.1,1238.04 845.2,1238.03 845.3,1238.01 845.5,1237.99 845.6,1237.96 845.7,1237.94 845.8,1237.92 845.8,1237.91 846,1237.89 846.1,1237.85 846.2,1237.82 846.3,1237.78 846.5,1237.74 846.6,1237.69 846.7,1237.65 846.8,1237.59 847,1237.53 847.1,1237.45 847.2,1237.38 847.3,1237.29 847.5,1237.19 847.6,1237.07 847.7,1236.94 847.8,1236.82 847.8,1236.78 848,1236.61 848.1,1236.40 848.2,1236.16 848.3,1235.85 848.5,1235.51 848.6,1235.06 848.7,1234.55 848.8,1233.85 849,1233.04 849.1,1231.89 849.2,1230.49 849.3,1228.45 849.5,1225.86 849.6,1221.93 849.7,1216.85 849.8,1211.22 849.8,1209.27 850,1200.51 850.1,1191.36 850.2,1187.70 850.3,1191.95 850.5,1200.51 850.6,1209.93 850.7,1216.85 850.8,1222.29 851,1225.86 851.1,1228.63 851.2,1230.49 851.3,1231.99 851.5,1233.04 851.6,1233.91 851.7,1234.55 851.8,1234.98 851.8,1235.10 852,1235.51 852.1,1235.88 852.2,1236.16 852.3,1236.41 852.5,1236.61 852.6,1236.80 852.7,1236.94 852.8,1237.08 853,1237.19 853.1,1237.29 853.2,1237.38 853.3,1237.46 853.5,1237.53 853.6,1237.59 853.7,1237.65 853.8,1237.69 853.8,1237.70 854,1237.74 854.1,1237.78 854.2,1237.82 854.3,1237.86 854.5,1237.89 854.6,1237.92 854.7,1237.94 854.8,1237.97 855,1237.99 855.1,1238.01 855.2,1238.03 855.3,1238.05 855.5,1238.06 855.6,1238.08 855.7,1238.09 855.8,1238.10 855.8,1238.11 856,1238.12 856.1,1238.13 856.2,1238.14 856.3,1238.15 856.5,1238.16 856.6,1238.17 856.7,1238.18 856.8,1238.19 857,1238.20 857.1,1238.20 857.2,1238.21 857.3,1238.22 857.5,1238.22 857.6,1238.23 857.7,1238.23 857.8,1238.24 857.8,1238.24 858,1238.24 858.1,1238.25 858.2,1238.25 858.3,1238.26 858.5,1238.26 858.6,1238.27 858.7,1238.27 858.8,1238.27 859,1238.28 859.1,1238.28 859.2,1238.28 859.3,1238.29 859.5,1238.29 859.6,1238.29 859.7,1238.30 859.8,1238.30 859.8,1238.30 860,1238.30 860.1,1238.30 860.2,1238.31 861.8,1238.33 863.8,1238.35 865.8,1238.36 867.8,1238.37 869.8,1238.38 871.8,1238.38 873.8,1238.38 875.8,1238.39 877.8,1238.39 879.8,1238.39 881.8,1238.39 883.8,1238.39 885.8,1238.39 887.8,1238.39 889.8,1238.39 891.8,1238.39 893.8,1238.40 895.8,1238.40 897.8,1238.40 899.8,1238.40 901.8,1238.40 903.8,1238.40 905.8,1238.40 907.8,1238.40 909.8,1238.40 911.8,1238.40 913.8,1238.40 915.8,1238.40 917.8,1238.40 919.8,1238.40 921.8,1238.40 923.8,1238.40 925.8,1238.40 927.8,1238.40 929.5,1238.40" fill="none" stroke="#30b6c6" stroke-width="1.4" stroke-linejoin="round"/>
<polyline points="727.6,1249.90 729.6,1249.90 731.6,1249.90 733.6,1249.90 735.6,1249.90 737.6,1249.90 739.6,1249.90 741.6,1249.90 743.6,1249.90 745.6,1249.90 747.6,1249.90 749.6,1249.90 751.6,1249.90 753.6,1249.90 755.6,1249.90 757.6,1249.90 759.6,1249.90 761.6,1249.90 763.6,1249.90 765.6,1249.90 767.6,1249.90 769.6,1249.90 771.6,1249.90 773.6,1249.90 775.6,1249.90 777.6,1249.90 779.6,1249.90 781.6,1249.90 783.6,1249.90 785.6,1249.90 787.6,1249.90 789.6,1249.90 791.6,1249.90 793.6,1249.90 795.6,1249.90 797.6,1249.90 799.6,1249.89 801.6,1249.89 803.6,1249.89 805.6,1249.89 807.6,1249.89 809.6,1249.89 811.6,1249.89 813.6,1249.89 815.6,1249.89 817.6,1249.88 819.6,1249.88 821.6,1249.88 823.6,1249.87 825.6,1249.87 827.6,1249.86 829.6,1249.84 831.6,1249.82 832.9,1249.80 833,1249.80 833.1,1249.79 833.3,1249.79 833.4,1249.79 833.5,1249.78 833.6,1249.78 833.6,1249.78 833.8,1249.78 833.9,1249.77 834,1249.77 834.1,1249.77 834.3,1249.76 834.4,1249.76 834.5,1249.76 834.6,1249.75 834.8,1249.75 834.9,1249.74 835,1249.74 835.1,1249.73 835.3,1249.73 835.4,1249.72 835.5,1249.71 835.6,1249.71 835.6,1249.71 835.8,1249.70 835.9,1249.69 836,1249.69 836.1,1249.68 836.3,1249.67 836.4,1249.66 836.5,1249.65 836.6,1249.64 836.8,1249.63 836.9,1249.62 837,1249.61 837.1,1249.59 837.3,1249.58 837.4,1249.57 837.5,1249.55 837.6,1249.54 837.6,1249.53 837.8,1249.52 837.9,1249.50 838,1249.48 838.1,1249.45 838.3,1249.43 838.4,1249.40 838.5,1249.37 838.6,1249.34 838.8,1249.31 838.9,1249.27 839,1249.23 839.1,1249.19 839.3,1249.14 839.4,1249.08 839.5,1249.02 839.6,1248.98 839.6,1248.95 839.8,1248.88 839.9,1248.79 840,1248.70 840.1,1248.59 840.3,1248.47 840.4,1248.32 840.5,1248.16 840.6,1247.96 840.8,1247.75 840.9,1247.47 841,1247.17 841.1,1246.77 841.3,1246.33 841.4,1245.73 841.5,1245.05 841.6,1244.49 841.6,1244.10 841.8,1242.97 841.9,1241.37 842,1239.37 842.1,1236.42 842.3,1232.63 842.4,1226.90 842.5,1219.68 842.6,1209.97 842.8,1201.27 842.9,1197.00 843,1200.68 843.1,1209.97 843.3,1219.00 843.4,1226.90 843.5,1232.26 843.6,1234.99 843.6,1236.42 843.8,1239.18 843.9,1241.37 844,1242.87 844.1,1244.10 844.3,1244.98 844.4,1245.73 844.5,1246.29 844.6,1246.77 844.8,1247.14 844.9,1247.47 845,1247.73 845.1,1247.96 845.3,1248.15 845.4,1248.32 845.5,1248.46 845.6,1248.54 845.6,1248.59 845.8,1248.69 845.9,1248.79 846,1248.87 846.1,1248.95 846.3,1249.02 846.4,1249.08 846.5,1249.13 846.6,1249.19 846.8,1249.23 846.9,1249.27 847,1249.31 847.1,1249.34 847.3,1249.37 847.4,1249.40 847.5,1249.43 847.6,1249.44 847.6,1249.45 847.8,1249.47 847.9,1249.50 848,1249.51 848.1,1249.53 848.3,1249.55 848.4,1249.57 848.5,1249.58 848.6,1249.59 848.8,1249.61 848.9,1249.62 849,1249.63 849.1,1249.64 849.3,1249.65 849.4,1249.66 849.5,1249.67 849.6,1249.67 849.6,1249.68 849.8,1249.69 849.9,1249.69 850,1249.70 850.1,1249.71 850.3,1249.71 850.4,1249.72 850.5,1249.73 850.6,1249.73 850.8,1249.74 850.9,1249.74 851,1249.75 851.1,1249.75 851.3,1249.76 851.4,1249.76 851.5,1249.76 851.6,1249.77 851.6,1249.77 851.8,1249.77 851.9,1249.77 852,1249.78 852.1,1249.78 852.3,1249.78 852.4,1249.79 852.5,1249.79 852.6,1249.79 852.8,1249.80 852.9,1249.80 853.6,1249.81 855.6,1249.84 857.6,1249.85 859.6,1249.86 861.6,1249.87 863.6,1249.88 865.6,1249.88 867.6,1249.88 869.6,1249.89 871.6,1249.89 873.6,1249.89 875.6,1249.89 877.6,1249.89 879.6,1249.89 881.6,1249.89 883.6,1249.89 885.6,1249.89 887.6,1249.89 889.6,1249.90 891.6,1249.90 893.6,1249.90 895.6,1249.90 897.6,1249.90 899.6,1249.90 901.6,1249.90 903.6,1249.90 905.6,1249.90 907.6,1249.90 909.6,1249.90 911.6,1249.90 913.6,1249.90 915.6,1249.90 917.6,1249.90 919.6,1249.90 921.6,1249.90 923.6,1249.90 924,1249.90" fill="none" stroke="#2cc088" stroke-width="1.4" stroke-linejoin="round"/>
<polyline points="716.9,1262.70 718.9,1262.70 720.9,1262.70 722.9,1262.70 724.9,1262.70 726.9,1262.70 728.9,1262.70 730.9,1262.70 732.9,1262.70 734.9,1262.70 736.9,1262.70 738.9,1262.70 740.9,1262.70 742.9,1262.70 744.9,1262.70 746.9,1262.70 748.9,1262.70 750.9,1262.70 752.9,1262.70 754.9,1262.70 756.9,1262.70 758.9,1262.70 760.9,1262.70 762.9,1262.70 764.9,1262.70 766.9,1262.70 768.9,1262.70 770.9,1262.70 772.9,1262.70 774.9,1262.70 776.9,1262.70 778.9,1262.70 780.9,1262.70 782.9,1262.70 784.9,1262.70 786.9,1262.70 788.9,1262.70 790.9,1262.69 792.9,1262.69 794.9,1262.69 796.9,1262.69 798.9,1262.69 800.9,1262.69 802.9,1262.69 804.9,1262.69 806.9,1262.69 808.9,1262.68 810.9,1262.68 812.9,1262.68 814.9,1262.67 816.9,1262.67 818.9,1262.66 820.9,1262.65 822.9,1262.63 824.9,1262.60 825.4,1262.59 825.5,1262.59 825.6,1262.59 825.8,1262.59 825.9,1262.58 826,1262.58 826.1,1262.58 826.3,1262.57 826.4,1262.57 826.5,1262.57 826.6,1262.56 826.8,1262.56 826.9,1262.55 827,1262.55 827.1,1262.54 827.3,1262.54 827.4,1262.53 827.5,1262.53 827.6,1262.52 827.8,1262.52 827.9,1262.51 828,1262.51 828.1,1262.50 828.3,1262.49 828.4,1262.48 828.5,1262.48 828.6,1262.47 828.8,1262.46 828.9,1262.45 829,1262.44 829.1,1262.43 829.3,1262.42 829.4,1262.41 829.5,1262.39 829.6,1262.38 829.8,1262.37 829.9,1262.35 830,1262.33 830.1,1262.32 830.3,1262.30 830.4,1262.28 830.5,1262.26 830.6,1262.23 830.8,1262.21 830.9,1262.18 831,1262.15 831.1,1262.12 831.3,1262.08 831.4,1262.04 831.5,1262.00 831.6,1261.95 831.8,1261.90 831.9,1261.84 832,1261.78 832.1,1261.71 832.3,1261.63 832.4,1261.54 832.5,1261.45 832.6,1261.33 832.8,1261.20 832.9,1261.05 833,1260.88 833.1,1260.68 833.3,1260.45 833.4,1260.16 833.5,1259.85 833.6,1259.44 833.8,1258.97 833.9,1258.35 834,1257.64 834.1,1256.66 834.3,1255.49 834.4,1253.83 834.5,1251.78 834.6,1248.74 834.8,1244.87 834.9,1239.06 835,1231.83 835.1,1222.21 835.3,1213.73 835.4,1209.60 835.5,1213.16 835.6,1222.21 835.8,1231.14 835.9,1239.06 836,1244.49 836.1,1248.74 836.3,1251.58 836.4,1253.83 836.5,1255.38 836.6,1256.66 836.8,1257.57 836.9,1258.35 837,1258.93 837.1,1259.44 837.3,1259.82 837.4,1260.16 837.5,1260.43 837.6,1260.68 837.8,1260.87 837.9,1261.05 838,1261.19 838.1,1261.33 838.3,1261.44 838.4,1261.54 838.5,1261.63 838.6,1261.71 838.8,1261.78 838.9,1261.84 839,1261.90 839.1,1261.95 839.3,1262.00 839.4,1262.04 839.5,1262.08 839.6,1262.12 839.8,1262.15 839.9,1262.18 840,1262.21 840.1,1262.23 840.3,1262.25 840.4,1262.28 840.5,1262.30 840.6,1262.32 840.8,1262.33 840.9,1262.35 841,1262.36 841.1,1262.38 841.3,1262.39 841.4,1262.41 841.5,1262.42 841.6,1262.43 841.8,1262.44 841.9,1262.45 842,1262.46 842.1,1262.47 842.3,1262.48 842.4,1262.48 842.5,1262.49 842.6,1262.50 842.8,1262.50 842.9,1262.51 843,1262.52 843.1,1262.52 843.3,1262.53 843.4,1262.53 843.5,1262.54 843.6,1262.54 843.8,1262.55 843.9,1262.55 844,1262.56 844.1,1262.56 844.3,1262.56 844.4,1262.57 844.5,1262.57 844.6,1262.58 844.8,1262.58 844.9,1262.58 845,1262.59 845.1,1262.59 845.3,1262.59 845.4,1262.59 846.9,1262.62 848.9,1262.64 850.9,1262.66 852.9,1262.67 854.9,1262.67 856.9,1262.68 858.9,1262.68 860.9,1262.68 862.9,1262.69 864.9,1262.69 866.9,1262.69 868.9,1262.69 870.9,1262.69 872.9,1262.69 874.9,1262.69 876.9,1262.69 878.9,1262.69 880.9,1262.69 882.9,1262.70 884.9,1262.70 886.9,1262.70 888.9,1262.70 890.9,1262.70 892.9,1262.70 894.9,1262.70 896.9,1262.70 898.9,1262.70 900.9,1262.70 902.9,1262.70 904.9,1262.70 906.9,1262.70 908.9,1262.70 910.9,1262.70 912.9,1262.70 914.9,1262.70 916.9,1262.70 918.4,1262.70" fill="none" stroke="#40cc28" stroke-width="1.4" stroke-linejoin="round"/>
<polyline points="705,1276.10 707,1276.10 709,1276.10 711,1276.10 713,1276.10 715,1276.10 717,1276.10 719,1276.10 721,1276.10 723,1276.10 725,1276.10 727,1276.10 729,1276.10 731,1276.10 733,1276.10 735,1276.10 737,1276.10 739,1276.10 741,1276.10 743,1276.10 745,1276.10 747,1276.10 749,1276.10 751,1276.10 753,1276.10 755,1276.10 757,1276.10 759,1276.10 761,1276.10 763,1276.10 765,1276.10 767,1276.10 769,1276.10 771,1276.10 773,1276.10 775,1276.10 777,1276.10 779,1276.09 781,1276.09 783,1276.09 785,1276.09 787,1276.09 789,1276.09 791,1276.09 793,1276.09 795,1276.09 797,1276.09 799,1276.09 801,1276.08 803,1276.08 805,1276.08 807,1276.07 809,1276.07 811,1276.06 813,1276.04 815,1276.03 817,1276.00 817.9,1275.98 818,1275.97 818.1,1275.97 818.3,1275.97 818.4,1275.96 818.5,1275.96 818.6,1275.96 818.8,1275.95 818.9,1275.95 819,1275.94 819,1275.94 819.1,1275.94 819.3,1275.93 819.4,1275.93 819.5,1275.93 819.6,1275.92 819.8,1275.91 819.9,1275.91 820,1275.90 820.1,1275.90 820.3,1275.89 820.4,1275.88 820.5,1275.87 820.6,1275.87 820.8,1275.86 820.9,1275.85 821,1275.84 821,1275.84 821.1,1275.83 821.3,1275.82 821.4,1275.81 821.5,1275.80 821.6,1275.79 821.8,1275.77 821.9,1275.76 822,1275.75 822.1,1275.73 822.3,1275.71 822.4,1275.70 822.5,1275.68 822.6,1275.66 822.8,1275.64 822.9,1275.61 823,1275.59 823,1275.59 823.1,1275.56 823.3,1275.53 823.4,1275.50 823.5,1275.46 823.6,1275.43 823.8,1275.39 823.9,1275.34 824,1275.29 824.1,1275.24 824.3,1275.18 824.4,1275.11 824.5,1275.04 824.6,1274.96 824.8,1274.87 824.9,1274.76 825,1274.67 825,1274.65 825.1,1274.51 825.3,1274.37 825.4,1274.19 825.5,1274.00 825.6,1273.76 825.8,1273.50 825.9,1273.17 826,1272.81 826.1,1272.33 826.3,1271.80 826.4,1271.09 826.5,1270.27 826.6,1269.15 826.8,1267.81 826.9,1265.92 827,1264.02 827,1263.59 827.1,1260.16 827.3,1255.81 827.4,1249.35 827.5,1241.39 827.6,1230.98 827.8,1221.94 827.9,1217.60 828,1221.34 828.1,1230.98 828.3,1240.64 828.4,1249.35 828.5,1255.39 828.6,1260.16 828.8,1263.36 828.9,1265.92 829,1267.42 829,1267.69 829.1,1269.15 829.3,1270.20 829.4,1271.09 829.5,1271.75 829.6,1272.33 829.8,1272.78 829.9,1273.17 830,1273.48 830.1,1273.76 830.3,1273.98 830.4,1274.19 830.5,1274.36 830.6,1274.51 830.8,1274.64 830.9,1274.76 831,1274.84 831,1274.86 831.1,1274.96 831.3,1275.03 831.4,1275.11 831.5,1275.17 831.6,1275.24 831.8,1275.29 831.9,1275.34 832,1275.38 832.1,1275.43 832.3,1275.46 832.4,1275.50 832.5,1275.53 832.6,1275.56 832.8,1275.58 832.9,1275.61 833,1275.63 833,1275.63 833.1,1275.66 833.3,1275.68 833.4,1275.70 833.5,1275.71 833.6,1275.73 833.8,1275.74 833.9,1275.76 834,1275.77 834.1,1275.79 834.3,1275.80 834.4,1275.81 834.5,1275.82 834.6,1275.83 834.8,1275.84 834.9,1275.85 835,1275.86 835,1275.86 835.1,1275.87 835.3,1275.87 835.4,1275.88 835.5,1275.89 835.6,1275.90 835.8,1275.90 835.9,1275.91 836,1275.91 836.1,1275.92 836.3,1275.92 836.4,1275.93 836.5,1275.93 836.6,1275.94 836.8,1275.94 836.9,1275.95 837,1275.95 837,1275.95 837.1,1275.96 837.3,1275.96 837.4,1275.96 837.5,1275.97 837.6,1275.97 837.8,1275.97 837.9,1275.98 839,1276.00 841,1276.03 843,1276.05 845,1276.06 847,1276.07 849,1276.07 851,1276.08 853,1276.08 855,1276.08 857,1276.09 859,1276.09 861,1276.09 863,1276.09 865,1276.09 867,1276.09 869,1276.09 871,1276.09 873,1276.09 875,1276.09 877,1276.09 879,1276.10 881,1276.10 883,1276.10 885,1276.10 887,1276.10 889,1276.10 891,1276.10 893,1276.10 895,1276.10 897,1276.10 899,1276.10 901,1276.10 903,1276.10 905,1276.10 907,1276.10 909,1276.10 911,1276.10 912.6,1276.10" fill="none" stroke="#d6d42c" stroke-width="1.4" stroke-linejoin="round"/>
<polyline points="692.8,1290.00 694.8,1290.00 696.8,1290.00 698.8,1290.00 700.8,1290.00 702.8,1290.00 704.8,1290.00 706.8,1290.00 708.8,1290.00 710.8,1290.00 712.8,1290.00 714.8,1290.00 716.8,1290.00 718.8,1290.00 720.8,1290.00 722.8,1290.00 724.8,1290.00 726.8,1290.00 728.8,1290.00 730.8,1290.00 732.8,1290.00 734.8,1290.00 736.8,1290.00 738.8,1290.00 740.8,1290.00 742.8,1290.00 744.8,1290.00 746.8,1290.00 748.8,1290.00 750.8,1290.00 752.8,1290.00 754.8,1290.00 756.8,1290.00 758.8,1290.00 760.8,1290.00 762.8,1290.00 764.8,1290.00 766.8,1290.00 768.8,1289.99 770.8,1289.99 772.8,1289.99 774.8,1289.99 776.8,1289.99 778.8,1289.99 780.8,1289.99 782.8,1289.99 784.8,1289.99 786.8,1289.99 788.8,1289.99 790.8,1289.98 792.8,1289.98 794.8,1289.98 796.8,1289.97 798.8,1289.97 800.8,1289.96 802.8,1289.95 804.8,1289.94 806.8,1289.91 808.8,1289.88 809.2,1289.87 809.3,1289.87 809.5,1289.86 809.6,1289.86 809.7,1289.85 809.8,1289.85 810,1289.85 810.1,1289.84 810.2,1289.84 810.3,1289.83 810.5,1289.83 810.6,1289.82 810.7,1289.82 810.8,1289.81 810.8,1289.81 811,1289.81 811.1,1289.80 811.2,1289.80 811.3,1289.79 811.5,1289.78 811.6,1289.77 811.7,1289.77 811.8,1289.76 812,1289.75 812.1,1289.74 812.2,1289.73 812.3,1289.72 812.5,1289.71 812.6,1289.70 812.7,1289.69 812.8,1289.68 812.8,1289.68 813,1289.67 813.1,1289.65 813.2,1289.64 813.3,1289.62 813.5,1289.61 813.6,1289.59 813.7,1289.57 813.8,1289.55 814,1289.53 814.1,1289.50 814.2,1289.48 814.3,1289.45 814.5,1289.42 814.6,1289.39 814.7,1289.36 814.8,1289.33 814.8,1289.32 815,1289.28 815.1,1289.24 815.2,1289.19 815.3,1289.14 815.5,1289.08 815.6,1289.01 815.7,1288.95 815.8,1288.87 816,1288.78 816.1,1288.68 816.2,1288.58 816.3,1288.45 816.5,1288.31 816.6,1288.15 816.7,1287.97 816.8,1287.80 816.8,1287.75 817,1287.51 817.1,1287.22 817.2,1286.89 817.3,1286.47 817.5,1286.00 817.6,1285.39 817.7,1284.69 817.8,1283.74 818,1282.64 818.1,1281.10 818.2,1279.25 818.3,1276.57 818.5,1273.24 818.6,1268.31 818.7,1262.13 818.8,1255.54 818.8,1253.32 819,1243.69 819.1,1234.23 819.2,1230.60 819.3,1234.82 819.5,1243.69 819.6,1254.07 819.7,1262.13 819.8,1268.75 820,1273.24 820.1,1276.81 820.2,1279.25 820.3,1281.23 820.5,1282.64 820.6,1283.82 820.7,1284.69 820.8,1285.28 820.8,1285.44 821,1286.00 821.1,1286.50 821.2,1286.89 821.3,1287.24 821.5,1287.51 821.6,1287.77 821.7,1287.97 821.8,1288.16 822,1288.31 822.1,1288.46 822.2,1288.58 822.3,1288.69 822.5,1288.78 822.6,1288.87 822.7,1288.95 822.8,1289.00 822.8,1289.02 823,1289.08 823.1,1289.14 823.2,1289.19 823.3,1289.24 823.5,1289.28 823.6,1289.32 823.7,1289.36 823.8,1289.39 824,1289.42 824.1,1289.45 824.2,1289.48 824.3,1289.51 824.5,1289.53 824.6,1289.55 824.7,1289.57 824.8,1289.58 824.8,1289.59 825,1289.61 825.1,1289.62 825.2,1289.64 825.3,1289.65 825.5,1289.67 825.6,1289.68 825.7,1289.69 825.8,1289.70 826,1289.71 826.1,1289.72 826.2,1289.73 826.3,1289.74 826.5,1289.75 826.6,1289.76 826.7,1289.77 826.8,1289.77 826.8,1289.78 827,1289.78 827.1,1289.79 827.2,1289.80 827.3,1289.80 827.5,1289.81 827.6,1289.81 827.7,1289.82 827.8,1289.82 828,1289.83 828.1,1289.83 828.2,1289.84 828.3,1289.84 828.5,1289.85 828.6,1289.85 828.7,1289.85 828.8,1289.86 828.8,1289.86 829,1289.86 829.1,1289.87 829.2,1289.87 830.8,1289.90 832.8,1289.93 834.8,1289.95 836.8,1289.96 838.8,1289.97 840.8,1289.97 842.8,1289.98 844.8,1289.98 846.8,1289.98 848.8,1289.99 850.8,1289.99 852.8,1289.99 854.8,1289.99 856.8,1289.99 858.8,1289.99 860.8,1289.99 862.8,1289.99 864.8,1289.99 866.8,1289.99 868.8,1289.99 870.8,1290.00 872.8,1290.00 874.8,1290.00 876.8,1290.00 878.8,1290.00 880.8,1290.00 882.8,1290.00 884.8,1290.00 886.8,1290.00 888.8,1290.00 890.8,1290.00 892.8,1290.00 894.8,1290.00 896.8,1290.00 898.8,1290.00 900.8,1290.00 902.8,1290.00 904.8,1290.00 906.5,1290.00" fill="none" stroke="#f0b438" stroke-width="1.4" stroke-linejoin="round"/>
<polyline points="679.7,1305.10 681.7,1305.10 683.7,1305.10 685.7,1305.10 687.7,1305.10 689.7,1305.10 691.7,1305.10 693.7,1305.10 695.7,1305.10 697.7,1305.10 699.7,1305.10 701.7,1305.10 703.7,1305.10 705.7,1305.10 707.7,1305.10 709.7,1305.10 711.7,1305.10 713.7,1305.10 715.7,1305.10 717.7,1305.10 719.7,1305.10 721.7,1305.10 723.7,1305.10 725.7,1305.10 727.7,1305.10 729.7,1305.10 731.7,1305.10 733.7,1305.10 735.7,1305.10 737.7,1305.10 739.7,1305.10 741.7,1305.10 743.7,1305.10 745.7,1305.10 747.7,1305.10 749.7,1305.10 751.7,1305.10 753.7,1305.10 755.7,1305.10 757.7,1305.09 759.7,1305.09 761.7,1305.09 763.7,1305.09 765.7,1305.09 767.7,1305.09 769.7,1305.09 771.7,1305.09 773.7,1305.09 775.7,1305.09 777.7,1305.09 779.7,1305.08 781.7,1305.08 783.7,1305.08 785.7,1305.08 787.7,1305.07 789.7,1305.07 791.7,1305.06 793.7,1305.05 795.7,1305.03 797.7,1305.01 799.7,1304.97 800.1,1304.96 800.2,1304.95 800.4,1304.95 800.5,1304.95 800.6,1304.94 800.7,1304.94 800.9,1304.93 801,1304.93 801.1,1304.92 801.2,1304.92 801.4,1304.91 801.5,1304.91 801.6,1304.90 801.7,1304.90 801.7,1304.90 801.9,1304.89 802,1304.88 802.1,1304.88 802.2,1304.87 802.4,1304.86 802.5,1304.85 802.6,1304.85 802.7,1304.84 802.9,1304.83 803,1304.82 803.1,1304.81 803.2,1304.80 803.4,1304.79 803.5,1304.77 803.6,1304.76 803.7,1304.75 803.7,1304.75 803.9,1304.74 804,1304.72 804.1,1304.70 804.2,1304.69 804.4,1304.67 804.5,1304.65 804.6,1304.63 804.7,1304.61 804.9,1304.58 805,1304.56 805.1,1304.53 805.2,1304.50 805.4,1304.47 805.5,1304.44 805.6,1304.40 805.7,1304.37 805.7,1304.36 805.9,1304.32 806,1304.27 806.1,1304.22 806.2,1304.16 806.4,1304.10 806.5,1304.03 806.6,1303.95 806.7,1303.86 806.9,1303.77 807,1303.66 807.1,1303.55 807.2,1303.41 807.4,1303.26 807.5,1303.08 807.6,1302.89 807.7,1302.71 807.7,1302.65 807.9,1302.40 808,1302.07 808.1,1301.72 808.2,1301.26 808.4,1300.75 808.5,1300.09 808.6,1299.33 808.7,1298.31 808.9,1297.12 809,1295.47 809.1,1293.48 809.2,1290.63 809.4,1287.09 809.5,1281.90 809.6,1275.44 809.7,1268.65 809.7,1266.37 809.9,1256.61 810,1247.18 810.1,1243.60 810.2,1247.76 810.4,1256.61 810.5,1267.14 810.6,1275.44 810.7,1282.36 810.9,1287.09 811,1290.88 811.1,1293.48 811.2,1295.61 811.4,1297.12 811.5,1298.40 811.6,1299.33 811.7,1299.97 811.7,1300.14 811.9,1300.75 812,1301.30 812.1,1301.72 812.2,1302.10 812.4,1302.40 812.5,1302.67 812.6,1302.89 812.7,1303.10 812.9,1303.26 813,1303.42 813.1,1303.55 813.2,1303.67 813.4,1303.77 813.5,1303.87 813.6,1303.95 813.7,1304.01 813.7,1304.03 813.9,1304.10 814,1304.16 814.1,1304.22 814.2,1304.27 814.4,1304.32 814.5,1304.36 814.6,1304.40 814.7,1304.44 814.9,1304.47 815,1304.50 815.1,1304.53 815.2,1304.56 815.4,1304.58 815.5,1304.61 815.6,1304.63 815.7,1304.65 815.7,1304.65 815.9,1304.67 816,1304.69 816.1,1304.70 816.2,1304.72 816.4,1304.74 816.5,1304.75 816.6,1304.76 816.7,1304.78 816.9,1304.79 817,1304.80 817.1,1304.81 817.2,1304.82 817.4,1304.83 817.5,1304.84 817.6,1304.85 817.7,1304.85 817.7,1304.85 817.9,1304.86 818,1304.87 818.1,1304.88 818.2,1304.88 818.4,1304.89 818.5,1304.90 818.6,1304.90 818.7,1304.91 818.9,1304.91 819,1304.92 819.1,1304.92 819.2,1304.93 819.4,1304.93 819.5,1304.94 819.6,1304.94 819.7,1304.94 819.7,1304.95 819.9,1304.95 820,1304.95 820.1,1304.96 821.7,1304.99 823.7,1305.02 825.7,1305.04 827.7,1305.05 829.7,1305.06 831.7,1305.07 833.7,1305.07 835.7,1305.08 837.7,1305.08 839.7,1305.08 841.7,1305.09 843.7,1305.09 845.7,1305.09 847.7,1305.09 849.7,1305.09 851.7,1305.09 853.7,1305.09 855.7,1305.09 857.7,1305.09 859.7,1305.09 861.7,1305.09 863.7,1305.10 865.7,1305.10 867.7,1305.10 869.7,1305.10 871.7,1305.10 873.7,1305.10 875.7,1305.10 877.7,1305.10 879.7,1305.10 881.7,1305.10 883.7,1305.10 885.7,1305.10 887.7,1305.10 889.7,1305.10 891.7,1305.10 893.7,1305.10 895.7,1305.10 897.7,1305.10 899.7,1305.10 900.2,1305.10" fill="none" stroke="#f09a30" stroke-width="1.4" stroke-linejoin="round"/>
<polyline points="666.6,1320.80 668.6,1320.80 670.6,1320.80 672.6,1320.80 674.6,1320.80 676.6,1320.80 678.6,1320.80 680.6,1320.80 682.6,1320.80 684.6,1320.80 686.6,1320.80 688.6,1320.80 690.6,1320.80 692.6,1320.80 694.6,1320.80 696.6,1320.80 698.6,1320.80 700.6,1320.80 702.6,1320.80 704.6,1320.80 706.6,1320.80 708.6,1320.80 710.6,1320.80 712.6,1320.80 714.6,1320.80 716.6,1320.80 718.6,1320.80 720.6,1320.80 722.6,1320.80 724.6,1320.80 726.6,1320.80 728.6,1320.80 730.6,1320.80 732.6,1320.80 734.6,1320.80 736.6,1320.80 738.6,1320.80 740.6,1320.80 742.6,1320.80 744.6,1320.79 746.6,1320.79 748.6,1320.79 750.6,1320.79 752.6,1320.79 754.6,1320.79 756.6,1320.79 758.6,1320.79 760.6,1320.79 762.6,1320.79 764.6,1320.79 766.6,1320.79 768.6,1320.78 770.6,1320.78 772.6,1320.78 774.6,1320.78 776.6,1320.77 778.6,1320.77 780.6,1320.76 782.6,1320.75 784.6,1320.74 786.6,1320.72 788.6,1320.69 790.5,1320.64 790.6,1320.64 790.6,1320.64 790.8,1320.63 790.9,1320.63 791,1320.62 791.1,1320.62 791.2,1320.61 791.4,1320.61 791.5,1320.60 791.6,1320.60 791.8,1320.59 791.9,1320.58 792,1320.58 792.1,1320.57 792.2,1320.56 792.4,1320.56 792.5,1320.55 792.6,1320.54 792.6,1320.54 792.8,1320.53 792.9,1320.52 793,1320.51 793.1,1320.51 793.2,1320.49 793.4,1320.48 793.5,1320.47 793.6,1320.46 793.8,1320.45 793.9,1320.43 794,1320.42 794.1,1320.41 794.2,1320.39 794.4,1320.37 794.5,1320.35 794.6,1320.34 794.6,1320.34 794.8,1320.32 794.9,1320.29 795,1320.27 795.1,1320.25 795.2,1320.22 795.4,1320.19 795.5,1320.16 795.6,1320.13 795.8,1320.09 795.9,1320.05 796,1320.01 796.1,1319.97 796.2,1319.92 796.4,1319.86 796.5,1319.81 796.6,1319.76 796.6,1319.75 796.8,1319.67 796.9,1319.59 797,1319.51 797.1,1319.42 797.2,1319.31 797.4,1319.18 797.5,1319.05 797.6,1318.91 797.8,1318.73 797.9,1318.53 798,1318.32 798.1,1318.07 798.2,1317.76 798.4,1317.39 798.5,1317.00 798.6,1316.61 798.6,1316.53 798.8,1315.92 798.9,1315.17 799,1314.33 799.1,1313.29 799.2,1311.87 799.4,1310.03 799.5,1307.83 799.6,1304.95 799.8,1300.79 799.9,1295.11 800,1288.12 800.1,1279.23 800.2,1268.11 800.4,1258.29 800.5,1254.60 800.6,1257.21 800.6,1258.29 800.8,1268.11 800.9,1279.23 801,1288.12 801.1,1295.11 801.2,1300.79 801.4,1304.95 801.5,1307.83 801.6,1310.03 801.8,1311.87 801.9,1313.29 802,1314.33 802.1,1315.17 802.2,1315.92 802.4,1316.53 802.5,1317.00 802.6,1317.33 802.6,1317.39 802.8,1317.76 802.9,1318.07 803,1318.32 803.1,1318.53 803.2,1318.73 803.4,1318.91 803.5,1319.05 803.6,1319.18 803.8,1319.31 803.9,1319.42 804,1319.51 804.1,1319.59 804.2,1319.67 804.4,1319.75 804.5,1319.81 804.6,1319.85 804.6,1319.86 804.8,1319.92 804.9,1319.97 805,1320.01 805.1,1320.05 805.2,1320.09 805.4,1320.13 805.5,1320.16 805.6,1320.19 805.8,1320.22 805.9,1320.25 806,1320.27 806.1,1320.29 806.2,1320.32 806.4,1320.34 806.5,1320.35 806.6,1320.37 806.6,1320.37 806.8,1320.39 806.9,1320.41 807,1320.42 807.1,1320.43 807.2,1320.45 807.4,1320.46 807.5,1320.47 807.6,1320.48 807.8,1320.49 807.9,1320.51 808,1320.51 808.1,1320.52 808.2,1320.53 808.4,1320.54 808.5,1320.55 808.6,1320.55 808.6,1320.56 808.8,1320.56 808.9,1320.57 809,1320.58 809.1,1320.58 809.2,1320.59 809.4,1320.60 809.5,1320.60 809.6,1320.61 809.8,1320.61 809.9,1320.62 810,1320.62 810.1,1320.63 810.2,1320.63 810.4,1320.64 810.5,1320.64 810.6,1320.64 812.6,1320.69 814.6,1320.72 816.6,1320.74 818.6,1320.75 820.6,1320.76 822.6,1320.77 824.6,1320.77 826.6,1320.78 828.6,1320.78 830.6,1320.78 832.6,1320.78 834.6,1320.79 836.6,1320.79 838.6,1320.79 840.6,1320.79 842.6,1320.79 844.6,1320.79 846.6,1320.79 848.6,1320.79 850.6,1320.79 852.6,1320.79 854.6,1320.79 856.6,1320.79 858.6,1320.80 860.6,1320.80 862.6,1320.80 864.6,1320.80 866.6,1320.80 868.6,1320.80 870.6,1320.80 872.6,1320.80 874.6,1320.80 876.6,1320.80 878.6,1320.80 880.6,1320.80 882.6,1320.80 884.6,1320.80 886.6,1320.80 888.6,1320.80 890.6,1320.80 892.6,1320.80 893.2,1320.80" fill="none" stroke="#f07a30" stroke-width="1.4" stroke-linejoin="round"/>
<polyline points="652.1,1337.60 654.1,1337.60 656.1,1337.60 658.1,1337.60 660.1,1337.60 662.1,1337.60 664.1,1337.60 666.1,1337.60 668.1,1337.60 670.1,1337.60 672.1,1337.60 674.1,1337.60 676.1,1337.60 678.1,1337.60 680.1,1337.60 682.1,1337.60 684.1,1337.60 686.1,1337.60 688.1,1337.60 690.1,1337.60 692.1,1337.60 694.1,1337.60 696.1,1337.60 698.1,1337.60 700.1,1337.60 702.1,1337.60 704.1,1337.60 706.1,1337.60 708.1,1337.60 710.1,1337.60 712.1,1337.60 714.1,1337.60 716.1,1337.60 718.1,1337.60 720.1,1337.60 722.1,1337.60 724.1,1337.60 726.1,1337.60 728.1,1337.60 730.1,1337.60 732.1,1337.60 734.1,1337.59 736.1,1337.59 738.1,1337.59 740.1,1337.59 742.1,1337.59 744.1,1337.59 746.1,1337.59 748.1,1337.59 750.1,1337.59 752.1,1337.59 754.1,1337.59 756.1,1337.59 758.1,1337.58 760.1,1337.58 762.1,1337.58 764.1,1337.58 766.1,1337.57 768.1,1337.57 770.1,1337.56 772.1,1337.55 774.1,1337.54 776.1,1337.52 778.1,1337.49 780.1,1337.45 780.4,1337.44 780.5,1337.44 780.6,1337.43 780.8,1337.43 780.9,1337.42 781,1337.42 781.1,1337.41 781.3,1337.41 781.4,1337.40 781.5,1337.40 781.6,1337.39 781.8,1337.39 781.9,1337.38 782,1337.37 782.1,1337.37 782.1,1337.37 782.3,1337.36 782.4,1337.35 782.5,1337.34 782.6,1337.34 782.8,1337.33 782.9,1337.32 783,1337.31 783.1,1337.30 783.3,1337.29 783.4,1337.28 783.5,1337.26 783.6,1337.25 783.8,1337.24 783.9,1337.22 784,1337.21 784.1,1337.20 784.1,1337.19 784.3,1337.18 784.4,1337.16 784.5,1337.14 784.6,1337.12 784.8,1337.10 784.9,1337.08 785,1337.05 785.1,1337.03 785.3,1337.00 785.4,1336.97 785.5,1336.94 785.6,1336.90 785.8,1336.86 785.9,1336.82 786,1336.78 786.1,1336.75 786.1,1336.73 786.3,1336.68 786.4,1336.62 786.5,1336.56 786.6,1336.49 786.8,1336.41 786.9,1336.32 787,1336.23 787.1,1336.12 787.3,1336.01 787.4,1335.88 787.5,1335.73 787.6,1335.56 787.8,1335.37 787.9,1335.15 788,1334.90 788.1,1334.72 788.1,1334.60 788.3,1334.27 788.4,1333.85 788.5,1333.39 788.6,1332.79 788.8,1332.12 788.9,1331.23 789,1330.21 789.1,1328.82 789.3,1327.19 789.4,1324.89 789.5,1322.11 789.6,1318.09 789.8,1313.15 789.9,1306.04 790,1297.72 790.1,1291.44 790.1,1287.45 790.3,1279.07 790.4,1275.20 790.5,1278.53 790.6,1287.45 790.8,1296.95 790.9,1306.04 791,1312.67 791.1,1318.09 791.3,1321.84 791.4,1324.89 791.5,1327.03 791.6,1328.82 791.8,1330.12 791.9,1331.23 792,1332.06 792.1,1332.53 792.1,1332.79 792.3,1333.35 792.4,1333.85 792.5,1334.24 792.6,1334.60 792.8,1334.88 792.9,1335.15 793,1335.36 793.1,1335.56 793.3,1335.72 793.4,1335.88 793.5,1336.00 793.6,1336.12 793.8,1336.23 793.9,1336.32 794,1336.41 794.1,1336.46 794.1,1336.49 794.3,1336.55 794.4,1336.62 794.5,1336.67 794.6,1336.73 794.8,1336.78 794.9,1336.82 795,1336.86 795.1,1336.90 795.3,1336.93 795.4,1336.97 795.5,1337.00 795.6,1337.03 795.8,1337.05 795.9,1337.08 796,1337.10 796.1,1337.11 796.1,1337.12 796.3,1337.14 796.4,1337.16 796.5,1337.18 796.6,1337.19 796.8,1337.21 796.9,1337.22 797,1337.24 797.1,1337.25 797.3,1337.26 797.4,1337.28 797.5,1337.29 797.6,1337.30 797.8,1337.31 797.9,1337.32 798,1337.33 798.1,1337.33 798.1,1337.34 798.3,1337.34 798.4,1337.35 798.5,1337.36 798.6,1337.37 798.8,1337.37 798.9,1337.38 799,1337.39 799.1,1337.39 799.3,1337.40 799.4,1337.40 799.5,1337.41 799.6,1337.41 799.8,1337.42 799.9,1337.42 800,1337.43 800.1,1337.43 800.1,1337.43 800.3,1337.44 800.4,1337.44 802.1,1337.48 804.1,1337.52 806.1,1337.54 808.1,1337.55 810.1,1337.56 812.1,1337.57 814.1,1337.57 816.1,1337.58 818.1,1337.58 820.1,1337.58 822.1,1337.58 824.1,1337.59 826.1,1337.59 828.1,1337.59 830.1,1337.59 832.1,1337.59 834.1,1337.59 836.1,1337.59 838.1,1337.59 840.1,1337.59 842.1,1337.59 844.1,1337.59 846.1,1337.59 848.1,1337.60 850.1,1337.60 852.1,1337.60 854.1,1337.60 856.1,1337.60 858.1,1337.60 860.1,1337.60 862.1,1337.60 864.1,1337.60 866.1,1337.60 868.1,1337.60 870.1,1337.60 872.1,1337.60 874.1,1337.60 876.1,1337.60 878.1,1337.60 880.1,1337.60 882.1,1337.60 884.1,1337.60 885.3,1337.60" fill="none" stroke="#f04a50" stroke-width="1.4" stroke-linejoin="round"/>
<polyline points="636.7,1355.30 638.7,1355.30 640.7,1355.30 642.7,1355.30 644.7,1355.30 646.7,1355.30 648.7,1355.30 650.7,1355.30 652.7,1355.30 654.7,1355.30 656.7,1355.30 658.7,1355.30 660.7,1355.30 662.7,1355.30 664.7,1355.30 666.7,1355.30 668.7,1355.30 670.7,1355.30 672.7,1355.30 674.7,1355.30 676.7,1355.30 678.7,1355.30 680.7,1355.30 682.7,1355.30 684.7,1355.30 686.7,1355.30 688.7,1355.30 690.7,1355.30 692.7,1355.30 694.7,1355.30 696.7,1355.30 698.7,1355.30 700.7,1355.30 702.7,1355.30 704.7,1355.30 706.7,1355.30 708.7,1355.30 710.7,1355.30 712.7,1355.30 714.7,1355.30 716.7,1355.30 718.7,1355.30 720.7,1355.30 722.7,1355.29 724.7,1355.29 726.7,1355.29 728.7,1355.29 730.7,1355.29 732.7,1355.29 734.7,1355.29 736.7,1355.29 738.7,1355.29 740.7,1355.29 742.7,1355.29 744.7,1355.29 746.7,1355.28 748.7,1355.28 750.7,1355.28 752.7,1355.28 754.7,1355.27 756.7,1355.27 758.7,1355.26 760.7,1355.25 762.7,1355.24 764.7,1355.22 766.7,1355.20 768.7,1355.16 769.6,1355.13 769.7,1355.13 769.9,1355.12 770,1355.12 770.1,1355.11 770.2,1355.11 770.4,1355.10 770.5,1355.10 770.6,1355.09 770.7,1355.09 770.7,1355.09 770.9,1355.08 771,1355.07 771.1,1355.07 771.2,1355.06 771.4,1355.05 771.5,1355.04 771.6,1355.04 771.7,1355.03 771.9,1355.02 772,1355.01 772.1,1355.00 772.2,1354.99 772.4,1354.98 772.5,1354.97 772.6,1354.96 772.7,1354.95 772.7,1354.94 772.9,1354.93 773,1354.92 773.1,1354.90 773.2,1354.88 773.4,1354.87 773.5,1354.85 773.6,1354.83 773.7,1354.81 773.9,1354.79 774,1354.77 774.1,1354.74 774.2,1354.72 774.4,1354.69 774.5,1354.66 774.6,1354.63 774.7,1354.60 774.7,1354.59 774.9,1354.56 775,1354.52 775.1,1354.47 775.2,1354.42 775.4,1354.37 775.5,1354.32 775.6,1354.26 775.7,1354.19 775.9,1354.12 776,1354.03 776.1,1353.94 776.2,1353.84 776.4,1353.73 776.5,1353.60 776.6,1353.47 776.7,1353.35 776.7,1353.31 776.9,1353.13 777,1352.92 777.1,1352.70 777.2,1352.42 777.4,1352.12 777.5,1351.74 777.6,1351.33 777.7,1350.80 777.9,1350.21 778,1349.44 778.1,1348.57 778.2,1347.40 778.4,1346.04 778.5,1344.17 778.6,1341.95 778.7,1339.60 778.7,1338.79 778.9,1334.93 779,1329.40 779.1,1322.71 779.2,1313.66 779.4,1304.36 779.5,1295.77 779.6,1292.60 779.7,1296.29 779.9,1304.36 780,1314.42 780.1,1322.71 780.2,1329.88 780.4,1334.93 780.5,1339.06 780.6,1341.95 780.7,1343.84 780.7,1344.34 780.9,1346.04 781,1347.50 781.1,1348.57 781.2,1349.50 781.4,1350.21 781.5,1350.84 781.6,1351.33 781.7,1351.77 781.9,1352.12 782,1352.44 782.1,1352.70 782.2,1352.94 782.4,1353.13 782.5,1353.32 782.6,1353.47 782.7,1353.58 782.7,1353.61 782.9,1353.73 783,1353.85 783.1,1353.94 783.2,1354.04 783.4,1354.12 783.5,1354.19 783.6,1354.26 783.7,1354.32 783.9,1354.37 784,1354.43 784.1,1354.47 784.2,1354.52 784.4,1354.56 784.5,1354.60 784.6,1354.63 784.7,1354.65 784.7,1354.66 784.9,1354.69 785,1354.72 785.1,1354.74 785.2,1354.77 785.4,1354.79 785.5,1354.81 785.6,1354.83 785.7,1354.85 785.9,1354.87 786,1354.89 786.1,1354.90 786.2,1354.92 786.4,1354.93 786.5,1354.94 786.6,1354.96 786.7,1354.97 786.7,1354.97 786.9,1354.98 787,1354.99 787.1,1355.00 787.2,1355.01 787.4,1355.02 787.5,1355.03 787.6,1355.04 787.7,1355.04 787.9,1355.05 788,1355.06 788.1,1355.07 788.2,1355.07 788.4,1355.08 788.5,1355.09 788.6,1355.09 788.7,1355.10 788.7,1355.10 788.9,1355.10 789,1355.11 789.1,1355.11 789.2,1355.12 789.4,1355.12 789.5,1355.13 789.6,1355.13 790.7,1355.16 792.7,1355.20 794.7,1355.23 796.7,1355.24 798.7,1355.25 800.7,1355.26 802.7,1355.27 804.7,1355.27 806.7,1355.28 808.7,1355.28 810.7,1355.28 812.7,1355.28 814.7,1355.29 816.7,1355.29 818.7,1355.29 820.7,1355.29 822.7,1355.29 824.7,1355.29 826.7,1355.29 828.7,1355.29 830.7,1355.29 832.7,1355.29 834.7,1355.29 836.7,1355.29 838.7,1355.30 840.7,1355.30 842.7,1355.30 844.7,1355.30 846.7,1355.30 848.7,1355.30 850.7,1355.30 852.7,1355.30 854.7,1355.30 856.7,1355.30 858.7,1355.30 860.7,1355.30 862.7,1355.30 864.7,1355.30 866.7,1355.30 868.7,1355.30 870.7,1355.30 872.7,1355.30 874.7,1355.30 876.7,1355.30 877.8,1355.30" fill="none" stroke="#e8128c" stroke-width="1.4" stroke-linejoin="round"/>
<text x="897" y="1364.8" font-size="13.6" text-anchor="middle" font-family="Liberation Serif" font-weight="bold" fill="#000" >A</text>
<text x="904.2" y="1346.4" font-size="13.3" text-anchor="middle" font-family="Liberation Serif" font-weight="bold" fill="#000" >B</text>
<text x="911.2" y="1329.4" font-size="13.0" text-anchor="middle" font-family="Liberation Serif" font-weight="bold" fill="#000" >C</text>
<text x="917.3" y="1314.8" font-size="12.6" text-anchor="middle" font-family="Liberation Serif" font-weight="bold" fill="#000" >D</text>
<text x="922.8" y="1299.6" font-size="12.3" text-anchor="middle" font-family="Liberation Serif" font-weight="bold" fill="#000" >E</text>
<text x="928.6" y="1285.6" font-size="12.0" text-anchor="middle" font-family="Liberation Serif" font-weight="bold" fill="#000" >F</text>
<text x="934.4" y="1272.4" font-size="11.7" text-anchor="middle" font-family="Liberation Serif" font-weight="bold" fill="#000" >G</text>
<text x="939.7" y="1259.1" font-size="11.4" text-anchor="middle" font-family="Liberation Serif" font-weight="bold" fill="#000" >H</text>
<text x="942.6" y="1246.8" font-size="11.0" text-anchor="middle" font-family="Liberation Serif" font-weight="bold" fill="#000" >I</text>
<text x="628.9" y="1390.8" font-size="14.6" text-anchor="middle" font-family="Liberation Serif" font-weight="bold" fill="#000" >200</text>
<text x="671.2" y="1390.8" font-size="14.6" text-anchor="middle" font-family="Liberation Serif" font-weight="bold" fill="#000" >300</text>
<text x="713.7" y="1390.8" font-size="14.6" text-anchor="middle" font-family="Liberation Serif" font-weight="bold" fill="#000" >400</text>
<text x="756.1" y="1390.8" font-size="14.6" text-anchor="middle" font-family="Liberation Serif" font-weight="bold" fill="#000" >500</text>
<text x="798.6" y="1390.8" font-size="14.6" text-anchor="middle" font-family="Liberation Serif" font-weight="bold" fill="#000" >600</text>
<text x="841" y="1390.8" font-size="14.6" text-anchor="middle" font-family="Liberation Serif" font-weight="bold" fill="#000" >700</text>
<text x="883.2" y="1390.8" font-size="14.6" text-anchor="middle" font-family="Liberation Serif" font-weight="bold" fill="#000" >800</text>
<text x="696.4" y="1417.6" font-size="15.6" font-family="Liberation Serif" font-weight="bold">Raman shift(cm<tspan font-size="9.5" dy="-6">-1</tspan><tspan dy="6">)</tspan></text>
<text transform="translate(614.2,1380) rotate(-90)" font-size="15.3" font-family="Liberation Serif" font-weight="bold">Raman Intensity(a.u.)</text>
<line x1="839.6" y1="1182.7" x2="957.1" y2="1128.9" stroke="#c00000" stroke-width="4" stroke-dasharray="12.5 5.5"/>
<rect x="956.9" y="1129.2" width="225.2" height="227" fill="#000" stroke="#c00000" stroke-width="4.8" stroke-dasharray="16.5 9" stroke-dashoffset="0"/>
<circle cx="1067.1" cy="1156.8" r="14" fill="#fff"/>
<text x="1067.1" y="1160.1" font-size="9.5" text-anchor="middle" font-family="Liberation Sans" font-weight="bold" fill="#f0141e" stroke="#f0141e" stroke-width="0.2">-0.17</text>
<circle cx="1067.1" cy="1196.9" r="14" fill="#fff"/>
<text x="1067.1" y="1200.2" font-size="9.5" text-anchor="middle" font-family="Liberation Sans" font-weight="bold" fill="#f0141e" stroke="#f0141e" stroke-width="0.2">-0.20</text>
<circle cx="1067.1" cy="1238.4" r="14" fill="#fff"/>
<text x="1067.1" y="1241.7" font-size="9.5" text-anchor="middle" font-family="Liberation Sans" font-weight="bold" fill="#f0141e" stroke="#f0141e" stroke-width="0.2">-0.27</text>
<circle cx="1067.1" cy="1276.6" r="14" fill="#fff"/>
<text x="1067.1" y="1279.9" font-size="9.5" text-anchor="middle" font-family="Liberation Sans" font-weight="bold" fill="#f0141e" stroke="#f0141e" stroke-width="0.2">-0.19</text>
<circle cx="1067.1" cy="1318.6" r="14" fill="#fff"/>
<text x="1067.1" y="1321.9" font-size="9.5" text-anchor="middle" font-family="Liberation Sans" font-weight="bold" fill="#f0141e" stroke="#f0141e" stroke-width="0.2">-0.24</text>
<circle cx="985.6" cy="1238.4" r="14" fill="#fff"/>
<text x="985.6" y="1241.7" font-size="9.5" text-anchor="middle" font-family="Liberation Sans" font-weight="bold" fill="#f0141e" stroke="#f0141e" stroke-width="0.2">-0.22</text>
<circle cx="1027.6" cy="1238.4" r="14" fill="#fff"/>
<text x="1027.6" y="1241.7" font-size="9.5" text-anchor="middle" font-family="Liberation Sans" font-weight="bold" fill="#f0141e" stroke="#f0141e" stroke-width="0.2">-0.18</text>
<circle cx="1110.3" cy="1238.4" r="14" fill="#fff"/>
<text x="1110.3" y="1241.7" font-size="9.5" text-anchor="middle" font-family="Liberation Sans" font-weight="bold" fill="#f0141e" stroke="#f0141e" stroke-width="0.2">-0.25</text>
<circle cx="1149.3" cy="1238.4" r="14" fill="#fff"/>
<text x="1149.3" y="1241.7" font-size="9.5" text-anchor="middle" font-family="Liberation Sans" font-weight="bold" fill="#f0141e" stroke="#f0141e" stroke-width="0.2">-0.19</text>
</g>
</svg></body></html>
